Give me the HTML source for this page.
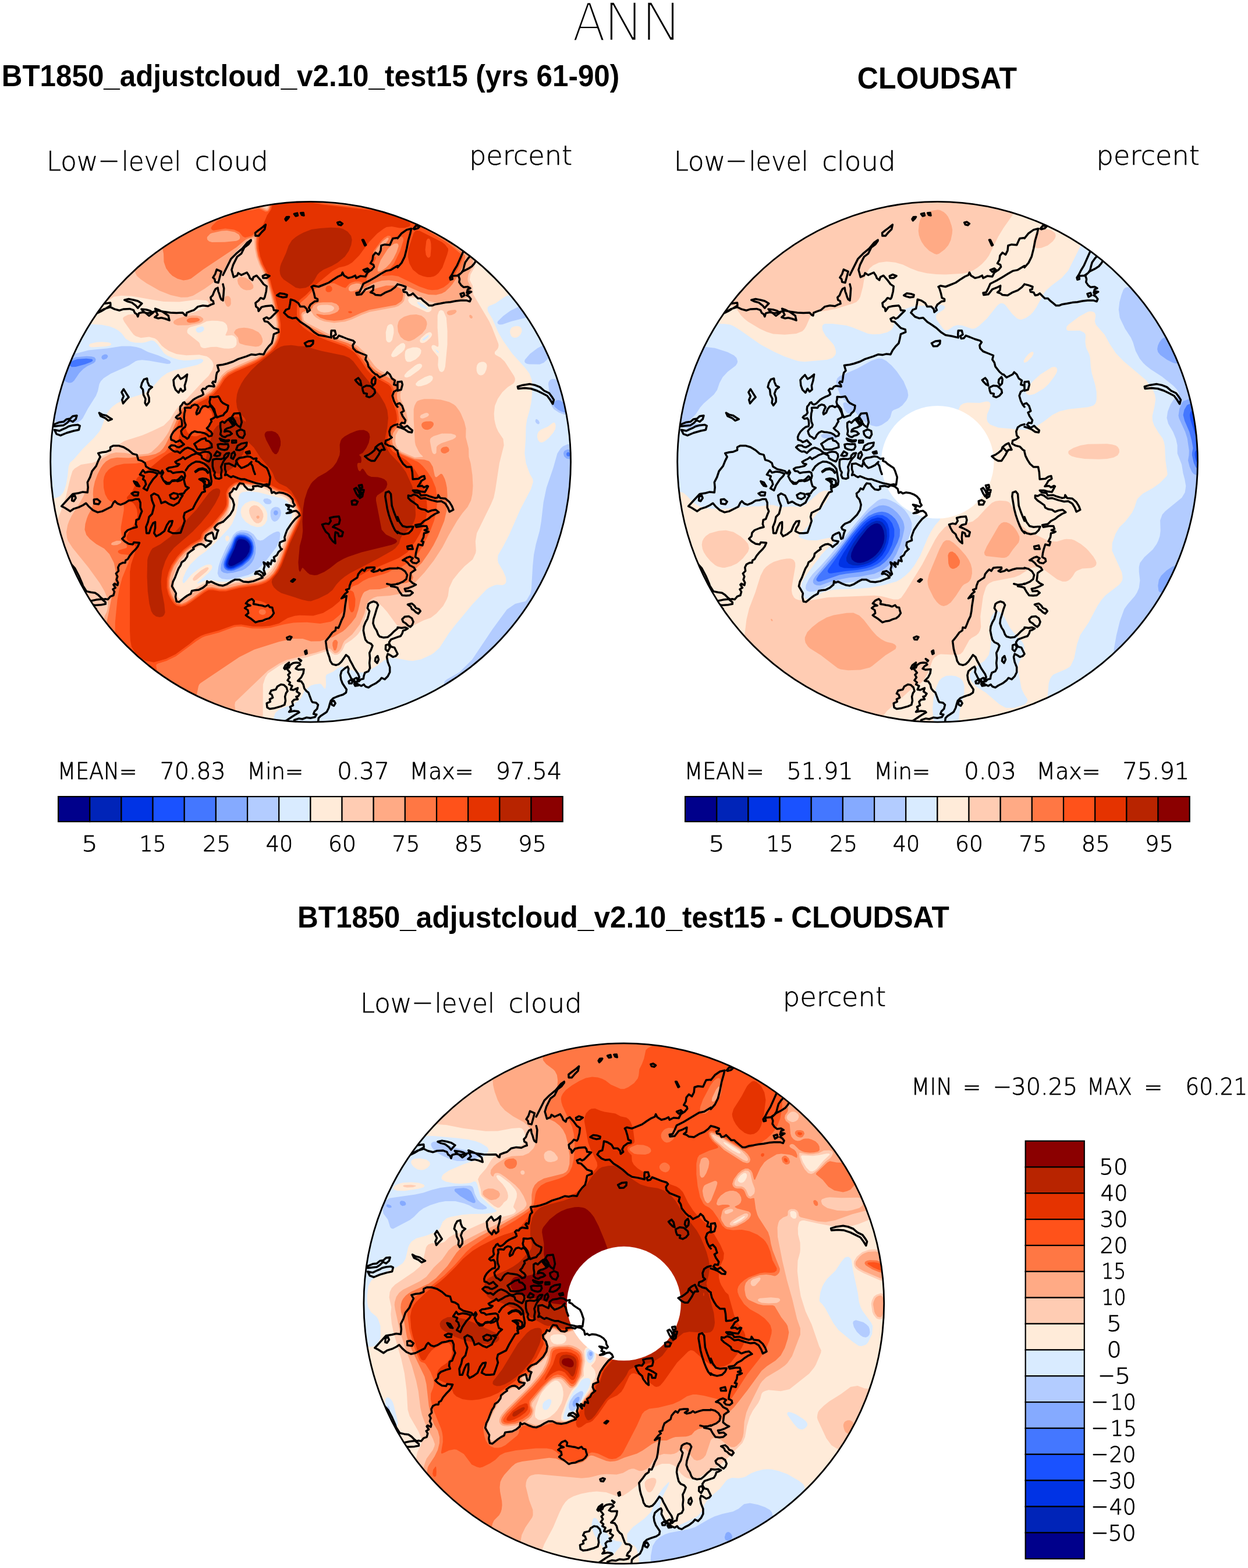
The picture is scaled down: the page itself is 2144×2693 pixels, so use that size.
<!DOCTYPE html>
<html lang="en"><head><meta charset="utf-8"><title>ANN Low-level cloud</title>
<style>
html,body{margin:0;padding:0;background:#fff;}
body{width:2144px;height:2693px;overflow:hidden;}
svg{display:block;}
.h{font-family:"DejaVu Sans Light","DejaVu Sans","Liberation Sans",sans-serif;font-weight:200;fill:#000;stroke:#000;stroke-linejoin:round;}
.b{font-family:"Liberation Sans",sans-serif;font-weight:700;fill:#000;}
.cl{fill:none;stroke:#000;stroke-width:3.5;stroke-linejoin:round;stroke-linecap:round;}
</style></head><body>
<svg width="2144" height="2693" viewBox="0 0 2144 2693">
<rect width="2144" height="2693" fill="#fff"/>
<defs>
<clipPath id="cp"><circle cx="0" cy="0" r="447.3"/></clipPath>
<g id="coast" class="cl"><path d="M-366.7,-255.8 -355.3,-262.3 -344,-265.8 -337,-262.3 -328.2,-260 -321.2,-262.3 -310.7,-262.8 -304.1,-260.5 -302,-255.8 -298.5,-253.5 -296.8,-249.5 -295,-255.3 -288,-257 -280.1,-255.3 -274,-256.5 -268.8,-257.9 -261.8,-259.6 -253,-257.9 -240.8,-256.1 -230.3,-255.8 -219.8,-256.1 -215.5,-251.8 -213.7,-251.2 -212.8,-256.1 -205.8,-258.8 -200.6,-260.5 -193.6,-266.6 -184.9,-268.4 -176.1,-267.5 -170.9,-270.1 -166.5,-271.5 -167.4,-276.2 -170.9,-278 -171.8,-282.4 -168.3,-285.9 -165.6,-292.9 -163,-297.2 -159.5,-299 -158.6,-292.9 -156.9,-288.5 -155.1,-282.4 -153.4,-278.9 -150.6,-277.1M-357.1,-271.5 -344,-273.3 -343.6,-268.4 -350.1,-264.5 -359.7,-258.8 -365.8,-255.8ZM-319.8,-278 -312.5,-279.7 -303.7,-278 -296.8,-276.2 -289.8,-271.9 -294.1,-267.5 -296.8,-264 -300.3,-268.4 -307.2,-273.6 -314.2,-275.4ZM-290.6,-262.3 -282.8,-261.4 -275.8,-259.6 -270.5,-256.1 -274,-253.5 -277.5,-250.9 -282.8,-255.3 -288,-258.8ZM-267,-263.1 -260,-260.5 -253,-257 -244.3,-250.9 -242.6,-243 -249.6,-245.7 -256.5,-247.4 -261.8,-246.5 -267.9,-248.3 -262.7,-252.6 -265.3,-257.9ZM-161.3,-330.4 -153.4,-326.9 -156,-317.3 -158.6,-307.7 -163.9,-308.9 -164.8,-313.8 -167.7,-316.5 -163.9,-322.6ZM-150.6,-277.1 -149.7,-285.9 -148.9,-298.1 -150.6,-305.1M-150.6,-320.8 -143.6,-334.8 -136.6,-348.8 -127.9,-357.5 -117.4,-366.3 -108.6,-376.8 -102.5,-381.1 -102.5,-379.4 -106.9,-373.3 -113.9,-368 -119.1,-357.5 -126.1,-352.3 -129.6,-345.3 -133.1,-338.3 -135.7,-329.6 -132.2,-317.3 -126.1,-320 -124.4,-324.3 -119.1,-320.8 -109.5,-325.2 -106,-320 -104.3,-315.6 -99.9,-312.1 -98.2,-317.3 -92.9,-320 -85.9,-312.1 -80.7,-305.1 -75.4,-301.6 -76.3,-292.9 -78.9,-282.4 -80.7,-279.7 -85.9,-281.5 -89.4,-277.1 -94.7,-272.8 -93.8,-266.6 -90.3,-264 -89.4,-258.8 -84.2,-265.8 -77.2,-267.5 -66.7,-268.4 -64.1,-264.9 -63.2,-260.5 -56.2,-259.6 -63.2,-252.6 -68.4,-247.4 -71.9,-245.7 -75.4,-248.3 -80.7,-245.7 -78.9,-241.3 -73.7,-240.4 -68.4,-235.2 -63.2,-229.9 -55.3,-227.3 -54.8,-222.9 -63.2,-219.4 -64.9,-210.7 -66.7,-203.7 -71.9,-198.5 -77.2,-191.5 -80.7,-184.5 -87.7,-185.3 -94.7,-183.6 -101.6,-184.5 -110.4,-181 -124.4,-176.6 -133.1,-172.2 -143.6,-168.7 -150.6,-167M-95,-393.4 -89.4,-397.8 -82.4,-403 -77.2,-407.4 -78.9,-399.5 -84.2,-394.3 -89.4,-388.1 -94.7,-388.1ZM-43.6,-417 -41.3,-420.5 -37,-420.8 -38.7,-417.9 -42.2,-414.4ZM-28.2,-425.7 -23,-427.1 -22.1,-423.1 -25.6,-422.2ZM-16.9,-427.5 -12.5,-427.8 -11.6,-423.1 -15.1,-424ZM46.1,-410.9 50.4,-412.1 54.8,-409.1 52.2,-406.5 47.8,-407.4ZM88.9,-381.1 90.7,-381.1 95,-372.4 93.3,-371.5ZM-82.4,-319.1 -77.2,-321.7 -70.5,-319.4 -75.4,-315.6 -81.5,-315.6ZM-57.9,-285.9 -52.7,-289.4 -45.7,-288.5 -40.5,-286.7 -41.3,-283.2 -47.5,-282.4 -53.6,-284.1ZM-10.2,-203.7 -3.7,-207.2 4.6,-208.1 4.1,-202.8 -0.3,-198.8 -7.2,-198.5ZM111.6,-150.2 106.4,-154.7 99.4,-163.5 97.7,-170.5 94.2,-175.7 95.9,-182.7 87.2,-186.2 78.4,-189.7 73.2,-195 72.3,-200.2 75.8,-205.4 73.2,-208.1 64.4,-210.7 55.7,-214.2 48.7,-216.8 45.2,-212.4 40.8,-211.6 39.1,-215.9 43.5,-218.6 41.7,-225.5 35.6,-225.5 35.1,-219.4 35.6,-213.3 24.2,-215.9 13.7,-217.7 6.7,-222.1 -2,-229.9 -10.7,-236 -17.7,-240.4 -24.7,-247.4 -31.7,-246.5 -38.7,-249.2 -45.7,-256.1 -42.2,-261.4 -37,-263.1 -35.2,-271.9 -34.3,-278.9 -28.2,-277.1 -21.2,-272.8 -17.7,-266.6 -10.7,-266.6 -6.4,-262.3 -5.5,-257 -1.1,-260.5 -2.9,-264.9 -0.3,-270.1 6.7,-275.4 12,-276.2 12,-279.7 7.6,-281.5 5.9,-289.4 3.2,-298.1 1.5,-300.7 5,-302.5 13.7,-300.7 22.5,-304.2 31.2,-307.7 40,-313.8 47,-318.2 53.1,-320.8 54.8,-325.2 57.4,-320 64.4,-315.6 71.4,-317.3 76.7,-320 78.4,-315.6 85.4,-319.1 94.2,-318.2 97.7,-325.2 104.6,-329.6 109,-334.8 108.1,-338.3 102.9,-340.9 106.4,-347.1 107.3,-354 111.6,-359.3 116.9,-355.8 120.4,-362.8 121.3,-371.5 127.4,-373.3 136.1,-372.4 139.6,-380.3 141.4,-383.8 149.4,-384.6M149.4,-336.6 137.9,-329.6 129.1,-327.8 120.4,-322.6 111.6,-317.3 102.9,-312.1 94.2,-307.7 90.7,-306 87.2,-298.1 83.7,-291.1 78.4,-290.2 79.3,-286.7 87.2,-287.6 94.2,-296.4 101.1,-299 108.1,-302.5 107.3,-294.6 102.9,-291.1 108.1,-289.4 111.6,-286.7 120.4,-285.9 129.1,-291.1 137.9,-294.6 144.9,-299.9 149.4,-305.1M90.7,-329.6 97.7,-332.2 100.3,-329.6 94.2,-326.1ZM149.4,-383.8 156.4,-392.5 165.1,-398.6 173,-400.4 171.3,-392.5 167.8,-380.3 165.1,-366.3 161.6,-352.3 156.4,-341.8 149.4,-333.9M176.5,-400.4 180.9,-405.6 187.9,-404.7 184.4,-401.2 178.2,-399.5ZM149.4,-305.1 156.4,-303.3 163.4,-300.7 162.5,-296.4 159,-295.5 159.9,-292 165.1,-291.1 167.8,-285.9 172.1,-286.7 175.6,-289.4 180,-285 184.4,-280.6 189.6,-280.6 193.1,-277.1 198.4,-272.8 203.6,-268.4 208.8,-268.4 214.1,-270.5 222.8,-271.9 231.6,-273.6 240.3,-274.5 249.1,-276.2 257.8,-277.1 268.3,-277.1 273.5,-275.4 275.3,-279.7 271.8,-284.1 268.3,-285.9 271.8,-289.4 276.1,-292 271.8,-292.9 268.3,-290.2 270,-296.4 274.4,-298.1 270,-300.7 263,-299.9 258.7,-303.3 255.2,-308.6 256,-313.8 254.3,-319.1 252.5,-320M240.3,-313 239.4,-316.5 242.9,-321.7 246.4,-328.7 251.7,-337.4 255.2,-345.3 258.7,-353.2 262.2,-361M240.3,-313 243.8,-313.8 242.9,-319.1 252.5,-320 258.7,-324.3 262.2,-329.6 263.9,-336.6 265.7,-342.7 270,-348.8 273.9,-353.2M253.4,-319.4 261.3,-326.9 270,-331.3 277,-335.7 281.4,-340.9 284,-345.3M257.4,-288.5 263,-290.2 264.4,-285.9 259.5,-283.2ZM-427.9,76.2 -419.1,66.6 -408.6,55.2 -398.2,53.5 -391.2,51.7 -383.3,52.6 -382.4,43.9 -383.3,35.1 -378.9,26.4 -375.4,15.9 -368.4,7.1 -364.9,-1.6 -361.4,-8.6 -364.9,-14.7 -357.9,-16.5 -350.9,-17.3 -344,-20 -344,-25.2 -338.7,-27.8 -330,-27.8 -321.2,-25.2 -312.5,-20 -305.5,-13.8 -298.5,-12.1 -295.9,-3.3 -289.8,-1.6 -284.5,1.9 -282.8,8 -275.8,12.4 -268.8,14.1 -261.8,15.9 -258.3,20.3 -254.8,15 -253,18.5 -256.5,24.6 -253,31.6 -247.8,37.7 -242.6,37.7 -239.1,33.4 -232.1,32.5 -226.8,29.9 -221.6,24.6 -218.1,28.1 -216.3,36.9 -214.6,42.1 -209.3,44.7 -214.6,49.1 -218.1,54.3 -225.1,55.2 -219.8,57.8 -223.3,63.1 -226.8,70.1 -235.6,75.3 -242.6,72.7 -249.6,68.3 -256.5,71 -258.3,64.8 -261.8,57.8 -268.8,54.3 -274,57.8 -272.3,66.6 -268.8,75.3 -270.5,82.3 -272.3,89.3 -277.5,94.6 -279.3,103.3 -282.8,112 -281.9,122.5 -277.5,122.5 -274,112 -270.5,105 -267,103.3 -267,113.8 -268.8,122.5 -265.3,127.8 -258.3,124.3 -251.3,119 -246.9,108.5 -242.6,102.4 -237.3,101.5 -239.1,108.5 -242.6,113.8 -244.3,119 -237.3,122.5 -230.3,122.5 -223.3,121.7 -219.8,112 -216.3,101.5 -218.1,94.6 -216.3,87.6 -209.3,84.1 -202.3,80.6 -197.1,70.1 -191.9,61.3 -186.6,52.6 -181.4,50.8 -183.1,42.1 -181.4,33.4 -184.9,31.6 -190.1,29.9M-427.9,76.2 -422.6,78.8 -413,84.9 -406.9,80.6 -398.2,77.9 -391.2,74.5 -385.9,71 -380.7,77.1 -373.7,83.2 -365.8,86.7 -357.9,84.9 -349.2,80.6 -342.2,77.1 -338.7,70.1 -336.1,67.5 -331.7,71.8 -326.5,73.6 -319.5,71 -312.5,66.6 -305.5,65.7 -300.3,64 -295,64 -292.4,70.1 -292.4,78.8 -289.8,84.9 -292.4,91.1 -295,98.1 -299.4,99.8 -300.3,106.8 -298.5,112 -305.5,113.8 -314.2,117.3 -318.6,121.7 -319.5,127.8 -323.9,132.1 -319.5,136.5 -312.5,140.9 -305.5,141.8 -303.7,138.3 -294.1,139.1 -296.8,145.3 -300.3,149.8M-293.3,22 -288,14.1 -284.5,18.5 -277.5,16.8 -270.5,17.6 -262.7,20.3 -265.3,24.6 -270.5,29.9 -274,35.1 -277.5,40.4 -281,49.1 -287.1,45.6 -282.8,38.6 -284.5,32.5 -288,29.9 -286.3,24.6ZM-303.7,33.4 -298.5,35.1 -294.1,42.1 -298.5,41.2 -302,36.9ZM-307.6,54.3 -302,51.7 -295.9,52.6 -296.8,57.8 -303.7,57.8ZM-372.3,64.8 -366.7,64 -361.4,68.3 -364.1,72.7 -371.9,71.8ZM-409.5,59.6 -405.1,57.8 -403.4,62.2 -406.9,67.5 -410,66.6ZM-241.7,57 -235.6,53.5 -228.6,55.2 -227.7,60.5 -233.8,64 -239.9,62.2ZM-440.1,-64.5 -431.4,-68 -424.4,-68.9 -419.1,-73.3 -413,-74.2 -408.6,-78.5 -401.6,-79.4 -403.4,-73.3 -408.6,-68.9 -413.9,-71.5 -419.1,-66.3 -424.4,-62.8 -433.1,-61.9 -440.1,-61ZM-440.1,-54.9 -431.4,-53.2 -426.1,-55.8 -420,-58.4 -415.6,-61 -408.6,-62.8 -399.9,-63.7 -396.4,-61.9 -398.2,-54.9 -406.9,-53.2 -419.1,-49.7 -429.6,-45.3 -436.6,-47.9ZM-363.2,-84.1 -357.9,-81.1 -350.9,-79.4 -345.7,-75.9 -341.3,-73.3 -347.5,-70.7 -352.7,-75 -360.6,-78.5ZM-321.2,-124.9 -316.9,-117.9 -312.5,-110.9 -317.7,-105.6 -322.1,-100.4 -323.9,-106.5 -321.2,-112.6 -324.7,-119.6ZM-281,-143.2 -286.3,-141.5 -289.8,-135.3 -291.5,-128.3 -288,-124 -287.1,-115.2 -283.6,-108.2 -284.5,-101.2 -281.9,-96.9 -277.5,-103 -277.5,-110 -280.1,-117 -277.5,-124 -272.3,-128.3 -277.5,-131 -280.1,-137.1ZM-235.6,-140.6 -232.1,-145 -227.7,-149.3 -223.3,-142.3 -218.1,-145 -212,-150.2 -213.7,-139.7 -216.3,-131 -215.5,-124 -219.8,-120.5 -223.3,-125.7 -226.8,-118.7 -232.1,-124 -234.7,-131ZM355.7,-129.2 364.4,-131.8 376.7,-133.6 385.4,-131.8 394.2,-128.3 401.1,-122.2 409.9,-117.9 415.1,-110.9 417.8,-106.5 416,-99.5 411.6,-106.5 406.4,-113.5 397.7,-117.9 388.9,-122.2 378.4,-125.7 367.9,-126.6 356.6,-125.7ZM149.4,-137.1 156.4,-138 157.8,-132.7 155.5,-124 149.4,-122.2ZM149.4,-99.5 152.9,-100.9 157.3,-96 160.2,-87.3 155.5,-84.6 158.1,-78.5 163,-71.5 161.6,-66.3 156.4,-67.2 153.8,-63.7 159.9,-58.4 166,-61.9 170.4,-57.5 174.7,-54 173.9,-50.5 167.8,-51.4 161.6,-55.8 155.5,-58.4 149.4,-60.2M149.4,-17.3 151.1,-10.3 154.6,-3.3 159,3.6 165.1,8.9 173,8.9 174.7,17.6 175.6,29.9 185.2,29 190.5,25.5 195.2,24.3 196.3,29 190.5,32.5 187,38.6 184.4,42.1 191.4,41.2 194.9,43.9 200.1,41.2 201.8,42.1 196.6,51.7 188.7,50.8 182.6,49.1 175.6,49.1 179.1,52.6 187,53.5 189.6,57.8 198.4,57 205.3,59.6 214.1,62.2 218.5,61.3 219.3,57 222.8,62.2 231.6,63.1 238.6,69.2 242.9,76.2 245.2,82.3 238.6,85.8 235.9,78.8 231.6,71.8 224.6,67.5 217.6,68.3 207.1,65.7 196.6,62.2 189.6,63.1 182.6,57.8 177.4,56.1 172.1,58.7 167.8,57.8 167.8,62.2 172.1,66.6 177.4,70.1 183.5,74.5 185.2,78.8 190.5,81.4 196.6,82.3 201.8,85.8 208.8,83.2 215,82.3 220.2,86.7 214.1,89.3 207.1,93.7 201.8,98.1 194.9,101.5 189.6,106.8 180,108.5 181.7,112 191.4,110.3 199.2,110.3 201,115.5 195.7,117.3 202.7,119.9 199.2,121.7 194.9,122.5 194,129.5 190.5,136.5 194,137.4 192.2,143.5 185.2,141.8 182.6,149.8M149.4,94.6 152.9,103.3 158.1,110.3 165.1,112 172.1,111.2 176.5,111.2 173.9,117.3 168.6,122.5 159.9,124.3 152.9,122.5 149.4,119.9M166,145.3 173.9,143.5 175.6,149.8 166.9,149.8ZM-300.3,149.8 -305.5,155 -310.7,161.2 -314.2,167.3 -317.7,169 -318.6,173.4 -323,173.4 -328.2,176 -330.8,181.3 -330,187.4 -334.3,191.8 -331.7,197 -333.5,202.2 -330.8,207.5 -331.7,211.9 -337,209.2 -338.7,211 -335.2,216.2 -339.6,218.9 -337,223.2 -338.7,229.3 -344,231.1 -348.3,236.3 -352.7,235.5 -356.2,236.3 -359.7,233.7 -364.9,228.5 -370.2,225 -377.2,224.1 -385,222.4 -391.2,212.7 -392.6,208.4 -398.2,195.6 -404.8,183 -411.8,175.1M-379.8,239.3 -368.4,236.9 -358.8,235.8 -352.3,241.1 -352.3,244.2 -359.7,245.6 -369.8,246.3 -375.1,245.6ZM-373.7,247.7 -368.4,252.9M-150.6,212.7 -156.9,211.9 -163.9,209.2 -170.9,205.7 -175.3,207.5 -177.9,204.9 -178.7,211 -184.9,216.2 -191.9,219.7 -198.9,220.6 -204.1,221.5 -205.8,226.7 -211.1,229.3 -216.3,232.8 -221.6,237.2 -225.9,240.7 -230.3,239.8 -232.1,232 -231.2,225.8 -234.7,219.7 -238.2,213.6 -236.4,205.7 -232.9,198.8 -230.3,191.8 -226.8,183 -223.3,177.8 -221.6,172.5 -216.3,169 -212,162.9 -211.1,157.7 -205.8,153.3 -200.6,149.8M-150.6,212.7 -143.6,210.1 -136.6,205.7 -129.6,202.2 -122.6,202.2 -115.6,205.7 -106.9,206.6 -98.2,204.9 -89.4,201.4 -82.4,198.8 -85.9,194.4 -91.2,191.8 -95.5,192.6 -93.8,189.1 -87.7,187.4 -82.4,190.9 -80.7,195.3 -78,192.6 -80.7,184.8 -78.9,178.6 -80.7,172.5 -76.3,175.1 -71.9,180.4 -73.7,172.5 -68.4,176 -66.7,169 -61.4,170.8 -63.2,163.8 -57.9,160.3 -55.3,155 -49.2,149.8M-111.3,243.3 -106.9,238.1 -100.8,235.5 -97.3,239 -98.2,244.2 -92.9,245.1 -88.5,246 -83.3,246.8 -78,248.6 -72.8,246 -70.2,249.5 -65.8,250.3 -64.9,254.7 -63.2,259.9 -66.7,265.2 -71.1,268.7 -77.2,270.4 -83.3,273.1 -89.4,273.9 -94.7,275.7 -99,272.2 -103.4,268.7 -107.8,266.1 -111.3,263.4 -106.9,259.9 -107.8,254.7 -113,251.2 -108.6,247.7 -103.4,246.8 -106.9,245.1ZM-33.5,204.9 -29.1,201.4 -26.8,202.2 -30.8,206.1ZM-40.8,301.9 -36.1,299.8 -32.6,301 -35.2,305.4 -39.6,305ZM-9.9,325.5 -7.2,323.8 -6.4,329 -8.6,330.2ZM-20.4,338.3 -16,341.2 -16.9,342.5ZM-27.3,445.3 -28.2,443.5 -20.4,440.9 -14.2,441.8 -7.2,439.1 -0.3,440 7.6,438.3 10.2,433.9 5,433 6.7,428.6 11.1,424.3 12.9,417.3 9.4,413.8 3.2,412.9 1.5,410.3 -1.1,403.3 -3.7,396.3 -7.2,393.7 -10.7,389.3 -12.5,382.3 -16,377.1 -22.1,376.2 -20.4,374.5 -16,370.1 -12.5,363.1 -11.6,356.4 -21.2,357 -25.6,355.2 -22.1,350.8 -17.7,348.2 -19.5,345.3 -24.7,344.7 -30,345.6 -35.2,349.1 -37,353.5 -42.2,354.3 -38.7,357.8 -35.2,362.2 -38.7,365.7 -36.1,370.1 -39.6,375.3 -35.2,378.8 -37,382.3 -31.7,384.9 -34.3,391.1 -30,391.9 -22.1,388.4 -23.9,394.6 -18.6,398.1 -21.2,402.4 -24.7,403.3 -22.1,407.7 -28.2,408.5 -31.7,412 -30,418.2 -35.2,420.8 -33.5,425.1 -37,429.5 -28.2,427.8 -21.2,428.6 -19.5,430.4 -25.6,433.9 -30,436.5 -35.2,440 -40.5,443.5 -44,445.3M-45.7,354.3 -43.1,349.1 -37,344.7 -38.7,349.1 -41.3,353.5 -44,356.1ZM-75.4,414.7 -69.3,412 -70.2,407.7 -64.9,405 -66.7,399.8 -70.2,398.1 -67.6,392.8 -59.7,391.1 -57.1,385.8 -50.9,382.3 -45.7,383.2 -41.3,387.6 -39.6,393.7 -42.2,397.2 -44,403.3 -43.1,410.3 -44.8,417.3 -50.9,419.9 -57.1,421.7 -63.2,423.4 -70.2,424.3 -74.6,421.7ZM149.4,183 136.1,183 129.1,184.8 122.1,187.4 118.6,184.8 115.1,187.4 108.1,189.1 104.6,187.4 109.9,183.9 109.9,181.3 102.9,181.3 95.9,182.1 92.4,187.4 88.9,184.8 85.4,188.3 81.9,192.6 80.2,198.8 74.9,202.2 69.7,205.7 67.1,212.7 66.2,218 60.9,219.7 63.6,223.2 59.2,226.7 55.7,231.1 53.1,234.6 58.3,232 61.8,230.2 60.9,237.2 59.2,247.7 58.3,256.4 56.6,265.2 53.1,272.2 50.4,279.2 47.8,285.3 43.5,284.4 42.6,289.7 37.3,293.2 33,299.3 29.5,303.6 26,308 26.8,314.1 27.7,321.1 29.5,328.1 32.1,335.1 33.8,342.1 37.3,347.4 43.5,349.1 48.7,347.4 53.1,343 57.4,336.9 60.9,331.6 65.3,335.1 67.9,341.2 71.4,347.4 74.9,354.3 78.4,359.6 81.9,364.8 83.7,370.1 80.2,373.6 82.8,377.1 86.3,373.6 90.7,372.7 91.5,367.5 93.3,362.2 99.4,359.6 102,354.3 101.1,345.6 102,336.9 101.1,328.1 103.8,322.9 106.4,315.9 103.8,312.4 97.7,309.8 94.2,305.4 92.4,298.4 90.7,289.7 91.5,282.7 94.2,275.7 97.7,269.6 99.4,263.4 101.1,256.4 97.7,251.2 99.4,244.2 102.9,241.6 108.1,239.8 113.4,241.6 116,246 113.4,252.9 110.8,261.7 108.1,270.4 107.3,277.4 109.9,284.4 113.4,289.7 116,296.7 118.6,300.1 125.6,301.9 132.6,301 137.9,296.7 143.1,291.4 149.4,286.2M12.9,447 13.7,440 17.2,436.5 22.5,433 27.7,429.5 31.2,422.5 33,415.5 34.7,410.3 39.1,405.9 45.2,403.3 50.4,401.5 55.7,399.8 60.9,396.3 61.8,391.1 58.3,385.8 54.8,380.6 52.2,373.6 51.3,366.6 53.1,359.6 59.2,354.3 63.6,351.7 65.3,355.2 64.4,361.3 67.1,366.6 69.7,371.8 73.2,375.3 76.7,380.6 81.9,382.3 87.2,384.9 91.5,382.3 94.2,385.8 99.4,387.6 104.6,384.1 111.6,380.6 118.6,375.3 122.1,371 127.4,373.6 132.6,368.3 136.1,361.3 136.1,352.6 132.6,343.9 130.9,335.1 132.6,329.9 136.1,331.6 141.4,335.1 146.6,333.4 149.4,329.9M65.3,377.1 68.8,374.5 72.3,377.1 70.6,380.6 66.2,380.6ZM74.1,373.6 78.4,371 82.8,372.7 81,377.1 75.8,377.9ZM74.9,381.4 80.2,380.6 81.9,384.1 76.7,384.9ZM35.6,412 40,410.3 42.6,414.7 40,419 36.5,417.3ZM111.6,336.9 115.1,333.4 116.9,339.5 114.3,345.6 110.8,342.1ZM129.1,315 134.4,313.3 136.1,319.4 132.6,325.5 128.8,322ZM131.2,209.6 137.9,211.3 144.9,210.6 149.4,209.2M137.9,213.6 144.9,214.8 149.4,216.2M182.6,149.8 180.9,156.8 180,163.8 185.2,166.4 186.1,170.8 181.7,174.3 175.6,173.4 172.1,169.9 175.6,165.5 170.4,162.9 165.1,164.7 158.1,169 162.5,169.9 166.9,173.4 170.4,177.8 177.4,181.3 180,185.6 175.6,188.3 172.1,190.9 171.3,197 170.4,204 175.6,208.4 180.9,211 173.9,214.5 166.9,217.1 161.6,218 163.4,222.4 171.3,221.5 175.6,225 170.4,229.3 164.3,229.9 157.3,229.3 152.9,223.2 149.4,217.1M149.4,182.1 156.4,183.9 162.5,188.3 166,194.4 164.3,201.4 159,205.7 152.9,208.4 149.4,210.1M166.9,245.1 173.9,243.3 178.2,246.8 180.9,251.2 186.1,252.9 188.7,256.4 185.2,260.8 180.9,258.2 177.4,254.7 173.9,252.9 172.1,248.6ZM157.3,270.4 161.6,266.1 168.6,265.2 173.9,268.7 176.5,274.8 174.7,280 171.3,283.5 166.9,280.9 163.4,277.4 159,274.8ZM149.4,284.4 156.4,285.3 162.5,284.4 166.9,286.2 162.5,288.8 159,289.7 157.3,294.9 154.6,299.3 149.4,301M-150.6,103.3 -145.4,98.1 -138.4,91.1 -133.1,82.3 -131.4,73.6 -134,64.8 -138.4,59.6 -139.2,54.3 -134.9,50.8 -132.2,45.6 -127.9,47.4 -124.4,40.4 -121.8,36.9 -115.6,37.7 -113,42.1 -107.8,47.4 -101.6,48.2 -98.2,46.5 -99,42.1 -91.2,41.2 -84.2,43 -80.7,40.4 -73.7,42.1 -68.4,46.5 -66.7,53.5 -63.2,51.7 -59.7,54.3 -54.4,52.6 -47.5,53.5 -40.5,56.1 -35.2,59.6 -30.8,64.8 -30,70.1 -27.3,74.5 -30,77.1 -37,74.5 -42.2,73.6 -37,77.9 -38.7,81.4 -33.5,83.2 -37,86.7 -41.3,88.4 -35.2,87.6 -30,84.9 -24.7,84.1 -20.4,87.6 -18.6,91.9 -22.1,94.6 -26.5,98.1 -30,102.4 -33.5,106.8 -37,112 -40.5,117.3 -43.1,124.3 -44.8,129.5 -44,134.8 -48.3,136.5 -52.7,138.3 -53.6,143.5 -50.9,149.8M-147.1,3.6 -140.1,2.8 -134.9,5.4 -129.6,8 -127.9,1.9 -127,-3.3 -122.6,-6.8 -115.6,-7.7 -108.6,-9.5 -103.4,-8.6 -98.2,-5.1 -92.9,-6 -93.8,-1.6 -89.4,0.1 -85.9,3.6 -80.7,7.1 -75.4,10.6 -72.8,15.9 -71.1,21.1 -69.3,26.4 -70.2,33.4 -71.1,39.5 -75.4,38.6 -80.7,39.5 -87.7,37.7 -92.9,36.9 -98.2,35.1 -103.4,33.4 -108.6,31.6 -113,29.9 -119.1,29.9 -124.4,28.1 -128.7,26.4 -133.1,24.6 -136.6,26.4 -140.1,24.6 -143.6,22 -147.1,22.9 -145.4,17.6 -147.1,12.4ZM-103.4,1.9 -99.9,7.1 -98.2,14.1 -95.5,21.1M-127.9,-1.6 -124.4,5.4 -119.1,10.6 -113.9,8.9 -106.9,5.4 -101.6,0.1M-131.4,-82.9 -121.8,-83.8 -120,-76.8 -118.3,-68 -120.9,-59.3 -126.1,-62.8 -129.6,-68 -133.1,-73.3 -136.6,-75ZM-127,-52.3 -120,-55.8 -113.9,-53.2 -113,-47.1 -116.5,-40.9 -122.6,-42.7 -126.1,-47.1ZM-125.3,-27.8 -119.1,-31.3 -109.5,-33.1 -110.4,-27.8 -115.6,-22.6 -121.8,-20 -127.9,-20.8ZM-135.7,-13.8 -131.4,-17.3 -129.6,-12.1 -133.1,-5.1 -136.6,-6.8ZM-111.3,-16.5 -105.1,-18.2 -104.3,-14.7 -109.5,-13.8ZM-134.9,-36.6 -127.9,-36.6 -127.9,-33.1 -134.9,-32.7ZM76.7,-140.6 81.9,-144.1 85.4,-139.7 87.2,-131 83.7,-132.7 79.3,-137.1ZM88.9,-127.5 95.9,-131 102.9,-130.1 109.9,-124 110.8,-118.7 106.4,-113.5 101.1,-110.9 95.9,-112.6 96.8,-117 91.5,-117.9 89.8,-122.2ZM105.5,-141.5 109.9,-145.8 111.6,-141.5 110.8,-134.5 107.3,-131 104.6,-136.2ZM113.4,-150.2 118.6,-145 125.6,-148.5 129.1,-150.2 131.7,-154 136.1,-150.2 139.6,-143.2 144.9,-139.7 143.1,-132.7 149.4,-131M149.4,-124 143.1,-120.5 140.5,-113.5 143.1,-104.7 146.6,-97.8 149.4,-94.3M93.3,-9.5 99.4,-12.1 104.6,-15.6 109.9,-20 111.6,-25.2 116.9,-29.6 122.1,-32.2 127.4,-20.8 122.1,-20.8 119.5,-17.3 116.9,-12.1 113.4,-6.8 109.9,-1.6 104.6,-1.6 99.4,-4.2ZM111.6,-25.2 119.5,-17.3M149.4,-64.5 143.1,-62.8 137.9,-59.3 135.2,-52.3 136.1,-45.3 139.6,-41.8 134.4,-38.3 129.1,-36.6 128.2,-31.3 134.4,-27.8 141.4,-26.1 146.6,-20.8 149.4,-19.1M74.9,46.5 78.4,44.7 81.9,49.1 84.5,55.2 81.9,59.6 78.4,54.3ZM82.8,40.4 88,39.5 88.9,43.9 84.5,45.6ZM85.4,47.4 91.5,48.2 90.7,52.6 86.3,53.5ZM85.4,56.1 89.8,55.2 88.9,59.6 84.5,62.2ZM70.6,67.5 75.8,65.7 81,68.3 78.4,73.6 71.4,73.6ZM19.9,107.7 26,105.9 31.2,106.8 34.7,101.5 33,96.3 40,94.6 48.7,93.7 50.4,99.8 48.7,106.8 41.7,108.5 38.2,112 43.5,113.8 50.4,117.3 55.7,120.8 53.9,127.8 48.7,127.8 47,122.5 42.6,120.8 41.7,129.5 42.6,140 38.2,136.5 33,129.5 31.2,124.3 26,119.9 22.5,113.8ZM149.4,101.5 146.6,94.6 143.1,85.8 139.6,75.3 138.7,64.8 137.9,55.2 134.4,50.8 129.1,52.6 128.2,59.6 130,70.1 131.7,80.6 134.4,91.1 137.9,101.5 141.4,110.3 144.9,117.3 149.4,122.5M-150.6,-167 -160.2,-165.7 -157.6,-156.6 -160.9,-153.2 -162,-148.5 -162.6,-142.7 -163.8,-136.9 -167.3,-138 -169,-135.7 -166.1,-132.2 -165.5,-129.3 -170.2,-129.9 -174.8,-130.5 -178.3,-128.7 -180.7,-125.2 -184.7,-125.8 -187.1,-122.9 -185.3,-120 -184.2,-115.9 -187.7,-113.6 -192.3,-111.8 -197,-109.5 -201.6,-106.6 -205.1,-103.1 -208.1,-100.2 -212.1,-98.4 -215.1,-99.6 -216.8,-102.5 -219.1,-101.3 -221.5,-97.3 -223.8,-94.9 -224.4,-89.7 -223.2,-84.4 -225.5,-80.9 -229.6,-78.6 -231.4,-76.3 -228.5,-73.9 -223.8,-75.1 -221.5,-71.6 -220.9,-65.8 -221.5,-61.1 -226.1,-60 -230.8,-56.5 -235.4,-51.8 -238.4,-47.1 -240.1,-42.5 -239.5,-37.8 -235.4,-36.6 -231.4,-33.7 -227.3,-35.5 -224.4,-37.2 -220.9,-33.2 -217.4,-30.2 -221.5,-27.3 -226.1,-25 -229.6,-25.6 -233.1,-27.9 -238.9,-28.5 -243,-25 -240.1,-22.1 -236.6,-19.2 -233.1,-17.4 -229,-18 -224.4,-15.1 -220.3,-19.2 -215.6,-22.7 -211,-24.4 -206.3,-22.7 -201.6,-20.3 -198.2,-17.4 -194.7,-15.1 -190,-14.5 -185.3,-16.8 -180.7,-17.4 -174.8,-16.8 -171.3,-13.3 -170.8,-8.7 -172.5,-4 -174.8,-0.5 -180.7,-2.9 -186.5,-6.3 -187.7,-11 -192.3,-13.3 -195.8,-14.5 -199.3,-13.3 -204,-11.6 -208.6,-8.7 -213.3,-6.3 -215.6,-4.6 -219.1,-8.1 -222.6,-5.2 -227.3,-2.9 -232.5,0.1 -230.2,3 -225.5,4.1 -228.5,7.1 -233.1,8.2 -238.9,9.4 -243.6,10 -247.1,12.3 -244.8,15.8 -240.1,16.4 -236.6,19.3 -230.8,18.1 -225,17.5 -220.3,17 -216.8,18.7 -215.6,24 -216.8,28.6 -220.3,29.8 -223.8,32.1 -228.5,33.3 -233.1,31.5 -237.8,32.1 -240.7,35.6 -245.9,36.2 -250.6,33.3M-216.2,-92.6 -212.1,-93.2 -206.3,-92.6 -204,-96.1 -199.3,-98.4 -194.7,-97.3 -192.3,-93.8 -194.7,-89.1 -196.4,-84.4 -195.8,-81.5 -191.2,-84.4 -188.8,-90.3 -185.3,-94.9 -180.7,-96.1 -176,-93.8 -172.5,-96.1 -169,-92.6 -166.7,-87.9 -164.4,-83.3 -163.2,-77.4 -166.7,-75.1 -171.3,-72.8 -170.2,-69.3 -172.5,-65.8 -174.8,-61.1 -178.3,-57.6 -174.8,-54.1 -171.3,-51.8 -169,-48.3 -170.2,-44.8 -174.8,-43.6 -178.3,-47.1 -183,-49.5 -188.8,-50.6 -194.7,-51.2 -199.3,-52.4 -204,-50.1 -207.5,-46 -209.8,-41.3 -212.1,-39.6 -215.6,-42.5 -219.1,-44.2 -221.5,-48.3 -222.6,-53 -219.1,-57.6 -215.6,-60 -214.5,-63.5 -216.8,-69.3 -217.4,-76.3 -216.8,-83.3 -215.6,-87.9ZM-172.5,-111.8 -165.5,-111.2 -158.5,-112.4 -156.2,-108.9 -153.9,-104.2 -150.4,-100.8 -145.7,-98.4 -141.6,-96.7 -142.2,-91.4 -144,-86.8 -148,-83.3 -150.4,-79.8 -155,-78.6 -160.9,-76.3 -163.8,-83.3 -165.5,-90.3 -169,-94.9 -172.5,-98.4 -173.7,-103.1 -172.5,-107.7ZM-155,-67 -151.5,-69.3 -148,-67 -143.4,-71.6 -138.7,-75.1 -134,-76.3 -129.4,-69.3 -130.6,-63.5 -134,-61.1 -138.7,-58.8 -143.4,-57.6 -146.9,-55.3 -148,-51.8 -143.4,-53 -138.7,-51.8 -135.2,-48.3 -138.7,-46 -143.4,-44.8 -146.9,-42.5 -151.5,-43.6 -155,-47.1 -153.9,-53 -155,-60ZM-141,-72.8 -136.4,-67 -132.9,-62.3M-138.7,-73.9 -134,-68.1 -130.6,-64.6M-156.2,-40.1 -151.5,-38.4 -145.7,-36.6 -139.9,-37.2 -141,-35.5 -146.9,-34.3 -153.9,-36.6ZM-159.7,-29.7 -155,-30.8 -149.2,-30.2 -142.2,-30.8 -141,-26.2 -143.4,-21.5 -148,-20.3 -153.9,-21.5 -158.5,-23.8ZM-165.5,-11 -160.9,-18 -155,-14.5 -156.2,-11 -160.9,-9.8ZM-199.9,-30.8 -194.7,-34.3 -187.7,-39 -180.7,-40.7 -179.5,-36.6 -174.8,-35.5 -170.2,-30.8 -169.6,-25 -173.7,-23.8 -180.7,-21.5 -187.7,-20.9 -194.7,-21.5 -197,-26.2ZM-167.8,-4 -162,-5.2 -153.9,-4.6 -149.2,-6.3 -148,-11 -144.5,-14.5 -139.9,-15.1 -142.2,-9.8 -145.7,-6.3 -149.2,-1.7 -151.5,3 -153.9,8.8 -152.7,14.6 -153.9,21.6 -153.3,27.5 -157.4,29.2 -163.2,28 -165.5,22.8 -164.4,18.1 -166.7,14.6 -168.4,7.6 -168.4,0.6ZM-214.5,14.6 -209.8,7.6 -204,3 -197,-0.5 -190,0.1 -183,3 -177.2,7.6 -173.7,12.3 -172.5,19.3 -171.3,26.3 -170.2,33.3 -171.3,39.1 -176,42.6 -180.7,43.8 -183,46.8M-198.2,16.4 -192.3,12.3 -185.3,11.1 -179.5,13.5 -176,18.1M-197.6,17.5 -191.7,13.7 -185.3,12.5 -180.1,14.6 -176.6,19.1M-191.2,29.8 -185.3,28.6 -179.5,29.2 -174.8,32.1 -174.3,37.9 -178.3,41.4 -181.8,37.9 -185.3,33.3ZM-149.4,102.1 -154,104.4 -158.7,106.1 -162.2,109.1 -165.1,112.6 -163.4,116.1 -158.7,117.8 -160.5,121.9 -161.6,126.5 -162.8,131.2 -165.7,132.4 -166.9,127.7 -168,123 -169.2,121.3 -175,123.6 -179.7,126.5 -181.4,131.2 -179.7,134.7 -175,135.9 -170.4,136.5 -172.1,139.9 -176.2,142.9 -180.3,146.4 -183.8,142.9 -187.8,141.1 -192.5,141.7 -197.2,144 -201.8,147.5 -200.7,149.9M149.4,301 138.4,304.9 134.9,309.8 135.6,313.3 138.4,317.5 144,318.9 146.8,324.5 149.4,329.9"/></g>
</defs>
<g transform="translate(533.6,793.2)"><g clip-path="url(#cp)"><circle r="447.3" fill="#00008b"/><path fill="#0024b8" fill-rule="evenodd" d="M-449.5,-449.5 449.5,-449.5 449.5,449.5 -449.5,449.5ZM-123.5,133.4 -126.5,136.5 -130.8,149.5 -140.5,170 -141.5,175.5 -139.3,178.5 -135.5,178.8 -131.6,177.5 -119,170.5 -110.5,162.7 -105.5,154.2 -104.3,145.5 -105.5,141.3 -107.5,138.2 -110.4,135.5 -114.5,133.6 -119.5,132.9Z"/>
<path fill="#0033e5" fill-rule="evenodd" d="M-449.5,-449.5 449.5,-449.5 449.5,449.5 -449.5,449.5ZM-122.5,130.4 -125.5,131.6 -128.5,135.5 -132.8,148.5 -142.5,168.9 -144,176.5 -142.7,179.5 -140.5,181 -136.5,181.5 -132.5,180.6 -118.9,173.5 -109.5,165.4 -105.9,160.5 -103.5,155.5 -102.2,145.5 -103.4,140.5 -105.5,136.9 -108.5,133.9 -112.7,131.5 -117.5,130.4Z"/>
<path fill="#1a52ff" fill-rule="evenodd" d="M-449.5,-449.5 449.5,-449.5 449.5,449.5 -449.5,449.5ZM-122.5,128.4 -126.5,130.1 -129.1,133.5 -134,147.5 -140.7,160.5 -144.5,169.8 -145.7,174.5 -145.5,178.1 -144.4,180.5 -141.5,182.7 -137.5,183.4 -132.6,182.5 -118.5,175.5 -108.5,166.9 -104.5,161.5 -102.1,156.5 -100.8,150.5 -100.7,145.5 -102.2,139.5 -104.5,135.5 -107.5,132.5 -112.5,129.6 -117.5,128.5Z"/>
<path fill="#4477ff" fill-rule="evenodd" d="M-449.5,-449.5 449.5,-449.5 449.5,449.5 -449.5,449.5ZM-124.5,127.1 -128.1,129.5 -130.7,133.5 -135.5,147.2 -142.8,161.5 -146.7,171.5 -147.5,175.5 -147,179.5 -145.1,182.5 -141.5,184.7 -136.5,185.1 -131.5,183.9 -122.5,179.9 -116.5,176.2 -106,166.5 -102.6,161.5 -100.2,155.5 -99.2,148.5 -99.5,143.5 -100.9,138.5 -104.1,133.5 -107.5,130.4 -112.5,127.8 -119.5,126.5Z"/>
<path fill="#85aaff" fill-rule="evenodd" d="M-449.5,-449.5 449.5,-449.5 449.5,449.5 -449.5,449.5ZM-385.5,-177.5 -400.5,-176.4 -406.6,-174.5 -410.5,-172.5 -412.6,-170.5 -413.7,-167.5 -413.5,-165.5 -410.5,-162.9 -403.5,-163.1 -387.7,-167.5 -377.2,-171.5 -374.4,-173.5 -374.4,-175.5 -375.9,-176.5ZM-121.5,124.5 -126.5,126 -130.8,130.5 -137.5,147.1 -144,159.5 -148.8,171.5 -149.6,176.5 -148.7,181.5 -146.4,184.5 -142.5,186.7 -136.5,187.2 -131.5,186.2 -123.5,182.9 -116.5,178.9 -105.6,169.5 -101.9,164.5 -99,158.5 -97.8,153.5 -97.5,145.5 -99,138.5 -100.9,134.5 -104.5,130.1 -109.5,126.7 -114.5,125ZM441.5,-16.7 439.5,-14.5 439.7,-11.5 441.5,-9.5 444.5,-9.4 446.2,-11.5 445.7,-14.5 443.8,-16.5Z"/>
<path fill="#b3ccff" fill-rule="evenodd" d="M-449.5,-449.5 449.5,-449.5 449.5,-15.6 446.5,-19.8 444.5,-21 441.5,-21.4 436.5,-19.2 435.2,-17.5 434.3,-14.5 435.5,-9.5 439.5,-5.6 444.5,-4.7 449.5,-6.4 449.5,449.5 -449.5,449.5ZM-384.5,-181.5 -403.5,-179.7 -411.5,-176.2 -416.5,-172.5 -424.9,-160.5 -427.3,-153.5 -427.5,-146.5 -424.2,-140.5 -420.2,-137.5 -415.5,-135.7 -412.5,-135.6 -409.5,-136.7 -406.3,-139.5 -397.4,-152.5 -390.6,-159.5 -383.5,-164.5 -372.5,-169.7 -369.7,-172.5 -369,-176.5 -371.5,-179.6 -376.5,-181ZM-354.5,-184.5 -358.1,-182.5 -359.4,-179.5 -358.1,-176.5 -355.5,-175.5 -350.5,-177.3 -348.2,-180.5 -348.5,-182.5 -349.5,-183.7 -351.5,-184.6ZM-121.5,121.4 -127.5,123.9 -131.7,128.5 -150.5,167.2 -153.5,175.9 -154.5,183.5 -153.5,187.5 -149.5,190.4 -143.5,191.5 -133.5,190.6 -117.5,186.2 -111.5,183.1 -105.5,178.1 -100.8,172.5 -97.3,166.5 -94.7,157.5 -94.2,147.5 -95.7,138.5 -98.2,132.5 -101.5,127.4 -107.5,123.1 -114.5,121.4ZM-60.5,83.3 -62.6,84.5 -63.7,87.5 -62.5,90.7 -59.5,92 -56.5,90.1 -55.8,86.5 -57.5,83.9ZM422.5,-105.7 419.4,-103.5 417.6,-100.5 417.7,-97.5 419.5,-94.2 425.3,-89.5 430.7,-86.5 436.5,-84.8 439.8,-85.5 440.9,-87.5 440.6,-91.5 436.5,-99.7 429.2,-105.5 425.5,-106.3Z"/>
<path fill="#d9ebff" fill-rule="evenodd" d="M-449.5,-449.5 449.5,-449.5 449.5,-30.5 441.5,-30.1 433.5,-26.7 429.5,-23 423.9,-14.5 416.8,10.5 405.2,44.5 400,69.5 396.2,102.5 393.5,118.4 387.1,141.5 383.5,159.5 381.6,178.5 379.3,218.5 377.5,226.5 371.7,236.5 369,239.5 351.5,243.9 337.3,253.5 312.4,287.5 277.6,339.5 255.5,361.5 234.5,373.2 230.6,376.5 218.4,411.5 218,449.5 -449.5,449.5ZM-324.5,-198.6 -348.5,-194.9 -381.5,-191.8 -400.5,-186.7 -430.5,-183.1 -434.5,-181.5 -436.3,-178.5 -442.7,-158.5 -444.5,-148.5 -444.3,-94.5 -438.7,-70.5 -436.5,-66.3 -433.5,-65.1 -426.5,-65 -404.5,-66.8 -399.5,-68 -394.4,-71.5 -391.5,-74.8 -382.6,-91.5 -368.7,-113.5 -365.5,-121.7 -363,-133.5 -360.5,-138.5 -355.5,-143.8 -343.3,-151.5 -312.5,-165.3 -300.5,-173 -296.5,-174.3 -289.5,-174.9 -277.5,-173.8 -246.5,-168.1 -242.1,-168.5 -240,-170.5 -241.5,-173.5 -245.1,-175.5 -261.5,-182.6 -279.5,-188.8 -291.5,-195 -299.5,-197.3 -309.5,-198.7ZM-119.5,117.3 -127.5,120.2 -133,125.5 -138.3,136.5 -144.8,146.5 -155,169.5 -158.1,179.5 -159.9,191.5 -157.6,197.5 -152.5,200.7 -143.5,202.1 -130.7,200.5 -107.4,194.5 -96.5,189.3 -84.3,178.5 -74,166.5 -58.8,146.5 -53.2,133.5 -52.1,123.5 -53.5,120.6 -55.5,119.5 -58.5,119.8 -63.5,121.9 -71.5,126.6 -81.5,134 -86.5,135.2 -91.5,133.5 -97.9,124.5 -104.5,119.7 -110.5,117.8ZM-79.5,63.3 -81.2,65.5 -81.2,67.5 -78.2,71.5 -75.5,72.6 -71.5,72.8 -69.5,72.3 -67.4,70.5 -67.1,67.5 -69.7,64.5 -74.5,62.9ZM-60.5,77.3 -63.5,78.2 -66.5,80.4 -68.4,83.5 -69,86.5 -68.7,93.5 -67.2,98.5 -64.5,101.8 -61.5,102.7 -57.5,101 -54.3,97.5 -51.7,92.5 -50.7,87.5 -51.3,83.5 -53.5,79.6 -56.5,77.7ZM357.5,-266.5 343.5,-259.6 330.8,-250.5 321.7,-241.5 320.9,-239.5 321.5,-237.1 324.5,-235.6 329.5,-235.9 344.5,-241.1 373.5,-248.5 376.5,-249.6 378.5,-251.4 379.1,-253.5 378.3,-256.5 370.8,-263.5 363.5,-266.7ZM398.5,-199.6 390,-195.5 376.8,-185.5 368.2,-175.5 367.5,-172.5 368.5,-170.3 371.5,-168.5 375.5,-167.7 393.5,-167.4 400.5,-170.3 408.1,-177.5 416.7,-181.5 417.9,-183.5 417.5,-186.5 410.5,-195.7 403.5,-199.7ZM386.5,-72.6 386,-69.5 387.5,-66.7 390.5,-64.6 392.5,-65 393.4,-67.5 391.5,-71.2 388.5,-73.4ZM415.5,-142.5 412.5,-141.5 410.5,-139.8 408.8,-136.5 408.4,-133.5 412.2,-102.5 413.9,-96.5 417.8,-90.5 426.5,-84.7 435.5,-81.2 442.5,-81.4 445.1,-84.5 445.6,-92.5 440,-112.5 434.8,-125.5 431.5,-131.3 425.5,-138.7 420.5,-142Z"/>
<path fill="#ffebd9" fill-rule="evenodd" d="M-449.5,-449.5 449.5,-449.5 449.5,-295.5 381.5,-291.8 338.5,-285.6 333.5,-283.5 317.5,-272.3 306.5,-267.8 304.5,-265.6 303.8,-263.5 304.5,-258.5 312.3,-245.5 322.3,-222.5 330.4,-208.5 346.5,-185.7 368.5,-161.4 376,-151.5 379.7,-141.5 380.9,-130.5 380.4,-115.5 378.9,-101.5 375.9,-87.5 371.6,-72.5 369.9,-60.5 369.4,-38.5 367.7,-14.5 370,2.5 376.5,20.5 381.6,29.5 382.2,34.5 378.5,46.8 360.3,81.5 341,125.5 331.2,144.5 321.9,160.5 321.5,168.5 322.4,173.5 330.7,187.5 335.4,198.5 336,205.5 334.5,209 332.5,210.6 329.5,211.7 320.5,211.1 316.5,211.7 306.5,216.1 301.5,219.8 278,244.5 248.2,280.5 237.4,294.5 221.3,319.5 211.5,328.2 206.5,331.6 189.5,339.4 175.5,341.8 168.5,341.4 141.5,336.3 136.5,336.6 126.5,340.9 113.5,350.5 102.5,357.3 91.5,361.7 80.5,361.6 57.4,352.5 52.5,352.1 46.5,354.4 38.5,360.6 27.5,365.4 25.9,368.5 26.5,382.5 25.5,388.9 24.5,389.5 23.5,389 18.8,382.5 16.5,381.1 7.5,382.1 0.5,384 -10,392.5 -16.3,405.5 -20.5,409.8 -30.5,416.8 -50.5,423.4 -58.5,429.1 -61.4,432.5 -63.3,440.5 -62.6,442.5 -60.5,444.1 -42.5,448.7 -26.7,449.5 -449.5,449.5 -449.5,63.9 -440.5,62.7 -433.5,60.5 -429.5,58 -425.5,53.4 -423.5,49.5 -420.2,39.5 -417.5,24.5 -415.8,8.5 -413.5,1.5 -406.5,-4.8 -391.1,-22.5 -372.5,-40.8 -363.5,-51.1 -360.3,-56.5 -350.7,-81.5 -346.5,-88.1 -340.8,-94.5 -333.5,-100 -322.5,-105.9 -294.9,-114.5 -280.5,-120.9 -272.4,-127.5 -256.2,-145.5 -246.4,-152.5 -234.5,-157.1 -195.5,-166.1 -187.5,-169.8 -184.8,-172.5 -184.4,-174.5 -186.2,-176.5 -189.5,-176.9 -205.5,-174.7 -217.5,-174.1 -226.5,-175.4 -236.5,-178.4 -245.9,-182.5 -251.7,-186.5 -262.5,-201.6 -268.5,-207.5 -273.5,-208.7 -283.5,-205.4 -289.5,-204.5 -301.5,-204.7 -309.5,-206.4 -317.7,-211.5 -324.5,-220.7 -330.5,-225.8 -336.5,-229.3 -345.5,-232.7 -359.5,-235.4 -408.5,-237.9 -449.5,-239ZM-186.5,-232.9 -194.5,-230.7 -196.7,-228.5 -197.1,-225.5 -194.5,-222.3 -191.5,-221.8 -188.5,-222.4 -185.5,-223.9 -183.2,-226.5 -182.9,-229.5 -183.9,-231.5ZM-105.5,50.5 -116.5,51.7 -119.5,53.3 -121.6,55.5 -123.8,60.5 -124.4,71.5 -128,89.5 -135,106.5 -141.8,115.5 -165.3,140.5 -179.5,153.3 -192.5,162.5 -206.5,176 -213.9,187.5 -218.7,198.5 -220.2,204.5 -219.1,208.5 -216.5,207.5 -205.6,194.5 -201.5,190.9 -189.5,182.1 -181.5,177.9 -177.5,176.6 -172.5,176.2 -170,177.5 -168.9,180.5 -170.2,184.5 -175.5,190.8 -193.5,206.5 -195.1,208.5 -194.5,209.2 -178.5,203.1 -170.5,203 -157.5,205.7 -146.5,206 -128.5,203.1 -103.5,197.4 -89.5,193.1 -79.5,188.5 -71.5,182.6 -65.5,175.3 -57.5,160.2 -46,129.5 -33.3,99.5 -31.3,89.5 -32.9,80.5 -35.5,74.5 -39.5,68.9 -43.5,65.6 -48.5,63 -89.5,52.3ZM183.5,-274.6 183.2,-273.5 184.1,-271.5 189.2,-266.5 198.5,-261.9 200.5,-261.6 201.2,-262.5 199.2,-265.5 192.9,-270.5 186.5,-274.2ZM201.5,-217.8 193.5,-211.7 192.2,-209.5 192.4,-208.5 195.5,-208.8 201.4,-213.5 203.8,-217.5ZM214.5,-193.6 214.4,-192.5 217.2,-188.5 219.5,-187 220.5,-187.3 219.7,-189.5ZM349.1,-232.5 354.5,-233.3 358.5,-232.6 361.4,-230.5 362.8,-227.5 362.7,-223.5 360.5,-218.6 357.5,-215.4 353.5,-213.5 349.5,-213.3 346.5,-214.5 344.5,-216.5 342.9,-220.5 342.5,-224.5 343.2,-227.5 345.5,-230.6ZM-367.6,-205.5 -358.5,-206 -347.5,-205.3 -343.5,-203.9 -342.4,-201.5 -344.9,-199.5 -351.5,-198.2 -374.5,-196.7 -378.5,-197.3 -380.5,-198.8 -380.5,-201.2 -378.5,-203ZM416.7,-67.5 418.5,-67.5 419.9,-66.5 421.1,-62.5 420.3,-56.5 417.1,-50.5 409.6,-41.5 402.5,-35.5 397.5,-33.2 393.5,-33.9 390.7,-37.5 389.3,-42.5 389.6,-47.5 391.4,-51.5 395.5,-55.2 407.5,-60.5ZM-104.1,67.5 -98.5,66.9 -89,69.5 -79.8,77.5 -76.2,83.5 -74.3,89.5 -74.6,99.5 -78.2,106.5 -83.5,110.7 -87.5,111.9 -92.5,112 -102.5,109 -111.5,103.1 -118.2,94.5 -120.1,86.5 -119.2,80.5 -117.9,77.5 -112.5,71.4ZM-145.3,127.5 -143.5,126.7 -141.5,127 -139.6,129.5 -140.1,133.5 -142.5,136.3 -144.5,136.2 -146.3,133.5 -146.5,130Z"/>
<path fill="#ffccb3" fill-rule="evenodd" d="M-449.5,-449.5 449.5,-449.5 449.5,-334.9 443.7,-353.5 442.4,-355.5 439.5,-356.8 327.5,-356.8 284.5,-347.8 283,-345.5 281.8,-334.5 274.5,-321.4 273.3,-312.5 278.3,-302.5 279.5,-287.5 306.5,-241.9 311.5,-231.5 322.4,-203.5 323,-200.5 322.4,-196.5 320.9,-193.5 316.5,-189 316.3,-185.5 318.2,-183.5 326.5,-178.9 333.5,-172.2 349.5,-147.4 351.2,-143.5 351.2,-140.5 350.4,-137.5 348.5,-134.8 338.5,-128.2 329.2,-119.5 321.5,-108.3 316.5,-96.2 315.1,-82.5 315.8,-72.5 317.3,-65.5 319,-59.5 322.5,-51.6 330.8,-39.5 332.1,-28.5 324.3,2.5 317.3,48.5 314.6,61.5 310,72.5 285.5,122.6 283.2,136.5 284.2,152.5 283.5,156.8 278.5,167.5 264.5,179.3 255,189.5 244.5,202.5 238,216.5 236,230.5 233.7,236.5 227.7,247.5 216,260.5 206.5,267.8 194.5,272.1 178.5,280 167.5,283.3 156.5,284 150.5,281.8 147.5,279.5 131.5,257.9 124.2,249.5 118.5,244.3 110.5,239.8 106.5,239.4 103.7,240.5 101.5,242.8 99.5,246.7 96.1,260.5 89,283.5 86.6,288.5 81.7,295.5 77.9,299.5 70.5,305.8 59.5,313.1 55.2,322.5 49.5,329.3 45.5,331.4 41.5,331.5 37.5,329.5 33.5,325.2 30.5,324.3 -11.5,337.1 -36.5,342.3 -52.5,349.4 -73.5,363.5 -77.9,370.5 -81.8,382.5 -82,449.5 -449.5,449.5 -449.5,120.5 -444.5,117.4 -441,113.5 -429.3,85.5 -420.4,59.5 -412.5,26.8 -409,15.5 -405.5,11.5 -394.5,4.9 -374.5,1.5 -369.5,-0.3 -358.5,-9.7 -348.3,-15.5 -335.5,-26.1 -319.5,-36 -289.5,-45.4 -271.5,-53.1 -252.2,-62.5 -241.5,-73.2 -232.8,-87.5 -225,-97.5 -211.5,-109.5 -183.7,-139.5 -175.4,-147.5 -169.1,-157.5 -166.7,-165.5 -167.5,-169.5 -169.5,-173.6 -174.5,-178.6 -178.5,-181.1 -191.5,-183.9 -213.5,-183 -230.5,-185.2 -243.5,-190.5 -250.5,-195.1 -255.5,-199.3 -263.5,-209.2 -267.5,-212 -277.5,-214.8 -291.5,-212.9 -300.5,-215.9 -304,-218.5 -308.7,-224.5 -320.1,-240.5 -322.5,-245.5 -322.1,-247.5 -320.5,-249.1 -313.5,-252.7 -288.5,-255.8 -253.5,-255.9 -226.5,-253.5 -201.5,-256.5 -183.6,-263.5 -178.5,-266.8 -175.5,-270.3 -175,-272.5 -176.5,-275.2 -179.5,-277.2 -196.5,-278.5 -225.5,-274.6 -252.5,-275.1 -307.5,-284.6 -325.5,-285.5 -338.5,-283.5 -347.5,-277 -352.5,-276.2 -382.5,-279 -441.5,-291.4 -449.5,-292.4ZM-123.5,42.5 -129.1,45.5 -133.8,51.5 -136.6,61.5 -137.8,80.5 -142.1,92.5 -144.5,96.5 -162.7,118.5 -175.5,128.9 -177,131.5 -178.6,137.5 -180.5,140.2 -184.5,143 -192.5,146.4 -197.6,149.5 -209.5,158.5 -218.5,168.9 -226.7,181.5 -232.5,195.6 -234.5,204.3 -234.7,210.5 -234.1,215.5 -231.5,223.6 -227.7,232.5 -225.5,234.9 -223.5,235.4 -220.5,234.4 -195.5,215.9 -187.5,211.1 -180.5,208 -171.5,207.1 -157.5,209.8 -148.5,209.8 -124.5,205 -93.5,200.3 -83.9,197.5 -76.6,193.5 -70.5,187.9 -65.5,181.3 -60.3,172.5 -55.2,161.5 -43.5,130.5 -26.5,95.4 -26,87.5 -29.5,78.7 -35.6,68.5 -42.5,61.8 -48.6,58.5 -59.5,55.6 -66.5,52.9 -81.8,44.5 -88.5,43.1 -97.5,44.2 -104.5,44.1 -117.5,41.6ZM136.5,-236.5 133.5,-234.9 131.6,-232.5 129.1,-222.5 129.7,-209.5 131.5,-206.2 134.5,-204.9 137.5,-205.9 140.2,-209.5 142.9,-221.5 142.8,-228.5 141.6,-233.5 139.5,-236.1ZM155.5,-203.5 147.5,-197.5 141.2,-189.5 138.3,-183.5 139.5,-180.4 142.5,-179.7 147.7,-181.5 157,-188.5 160.8,-192.5 162.7,-197.5 162.4,-201.5 159.5,-204.1ZM171.5,-282.7 168.5,-281.2 167.5,-277.5 169.4,-273.5 173.5,-269.8 199.5,-257.3 203.5,-257.1 206.8,-259.5 208,-262.5 207.8,-264.5 206,-267.5 202.5,-270.5 192.9,-276.5 184.5,-280.4 178.5,-282.1ZM223.5,-260.6 220.4,-258.5 218.1,-251.5 218,-230.5 219.8,-202.5 219.5,-198.5 218.5,-197.6 217.5,-197.7 213.5,-200.1 210.5,-200.7 208.5,-199.7 207.6,-197.5 208.2,-194.5 209.9,-191.5 219,-180.5 219.4,-177.5 218.7,-166.5 219.4,-161.5 221.5,-156 223.5,-154.6 225.5,-154.3 227.5,-155.2 229.5,-157.5 231.3,-163.5 234.9,-201.5 235,-224.5 233.2,-247.5 228.5,-258.5 226.5,-260ZM293.5,-171.6 289.7,-170.5 287.5,-168.7 285.7,-165.5 285,-161.5 285.2,-156.5 286.5,-152.4 289.1,-149.5 292.5,-148.5 296.1,-149.5 299.2,-152.5 301.9,-158.5 303,-164.5 302.5,-167.5 300.5,-170.2 297.5,-171.6ZM-178.5,-241.5 -189.5,-236 -206.7,-231.5 -210.5,-229 -212.1,-225.5 -212,-222.5 -211,-220.5 -192,-205.5 -190.6,-203.5 -189.1,-198.5 -187.5,-196.6 -184.5,-195.4 -181.5,-195.2 -171.5,-197.3 -161.5,-197.4 -148.5,-194.8 -140.5,-194.5 -133.5,-195.5 -129.5,-198 -127.3,-201.5 -127,-208.5 -127.6,-211.5 -129.5,-214.3 -132.4,-216.5 -135.5,-217.4 -144.5,-216.7 -146.4,-217.5 -143,-225.5 -142.6,-228.5 -143.7,-234.5 -146.5,-238.3 -150.5,-240.7 -159.5,-242.2 -169.5,-242.4ZM175.5,-196.6 166.5,-193.9 163.7,-191.5 162.6,-189.5 161.8,-183.5 162.4,-177.5 164,-173.5 166.5,-171.6 171.5,-171.8 180.5,-176 186.5,-181.4 189.5,-186.5 190.1,-191.5 187.5,-195 182.5,-196.7ZM203.5,-222.6 198.5,-220.2 189.6,-212.5 187.5,-208.5 188.5,-205.3 191.5,-203.9 195.5,-204.8 199.5,-207.2 205.5,-212.7 208.1,-216.5 208.6,-219.5 206.5,-222.4ZM187.5,-168.6 183.5,-167.6 179.5,-165.5 165.7,-154.5 161.5,-149.5 161,-147.5 161.9,-145.5 165.5,-144.7 171.5,-147 186.1,-157.5 190.1,-161.5 191.7,-164.5 190.8,-167.5ZM204.5,-148.5 196.5,-145.8 184.5,-138.8 180.6,-134.5 181,-131.5 184.5,-129.7 189.5,-129.9 199.5,-132.9 205.5,-136.4 209.3,-140.5 210.3,-144.5 208.5,-147.8ZM-97.1,74.5 -92.5,75 -88.4,77.5 -83.6,83.5 -81.3,89.5 -81.2,94.5 -83.3,100.5 -85.5,103.5 -89.5,105.6 -93.5,105.3 -97.3,102.5 -102.4,95.5 -105.1,88.5 -105.7,83.5 -104.6,79.5 -101.5,76.2ZM-179.8,181.5 -176.5,181.1 -175,182.5 -175.6,184.5 -179,188.5 -195.6,202.5 -199.5,204.3 -202.1,203.5 -202.4,200.5 -198.9,195.5 -188.4,186.5Z"/>
<path fill="#ffaa85" fill-rule="evenodd" d="M-69.6,-449.5 11,-449.5 22.3,-447.5 107.5,-437.7 156.5,-427 160.5,-425.1 169.5,-418.5 183.5,-413.2 238.5,-379.9 271.5,-355.8 277.5,-349.6 279,-345.5 279,-337.5 277.5,-333.5 271.2,-322.5 269.8,-314.5 270.2,-310.5 275.2,-300.5 275.5,-295.5 274.7,-290.5 273.5,-287.1 271.5,-284.7 262.5,-279.5 230.5,-274.2 219.5,-273.1 213.5,-273.4 201.5,-276.5 162.5,-297.2 161.2,-296.5 162.7,-287.5 160.5,-276.5 157.5,-272.6 150.5,-267.4 144.5,-265.4 101.2,-257.5 87.7,-252.5 71.5,-245 59.5,-241 40.5,-238.8 23.5,-241.1 15.5,-244.1 9.5,-247.8 5.3,-251.5 1.6,-257.5 -0.5,-258.2 -11.2,-254.5 -13,-252.5 -13.2,-250.5 -11.5,-242.6 -7.8,-239.5 33.1,-218.5 48.1,-212.5 66.5,-206.8 81.5,-198.8 94.3,-186.5 109.5,-165.6 114.5,-160.5 120.1,-156.5 129.5,-152 143.5,-143.9 150.5,-139.1 153.9,-135.5 157.2,-127.5 154,-116.5 154.5,-108.8 163.9,-86.5 167,-72.5 166,-68.5 163.3,-63.5 160.5,-60.7 150.8,-54.5 146,-45.5 145.6,-35.5 146.6,-29.5 149.9,-22.5 155.7,-17.5 179.1,-7.5 192.6,-8.5 192.8,-9.5 187.7,-14.5 185.3,-18.5 180.4,-28.5 179.2,-34.5 177.1,-72.5 177.1,-90.5 178.6,-96.5 181.5,-102.2 183.5,-104.4 188.5,-106.5 195.5,-107.9 209.5,-108 223.5,-106.8 238.5,-102.7 246.1,-98.5 249.5,-95.6 255.6,-87.5 258.4,-82.5 264.2,-68.5 266.9,-57.5 266.6,-42.5 271.5,-22.9 271.9,-8.5 275,2.5 277.9,22.5 278.9,41.5 277.8,55.5 275.5,66.2 269.7,77.5 260.5,88.5 251.5,101.6 236.4,127.5 226.6,146.5 211.6,169.5 196,189.5 169.1,218.5 162.5,223 154.5,226.5 136.5,229.9 114.5,231.4 108.5,233.2 101.5,237.3 98.9,240.5 96.3,245.5 92.5,260.5 84.5,279.4 71.5,296.4 58.1,307.5 55.8,311.5 52.5,320.3 49.5,324.7 46.3,327.5 43.5,328.5 40.5,328 34.5,321.5 32.5,320.6 29.5,320.8 9.5,327.5 -40.5,340 -53.5,346 -73.5,358.9 -129.5,412.5 -130.4,417.5 -127.8,437.5 -123,449.5 -351.7,449.5 -356.4,443.5 -357.4,439.5 -357.5,325.5 -354.8,269.5 -353.8,264.5 -350.5,258.2 -349.1,253.5 -348,245.5 -348.7,238.5 -350.3,231.5 -354.4,221.5 -362.5,207.8 -382.3,180.5 -409.1,147.5 -416.9,135.5 -418.5,130.5 -419.6,120.5 -417.4,108.5 -414.9,101.5 -410.6,92.5 -395.5,68.5 -389.6,57.5 -384.5,44.5 -379.5,27.5 -371.7,9.5 -367.7,3.5 -358.3,-5.5 -343.5,-14 -334.5,-16.3 -319.5,-15.4 -299.5,-12 -279.5,-14 -273.7,-16.5 -262.5,-26.9 -253.3,-37.5 -247.5,-45.6 -243.5,-52.1 -236.9,-67.5 -226,-89.5 -218.5,-98.5 -212.5,-103 -190.6,-111.5 -180.9,-116.5 -173.5,-121.5 -162.5,-133.5 -153,-148.5 -144.5,-156.1 -131.5,-162.8 -93.3,-179.5 -78.7,-188.5 -71.5,-194.9 -64.5,-204.4 -60.4,-213.5 -58.3,-225.5 -58.5,-236.5 -60.5,-251.1 -68.5,-286.3 -74.5,-308 -78.5,-319.5 -88,-338.5 -92.8,-351.5 -95.8,-366.5 -96.8,-383.5 -105.5,-381.7 -108.5,-380.1 -130.5,-358.6 -141.2,-344.5 -148.8,-329.5 -154.5,-321 -160.9,-313.5 -169.5,-306.1 -181.8,-297.5 -201.8,-285.5 -211.5,-282.6 -222.5,-282.4 -240.5,-286.4 -259.5,-294 -281.5,-306.4 -291.7,-313.5 -298.6,-319.5 -300.9,-324.5 -309.5,-353.5 -320.7,-407.5 -320.9,-412.5 -318.5,-415.3 -309.5,-420.2 -267.5,-441.7 -260.5,-444.3 -134.5,-444.4 -103.5,-437.5 -87.5,-439.5 -75.5,-434.5 -73.4,-436.5ZM18.5,-269.5 13.5,-268.4 11.4,-266.5 10.8,-264.5 12.5,-260.5 17.5,-257.4 23.5,-256.4 31.5,-257.1 37.5,-259.4 40.2,-262.5 40.4,-264.5 39.5,-266.2 35.5,-268.6 28.5,-269.7ZM196.5,-83.8 189.4,-80.5 187.9,-77.5 188.8,-75.5 191.5,-74.5 194.5,-75 200.4,-77.5 202.8,-79.5 203.3,-81.5 201.8,-83.5 199.5,-84.2ZM225.5,-48.6 211.5,-44.3 207.5,-41.8 205.5,-39.4 205.1,-35.5 208.1,-19.5 209.5,-15.5 211.5,-13.5 214,-13.5 215.9,-15.5 216.4,-25.5 218.6,-28.5 224.5,-31.9 244.5,-38.8 248.5,-41.2 250,-43.5 249.5,-45.3 248.1,-46.5 241.5,-48.5ZM-121.5,39.4 -129.5,42.4 -136.2,49.5 -138.8,58.5 -140,78.5 -144.5,89.9 -147.5,94.9 -165.5,116.6 -177.9,126.5 -179.8,129.5 -182,136.5 -183.5,138.4 -199.5,146.9 -212.5,156.8 -222.4,168.5 -230.1,180.5 -236,195.5 -238,204.5 -238.1,211.5 -237.2,217.5 -234,226.5 -230.5,234.5 -227.5,238 -223.5,239 -219.5,237.8 -206.5,228.8 -193.7,218.5 -187.1,214.5 -179.5,211.1 -171.5,210.3 -157.5,213 -148.5,213 -127.7,208.5 -91.5,203.2 -83.5,200.9 -75.5,196.7 -70.5,192.5 -66.1,187.5 -59.9,177.5 -53.8,164.5 -41.5,132.1 -23.7,96.5 -22.8,89.5 -24.5,82.7 -29.8,72.5 -35.5,64.3 -39.5,60.4 -46.1,56.5 -61.5,51.8 -78.5,42.7 -83.5,41 -88.5,40.4 -102.5,41.5 -116.5,39.1ZM-121.2,-317.5 -112.5,-316.6 -104.2,-311.5 -98.5,-303.5 -98.2,-299.5 -99.5,-297.1 -103.5,-295.1 -110.5,-294.6 -115.5,-296.1 -120.2,-299.5 -124.4,-305.5 -125.8,-311.5 -124.5,-315.5ZM-145.5,-284.5 -142.5,-285 -140.5,-284.4 -138.4,-282.5 -137.1,-279.5 -136.8,-271.5 -138.1,-268.5 -140.5,-266.5 -142.5,-266.4 -144.5,-267.6 -147.7,-274.5 -148.2,-280.5 -147.5,-282.6ZM241.3,-260.5 248.5,-261.2 250.7,-259.5 250.6,-257.5 247.7,-254.5 242.5,-252.3 238.5,-251.8 235.5,-252.9 234.1,-255.5 234.5,-257.5 236.5,-259.1ZM170.8,-252.5 181.5,-253.3 190.5,-250.9 195.1,-247.5 197.7,-244.5 199.5,-240.5 200,-236.5 197.9,-228.5 191.7,-220.5 178,-210.5 171.5,-207.7 167.5,-207.3 160.5,-209.7 154.5,-214.6 150.3,-223.5 149.3,-233.5 150.9,-240.5 153.5,-244.5 160.5,-249.2ZM273.4,-252.5 275.5,-252.3 277.5,-250.4 278.4,-248.5 277.5,-246.4 275.5,-246.2 273.5,-247.8 272.5,-250.5ZM-203,-251.5 -195.5,-251.3 -189.5,-250 -184.7,-246.5 -184.3,-243.5 -187,-240.5 -191.5,-238.1 -210.5,-234.7 -228.5,-234.4 -233.5,-236.1 -235.6,-238.5 -235.6,-240.5 -234.5,-242.5 -229.5,-245.8 -217.5,-249.5ZM-123.5,-229.5 -114.5,-230.5 -107.5,-229.6 -99.5,-227.7 -89.5,-222.8 -85.1,-217.5 -82.7,-211.5 -82.3,-206.5 -84.5,-201.5 -88.9,-198.5 -94.5,-197.7 -112.5,-200.4 -121.5,-203.2 -123.2,-205.5 -124.6,-213.5 -130.9,-220.5 -131.6,-222.5 -128.5,-227.1ZM-91.6,92.5 -89.5,92.4 -88.2,93.5 -87.8,95.5 -89.5,97.5 -91.6,97.5 -93.3,95.5 -92.9,93.5Z"/>
<path fill="#ff7744" fill-rule="evenodd" d="M-71.4,-435.5 -67.5,-449.5 0.6,-449.5 21.5,-445.5 107.5,-435.6 155.5,-425 159.5,-423.2 167.5,-417.1 183.2,-410.5 236,-378.5 259.1,-360.5 265.2,-354.5 265.8,-350.5 263,-340.5 259,-330.5 252.8,-319.5 243.9,-305.5 239.5,-300.1 231.5,-292.5 225.5,-289.1 215.5,-286.6 202.5,-287.2 189.5,-290.9 147.5,-310 134.5,-312 122.5,-311.1 113.5,-308.8 106.5,-306.1 88.6,-296.5 86.9,-294.5 86.6,-292.5 89.5,-291.9 95.5,-293 129.5,-302.6 144.5,-302.6 154.5,-297.8 157.6,-293.5 159.2,-286.5 157.6,-278.5 155.5,-275.4 146.5,-269.4 100.5,-260.9 86.5,-255.7 68.3,-247.5 54.3,-243.5 40.5,-242.2 27.5,-243.7 16.5,-247.5 10.1,-252.5 9.7,-253.5 10.5,-254.1 22.5,-252.1 32.5,-252.8 41.5,-255.4 46.5,-258.1 49.2,-262.5 48.2,-267.5 44.5,-271.1 36.5,-273.9 21.5,-274 13.5,-273.1 9.5,-271.8 4.7,-268.5 2.5,-263.1 -13.5,-257.2 -15.2,-255.5 -16.1,-252.5 -14.3,-241.5 -12.5,-238.9 -9.5,-236.7 29.5,-216.1 44.5,-210.1 64.5,-203.7 77.7,-196.5 89.6,-184.5 96.5,-175.9 103.9,-164.5 109.5,-158.9 114.5,-155.2 139.6,-141.5 145.6,-137.5 148.5,-134.5 151.1,-127.5 148.3,-116.5 148.6,-108.5 158.1,-86.5 160.9,-72.5 159.9,-68.5 157.9,-64.5 146.4,-56.5 141.7,-49.5 140.1,-42.5 140.2,-34.5 141.2,-29.5 143.5,-24.7 146.2,-21.5 156.5,-14.3 178.5,-5 195.5,-3.7 203.5,-1.1 205.9,1.5 210,8.5 213.2,23.5 214.5,26.1 216.5,26.4 223.5,20.5 225.5,20.8 227.1,22.5 230.6,29.5 232.4,35.5 234.2,44.5 235,57.5 233.8,83.5 229.6,101.5 218.5,128.5 210.9,143.5 202.9,156.5 191,173.5 174.3,189.5 173.8,191.5 176.3,198.5 174.8,202.5 170.5,205.8 164.5,208 158.5,208.9 145.5,208.4 134.5,214.2 129.5,216 118.5,218.8 101.5,219.4 92.5,223.4 89.9,226.5 86.4,234.5 81.8,254.5 77.7,266.5 70.1,276.5 60.5,286.7 55.5,291 38.5,300.7 16.5,308 0.5,308.4 -13.5,303.8 -31.5,303.7 -54.5,309 -96.5,322.3 -122.5,335.4 -189.5,380.2 -191.5,382.5 -192.7,385.5 -199.1,417.5 -193.2,449.5 -346.9,449.5 -349.3,442.5 -350,413.5 -350.5,315.5 -349.8,273.5 -343.2,239.5 -337,212.5 -335.2,197.5 -335,187.5 -337.8,173.5 -345.5,158.5 -354.5,149.1 -368.5,141 -379.2,132.5 -385.2,125.5 -388.1,116.5 -387.1,106.5 -384.5,97.5 -382.2,91.5 -375.7,79.5 -373.4,71.5 -372.8,66.5 -373.9,55.5 -373.2,45.5 -370.6,33.5 -366.1,21.5 -360.5,10.2 -356.5,4.5 -351.5,-0.6 -343.5,-5.5 -332.5,-7.5 -312.5,-6.7 -278.5,-10.6 -266.4,-13.5 -258.8,-17.5 -253.2,-23.5 -249.5,-29.1 -239.5,-48.9 -223.8,-86.5 -221.4,-90.5 -216,-96.5 -211.5,-99.9 -182.1,-112.5 -171.1,-119.5 -160.5,-131.1 -150.7,-146.5 -142.5,-153.6 -130.5,-159.8 -92.5,-176.5 -78.2,-185.5 -69.5,-193.1 -62.7,-202.5 -58.3,-211.5 -56,-222.5 -56.2,-238.5 -61.4,-267.5 -73.5,-312.1 -78.2,-324.5 -86,-339.5 -90.7,-352.5 -93.5,-366.5 -94.1,-377.5 -93.3,-387.5 -94.5,-389.4 -100.5,-385.6 -107.5,-383.7 -111.8,-381.5 -127.5,-368.4 -184.5,-330.5 -205.5,-314.8 -211.5,-312.6 -218.5,-311.8 -228.5,-314.4 -237.4,-319.5 -242.5,-324.5 -248.3,-332.5 -252.1,-343.5 -252.6,-357.5 -254.2,-365.5 -257.3,-378.5 -263.7,-397.5 -264.1,-401.5 -262.5,-403.6 -258.9,-405.5 -222.5,-420.8 -215.5,-422.7 -120.5,-436.1 -102.5,-434.7 -88.5,-437.1 -77.5,-432.1 -74.5,-431.8 -72.5,-433.4ZM78.5,-306.5 71,-304.5 67.5,-302.3 65.2,-298.5 65.6,-294.5 68.5,-292.8 72.5,-292.9 87.5,-297.8 88.9,-301.5 87,-304.5 83.5,-306.3ZM131.5,-384.9 123.5,-378.6 114.5,-367.5 110.2,-360.5 109.8,-358.5 110.5,-356.4 113.6,-355.5 117.5,-358 121.5,-364.9 133.5,-381.5 134.1,-384.5ZM143.5,-374.5 137.5,-370.8 132.5,-365.5 120.4,-346.5 115.2,-332.5 115.1,-328.5 116.5,-326.7 120.5,-327.1 129.5,-333.5 136.5,-340.6 142.5,-349.7 147.8,-360.5 151.1,-370.5 150.6,-373.5 149.5,-374.8 147.5,-375.3ZM-333.5,135.5 -340.9,138.5 -342.6,140.5 -342.1,142.5 -338.5,143.4 -332.5,142.7 -327.5,140.6 -325.2,138.5 -325.2,136.5 -326.5,135.5ZM-120.5,37.4 -130.1,40.5 -136.1,45.5 -138.5,48.8 -140.8,55.5 -140.5,69.5 -141.3,76.5 -144.2,83.5 -148.7,90.5 -166.5,111.8 -180.8,123.5 -182.6,126.5 -184.2,132.5 -186.5,136 -203.5,145.5 -215.2,154.5 -225.5,165.8 -234.5,179 -239.5,190.9 -241.5,198.8 -242.5,204.5 -242.5,214.2 -240.5,223.4 -237.5,230.6 -233.5,237.5 -228.5,242.5 -221.5,243.7 -213.5,240.5 -202.8,233.5 -184.5,219.7 -177.5,215.8 -169.5,215.1 -156.5,217.5 -146.5,217.5 -123.5,211.8 -91.5,207.2 -84.9,205.5 -77.7,202.5 -71.5,198.5 -64.5,191.5 -58.5,182.6 -52.5,169.8 -39.2,134.5 -21.5,97.2 -20.5,88.5 -22.4,81.5 -27.5,71.1 -32.5,63.4 -37.3,58.5 -43.5,54.8 -58.5,50.1 -77.5,40.5 -81.5,39.3 -87.5,38.4 -101.5,39.6 -115.5,37.3ZM-152.5,-396.6 -169.5,-392.9 -172.5,-391.6 -177.5,-386.5 -178,-384.5 -177.4,-381.5 -174.5,-378.8 -169.5,-377.2 -147.5,-377.5 -127.5,-379.4 -123.5,-381.3 -121.4,-383.5 -121.3,-386.5 -123.3,-390.5 -130.5,-394.8 -143.5,-397.1ZM-205.2,-247.5 -194.5,-247.5 -190.8,-245.5 -190.5,-243.5 -192.7,-241.5 -199.5,-239.5 -207.5,-238.7 -211.5,-239.9 -212.9,-242.5 -212.2,-244.5 -209.5,-246.4ZM198,-69.5 206.5,-69.7 209.5,-68.5 211.2,-66.5 211.3,-63.5 209.7,-60.5 206.9,-57.5 203.5,-55.6 200.5,-54.9 196.5,-55.4 193.1,-57.5 191.1,-60.5 190.4,-63.5 191.4,-66.5 194.1,-68.5ZM228.3,-25.5 233.5,-26.1 236.7,-24.5 238.4,-20.5 237.1,-17.5 231.5,-14.4 228.5,-14.4 225.5,-15.8 223.7,-18.5 223.7,-21.5 225.5,-23.9ZM40,306.5 42.5,305.6 44.5,306 46.8,309.5 45.4,318.5 43.9,322.5 42.5,324.1 40.5,323.7 39.5,322.3 37.6,315.5 37.7,310.5Z"/>
<path fill="#ff521a" fill-rule="evenodd" d="M-65.8,-449.5 -3.3,-449.5 0.5,-447.8 21.5,-443.9 108.5,-433.8 154.9,-423.5 158.5,-421.9 166.5,-415.8 181.7,-408.5 233.2,-377.5 250.6,-363.5 258.6,-356.5 261,-353.5 261.2,-350.5 259.5,-345.3 250.6,-326.5 244.5,-315.8 236.5,-305.7 228.5,-299.6 218.5,-295.6 208.5,-295 201.5,-296 186.5,-301.1 150.5,-318.6 139.5,-320.4 125.5,-319.1 122.7,-319.5 122.6,-320.5 124.4,-322.5 135,-330.5 143.2,-340.5 153.8,-362.5 159.5,-380.5 159.1,-384.5 156.5,-387 150.5,-386.7 139.5,-382.6 138.5,-383.4 137.8,-386.5 136.5,-388.1 132.5,-388.5 126.5,-384.9 120.9,-379.5 108.3,-362.5 107.2,-359.5 107.2,-356.5 108.5,-354.1 112.1,-351.5 112.3,-349.5 97,-316.5 96.2,-313.5 96.5,-308.5 94.7,-306.5 91.5,-306 86.5,-309 83.5,-309.8 76.5,-309.7 70.5,-308 66.5,-306 61.5,-300.1 59.5,-298.8 54.5,-300.2 40.5,-306.6 28.5,-306.6 23.5,-305.5 13.5,-301.2 4.5,-294.7 -6.5,-282.8 -17,-273.5 -19.1,-268.5 -18.9,-252.5 -18.1,-246.5 -15.7,-238.5 -12.5,-234.7 -0.9,-226.5 13.5,-218.4 30.2,-211.5 60.5,-201 74.5,-192.8 85.6,-180.5 100.1,-159.5 105.7,-153.5 112.4,-148.5 135.5,-135.4 140.3,-130.5 143.2,-123.5 142.4,-113.5 143.5,-105.7 150,-87.5 151.9,-72.5 151.2,-68.5 149,-63.5 140.2,-55.5 136.5,-48.6 135.6,-41.5 136.6,-31.5 140.5,-23.5 147.5,-17.3 156.5,-11.9 183.5,-0.5 187.6,2.5 192.5,7.1 200.4,16.5 208.5,28.7 215,44.5 217.8,62.5 216.4,82.5 212.4,100.5 206,117.5 193.5,143.2 184.5,157 173.2,169.5 155.5,180.8 146.5,184.5 139.5,186.1 133.5,189.7 125.5,192.7 99.5,199.9 89.9,204.5 81.5,210.5 72.5,213.8 69.3,216.5 67.4,220.5 71.5,221.9 74.1,224.5 76.9,235.5 76.4,247.5 74.5,255.3 72.5,258.1 70.5,258.6 68.8,257.5 66.2,251.5 63.5,226.4 61.5,230 59.6,236.5 60.7,249.5 59.5,253.3 48.5,264.3 38.5,272.5 34.5,274.5 16.5,277.9 -6.5,275.6 -29.5,276.2 -46.5,279.4 -68.5,284.8 -82.5,286.2 -100.5,286.1 -118.5,282.9 -127.5,283 -133.8,284.5 -157.5,293.2 -181,299.5 -186,301.5 -195.7,307.5 -231.5,334.1 -247.5,341.8 -262.6,346.5 -264.5,347.7 -265.5,349.5 -258.5,388.5 -233.2,449.5 -333,449.5 -334.4,443.5 -335,423.5 -336,347.5 -335.8,275.5 -332.1,237.5 -328.8,218.5 -323.8,199.5 -312.3,171.5 -310.9,162.5 -312.5,159.8 -325.5,158.6 -329.5,156.8 -331.1,154.5 -330.5,152.7 -328.9,151.5 -317.5,148.3 -316.2,147.5 -315.3,145.5 -316.6,141.5 -324.6,126.5 -326.1,117.5 -325.8,111.5 -320.9,83.5 -320.8,75.5 -322.5,72.8 -324.5,71.8 -332.5,71.8 -339.5,70.1 -345.5,66.8 -348.7,63.5 -353,55.5 -355.5,44.5 -355.9,32.5 -354.7,25.5 -352.2,19.5 -347.1,13.5 -343.5,10.8 -334.5,6.2 -320.5,3.3 -300.5,2.8 -285.5,0.5 -272.5,-4.3 -250.7,-16.5 -247,-20.5 -243.7,-26.5 -220.5,-85.3 -213.2,-94.5 -209,-97.5 -180.5,-110.8 -173.5,-114.9 -167.5,-119.5 -162.9,-124.5 -156,-133.5 -150.1,-143.5 -142.6,-150.5 -130.5,-157.2 -103.5,-168.7 -88.5,-176.1 -78.5,-182.9 -70.5,-189.5 -61.6,-200.5 -56.3,-211.5 -54.2,-221.5 -53.8,-234.5 -55.4,-247.5 -63.1,-282.5 -71.1,-310.5 -76.4,-324.5 -84.5,-340.5 -89.4,-354.5 -91.6,-365.5 -92.2,-375.5 -90.9,-393.5 -91.5,-394.5 -93.5,-394.6 -101.5,-387.9 -112.5,-385.3 -116.5,-387.1 -122.5,-394.5 -131.5,-398.8 -146.5,-400.7 -166.5,-397.5 -169.6,-398.5 -171.3,-401.5 -169.1,-405.5 -160.9,-413.5 -136.5,-423.9 -128.5,-426.6 -111.5,-431.1 -100.5,-432.3 -89.5,-434.6 -85.5,-433.5 -77.5,-429.5 -73.5,-429.9 -71.5,-431.7 -69.5,-435.5ZM-118.5,35.5 -126.5,37 -130.2,38.5 -136.7,43.5 -140.1,47.5 -143,55.5 -142.1,66.5 -142.5,74.5 -145.3,81.5 -150,88.5 -168.5,110.5 -183.1,122.5 -184.8,125.5 -186.4,131.5 -188.4,134.5 -205.5,144.1 -217.5,153.4 -227.5,164.5 -236.5,177.7 -241.6,189.5 -244.1,199.5 -245,205.5 -244.8,215.5 -242.4,225.5 -238.7,233.5 -234.5,240 -229.5,244.7 -221.5,246.2 -214.5,243.7 -202.8,236.5 -182.5,221.3 -176.5,218.1 -168.5,217.6 -156.5,219.9 -145.5,219.8 -122.5,214 -90.5,209.5 -84.5,207.9 -77.5,205 -70.5,200.5 -62.5,192.2 -56.5,183.2 -51.5,172.5 -38,136.5 -19.8,97.5 -18.8,88.5 -20.5,81.6 -26.5,68.9 -31.3,61.5 -35.5,57.1 -41.5,53.3 -56.5,48.6 -75.5,39.1 -81.5,37.3 -86.5,36.6 -101.5,37.8ZM-85.5,253.4 -87.6,254.5 -88.8,256.5 -88.8,258.5 -87.5,261 -83.5,262.8 -80.5,262.6 -78.3,261.5 -76.7,258.5 -77.5,255.4 -80.5,253.4ZM29.6,-302.5 33.5,-302.8 36.8,-299.5 37.1,-295.5 35.9,-293.5 33.5,-291.8 29.5,-291.5 27.5,-292.5 25.9,-294.5 25.8,-298.5 27.5,-301.1ZM64.7,-258.5 68.5,-259 70.5,-258.2 71.5,-256.5 69.5,-255.1 66.5,-255.5 64.9,-256.5Z"/>
<path fill="#e53300" fill-rule="evenodd" d="M-63.7,-449.5 -6.5,-449.5 -4.5,-447.4 -1.5,-446.1 19.5,-442 109.3,-431.5 154.5,-421.4 158.3,-419.5 169.3,-411.5 171,-409.5 171.3,-406.5 169.9,-404.5 161.5,-401.8 152.5,-401.7 139.5,-404.3 130.5,-403.1 125.6,-400.5 114.5,-392.2 100.4,-377.5 83.5,-354.5 71.5,-342.4 64.5,-338.1 58.5,-335.9 48.5,-333.8 37.5,-327.8 11.5,-306.3 -8.5,-286.2 -19.3,-277.5 -21.8,-273.5 -23.4,-267.5 -23.6,-252.5 -22.7,-247.5 -18.1,-236.5 -13.5,-231.4 -1.5,-222.9 12.5,-215.2 27.5,-209 59.5,-197.8 71.9,-190.5 75.5,-187.4 83.5,-177.7 97.3,-157.5 103.5,-150.9 111.5,-145 133.5,-132.6 137.5,-128.6 139.6,-123.5 139,-113.5 140.1,-105.5 146.5,-87.3 147.9,-80.5 148.4,-72.5 145.7,-64.5 137.5,-57.3 133.9,-50.5 132.3,-40.5 133.4,-30.5 136.5,-23.5 141.5,-17.7 164.5,-2.7 172.2,4.5 181.7,17.5 188.7,29.5 194.9,45.5 199.1,63.5 200.3,79.5 199.1,92.5 197.8,98.5 193.9,110.5 187.1,124.5 180,136.5 166.2,155.5 151.5,165.3 100.5,186.8 76.5,199.9 66.5,210.8 54.8,232.5 49.5,239.9 37.5,249.9 21.5,259.5 4.5,264.3 -18.5,263.5 -27.5,264.5 -39.5,268.3 -54.5,277.5 -69.5,281.5 -83.5,282.7 -98.5,282.7 -119.5,279.4 -131.5,280.3 -157.3,289.5 -181.5,296.1 -188.5,298.7 -198.5,304.7 -209,313.5 -232.2,330.5 -248.7,338.5 -269.5,344.2 -283.5,341.6 -289.3,338.5 -301.5,327.5 -307.7,317.5 -309.7,306.5 -310.5,291.5 -310.4,188.5 -308.5,176.4 -301.9,156.5 -300.5,148.5 -301.5,144.9 -304,141.5 -313.8,135.5 -315.6,132.5 -316.1,129.5 -315.4,126.5 -311.8,119.5 -300.3,103.5 -297.8,95.5 -297.3,90.5 -298.5,81.5 -301.1,75.5 -304.5,71.1 -314.1,65.5 -315.5,63.2 -315.5,60.5 -308.5,53.2 -306,49.5 -301.8,40.5 -299.2,29.5 -297.1,26.5 -274.7,9.5 -251.8,-9.5 -243.5,-15 -236.5,-17.9 -232.7,-21.5 -229.7,-27.5 -221.8,-59.5 -218.5,-67.5 -217.5,-67.8 -216.8,-66.5 -214.8,-57.5 -211.5,-50.7 -207.4,-46.5 -201.5,-44 -195.5,-44 -189.5,-46.4 -181.1,-52.5 -174.9,-59.5 -170.6,-67.5 -168.7,-74.5 -168.5,-80.5 -170.5,-86.5 -174.5,-91.2 -179.5,-94.4 -184.5,-95.9 -196.4,-97.5 -197.2,-98.5 -196.4,-99.5 -176.5,-109.8 -166.5,-116.7 -156.9,-127.5 -147.5,-142.3 -140.5,-148.6 -129.7,-154.5 -96.5,-169 -87.5,-174.1 -78.5,-180.6 -64.9,-192.5 -60,-198.5 -56.2,-205.5 -53.2,-213.5 -51.5,-224.5 -51.3,-235.5 -54,-254.5 -61,-284.5 -65.5,-297.5 -69.1,-311.5 -73.9,-324.5 -81.5,-339.3 -86.5,-352.6 -89,-365.5 -89.6,-374.5 -88.5,-385.6 -85.5,-397.7 -74.8,-423.5 -67.8,-433.5ZM-115.5,33.2 -127.5,34.9 -131.5,36.6 -139.2,42.5 -142.4,46.5 -145.4,54.5 -144.2,66.5 -144.6,73.5 -146.5,78.8 -151.5,86.5 -170,108.5 -184.7,120.5 -187.2,124.5 -188.5,130.1 -189.9,132.5 -206.5,141.8 -219,151.5 -229.8,163.5 -239.2,177.5 -244.2,189.5 -246.9,200.5 -247.1,216.5 -244.3,227.5 -239.9,236.5 -234.7,243.5 -230.5,247.1 -222.5,248.8 -215.5,247 -206.5,241.9 -182.8,224.5 -175.5,220.4 -167.5,220.2 -156.5,222.4 -145.5,222.3 -122.4,216.5 -90.5,212 -83.5,210.1 -76.5,207.3 -70.5,203.3 -60.7,192.5 -54.9,183.5 -49.3,171.5 -37.5,139.5 -18.2,97.5 -17.4,87.5 -19.3,80.5 -25.3,67.5 -30.4,59.5 -34.5,55.1 -40.5,51.1 -55.3,46.5 -74.5,36.9 -80.5,35 -86.5,34.1 -100.5,35.5ZM-104.5,237.4 -107.5,238.5 -110.3,241.5 -111.5,245.5 -111.4,249.5 -110.2,256.5 -108.2,261.5 -105.1,266.5 -100.5,271.2 -92.5,275.1 -83.5,275.6 -78.5,274.5 -73.5,272.1 -69.5,269.5 -65.7,265.5 -63.7,260.5 -64,255.5 -66.9,250.5 -72.5,245.7 -79.7,241.5 -85.5,239.4 -96.5,237.3ZM182.5,-397.5 187.5,-396.8 225.6,-377.5 230.8,-373.5 236.3,-366.5 236.5,-363.5 234.7,-356.5 226.5,-333.8 219.9,-324.5 215.3,-320.5 211.5,-318.5 205.5,-317.2 200.5,-317.3 193.5,-318.7 185.5,-322 175.5,-330.3 169.8,-340.5 167.1,-352.5 168.1,-365.5 176.8,-392.5 179.5,-396.2ZM202.5,-383.6 200.5,-382.7 198.8,-379.5 197,-364.5 198.2,-355.5 200.5,-351.5 202.5,-350.4 204.5,-351.1 205.9,-353.5 207,-366.5 206.8,-374.5 205.9,-379.5 204.5,-382.6Z"/>
<path fill="#b82400" fill-rule="evenodd" d="M35.2,-402.5 49.5,-401.7 55.5,-400.3 63.6,-395.5 69.5,-388.2 71.1,-381.5 69.7,-372.5 65.8,-362.5 58.9,-352.5 46.5,-342.3 36.5,-336.4 22.5,-330.3 15.5,-325.5 11.7,-321.5 6.7,-312.5 2.1,-306.5 -3.3,-301.5 -8.5,-299 -18.5,-297.6 -25.5,-299.1 -46.6,-313.5 -50.5,-318.3 -52.3,-322.5 -53.1,-328.5 -52.2,-335.5 -50.6,-340.5 -42.3,-358.5 -37.8,-371.5 -32.2,-380.5 -25.5,-386.1 -19.5,-389.9 -12.5,-393.6 1.5,-399.3 16.5,-401.3ZM-45.6,-199.5 -33.5,-200.5 -21.5,-198.8 -10.5,-198.4 18.5,-190.4 57.5,-182.4 66.5,-178.6 73.5,-172.5 88.3,-152.5 118.9,-114.5 127.7,-99.5 131.8,-88.5 133.3,-75.5 131.9,-60.5 128,-40.5 128,-33.5 129.3,-27.5 132.5,-20.5 137.1,-13.5 152.6,2.5 163.7,17.5 174.6,41.5 178.9,60.5 180.5,90.5 179.9,95.5 178.2,101.5 175.5,106.8 170.5,113.9 156.7,127.5 154.1,132.5 152.1,140.5 145.5,148.5 140.5,152.3 116.5,165.9 67.5,191.2 58.5,197.2 50.9,203.5 44.4,210.5 37.5,220.2 29.5,226.7 13.5,234.9 0.5,239.3 -4.5,239.1 -14.5,236.8 -50.5,225.3 -57.5,220.8 -63.1,215.5 -65.5,211.5 -66.9,206.5 -65.8,201.5 -55.9,189.5 -50,178.5 -35.5,140.2 -21,109.5 -16.2,96.5 -15.8,86.5 -17.1,80.5 -23.8,65.5 -33.5,49.9 -41.5,42.8 -53.5,37.3 -58,33.5 -61.1,29.5 -64.9,19.5 -69.9,11.5 -86.5,-7.8 -97.5,-24.7 -108.5,-35.4 -110.5,-32.9 -115.7,-14.5 -122.5,-2.3 -132.6,9.5 -143.5,16.7 -148.5,18.5 -157.5,20.3 -168.5,18.2 -172.5,15.7 -177.1,11.5 -178.6,8.5 -180.4,1.5 -180.2,-3.5 -177.7,-15.5 -170.7,-42.5 -166.5,-54.4 -161.5,-61 -150.5,-68.9 -130.5,-77.2 -125.5,-77.1 -120.5,-76 -111.5,-68.5 -111.5,-71.5 -113.5,-75.4 -121.9,-83.5 -124.5,-87.8 -126.5,-93.5 -127.8,-104.5 -126.6,-115.5 -123.9,-124.5 -119,-134.5 -113.5,-143.2 -102.5,-156.6 -91.3,-167.5 -60.4,-192.5 -51.5,-197.7ZM-161.6,45.5 -157.5,46 -155.5,48.5 -155.3,51.5 -156.7,57.5 -163.8,71.5 -174.9,88.5 -188.5,105 -202.5,119.7 -234.4,147.5 -243.5,158.5 -249.7,170.5 -255.2,187.5 -257,205.5 -256.2,218.5 -251.3,244.5 -250,258.5 -251.5,262.9 -254.5,265.8 -259.5,266.8 -265.5,265.5 -270.7,261.5 -273.7,256.5 -277.1,243.5 -279.8,222.5 -281,197.5 -280.4,168.5 -279.3,163.5 -274.5,152.5 -271.5,148.5 -258.5,141.9 -240.5,128.2 -196.6,82.5 -174.5,53.1 -167.5,47.4Z"/>
<path fill="#8b0000" fill-rule="evenodd" d="M83.8,-54.5 91.5,-54.6 97.5,-52.2 100.8,-48.5 101.9,-42.5 99.9,-32.5 95.6,-23.5 89.5,-15.2 83.8,-12.5 83.6,-11.5 86.8,-8.5 87.3,-1.5 86.5,1.5 85.5,2.1 82.5,1.5 80.5,2.8 80.1,6.5 81.4,12.5 82.5,14.8 84.5,16.2 85.8,15.5 87.5,12.5 89.5,11.6 91.6,13.5 96.8,21.5 99.5,23.9 104.5,25.7 115.5,26.2 121.5,27.7 126.5,29.7 130.6,33.5 131.8,38.5 130,44.5 125.1,50.5 114.5,57.6 112.4,61.5 112.4,66.5 122.1,116.5 129.5,124.8 146.5,133.1 148.3,135.5 148.2,137.5 145.5,140.1 139.4,142.5 87.5,155.4 64.5,163.1 56.5,166.6 46,172.5 33.4,182.5 23.5,189 11.5,194.2 6.5,194.8 -1.5,193.3 -5.2,190.5 -13.5,181.9 -14.7,182.5 -17.5,188.4 -18.5,188.6 -19.5,187.6 -20.3,184.5 -21.2,172.5 -18.7,144.5 -14.7,129.5 -13.4,118.5 -14.1,102.5 -12.9,80.5 -10.3,64.5 -5.2,48.5 0.5,37.7 3.5,34 12.5,26.1 26.5,18.3 35.5,11.6 38.7,8.5 44.6,0.5 49.7,-11.5 50.4,-17.5 50,-29.5 51.5,-35.6 53.5,-39.5 58.5,-43.6 67.5,-48.7 78.5,-53.2ZM-74.8,-52.5 -66.5,-52.9 -60.5,-50.9 -56.2,-47.5 -52.8,-41.5 -51.5,-35.1 -51.6,-28.5 -55.3,-17.5 -58.5,-13.3 -61.5,-13.3 -65.5,-17.3 -76.3,-37.5 -78.8,-44.5 -79,-47.5 -77.5,-50.6Z"/><use href="#coast"/></g><circle r="446.9" fill="none" stroke="#000" stroke-width="2.8"/></g>
<g transform="translate(1610.6,793.2)"><g clip-path="url(#cp)"><circle r="447.3" fill="#00008b"/><path fill="#0024b8" fill-rule="evenodd" d="M-449.5,-449.5 449.5,-449.5 449.5,449.5 -449.5,449.5ZM-108.5,106.4 -114.4,109.5 -120.5,114.9 -133.5,131.2 -143.5,146.2 -148,156.5 -148.8,162.5 -147.3,167.5 -142.5,171.6 -137.5,173.2 -132.4,173.5 -126.5,172.4 -119.5,169.5 -111.5,164.5 -106.6,160.5 -101.5,155.1 -96.3,147.5 -92.9,139.5 -91.4,132.5 -91.2,126.5 -92.5,118.5 -95.3,111.5 -98.5,107.5 -103.5,105.6Z"/>
<path fill="#0033e5" fill-rule="evenodd" d="M-449.5,-449.5 449.5,-449.5 449.5,449.5 -449.5,449.5ZM-105.5,101.3 -113.5,104.4 -121.7,110.5 -136.2,127.5 -145.2,140.5 -152.8,154.5 -156.6,164.5 -156.4,170.5 -152.5,175.1 -145.5,177.5 -136.5,178 -127.5,176.6 -119.5,174.1 -114,171.5 -106.5,166.4 -99.5,159.5 -95.2,153.5 -91.4,146.5 -88,136.5 -86.8,127.5 -87.5,117.3 -90.3,109.5 -94.5,104.1 -99.5,101.5Z"/>
<path fill="#1a52ff" fill-rule="evenodd" d="M-449.5,-449.5 449.5,-449.5 449.5,449.5 -449.5,449.5ZM-102.5,95.5 -113.1,98.5 -121.8,104.5 -131.3,114.5 -142.5,128.1 -161.5,156.3 -168.4,168.5 -169.9,175.5 -169,178.5 -167.5,180 -160.5,182.3 -146.5,182.8 -136.5,182 -124.5,179.5 -115.1,176.5 -107.5,172.3 -102.5,168.5 -94.9,160.5 -88.8,150.5 -84.7,139.5 -82.7,127.5 -83,115.5 -85.8,106.5 -89.5,101.2 -95.5,96.7Z"/>
<path fill="#4477ff" fill-rule="evenodd" d="M-449.5,-449.5 449.5,-449.5 449.5,-90.7 436.5,-87.6 434.5,-85.5 433.3,-80.5 434.4,-72.5 442.4,-48.5 444.5,-46.1 449.5,-44.5 449.5,-21.4 443.5,-19.1 442.2,-16.5 441.9,-13.5 442.5,-7.8 444.6,-0.5 446.5,2.4 449.5,3.7 449.5,449.5 -449.5,449.5ZM-104.5,91.4 -114.5,95.1 -122.5,100.5 -127.5,104.7 -138.5,117.1 -148.5,129.6 -187.2,183.5 -188.9,187.5 -187.5,190.6 -185.5,191.5 -182.5,191.5 -160.5,188 -138.5,185.9 -122.5,182.8 -112.5,179.7 -103.6,175.5 -98,171.5 -91.7,165.5 -84.4,155.5 -78.1,142.5 -74.3,127.5 -74.3,115.5 -77.9,105.5 -82.4,99.5 -86.8,95.5 -94.5,91.5Z"/>
<path fill="#85aaff" fill-rule="evenodd" d="M-449.5,-449.5 449.5,-449.5 449.5,-103.3 433.1,-99.5 428.6,-97.5 423.9,-89.5 422,-80.5 424.5,-70.6 432.7,-51.5 436.7,-36.5 439,-23.5 437.3,-15.5 437.3,-11.5 440.2,1.5 443.8,9.5 446.4,11.5 449.5,12.3 449.5,449.5 -449.5,449.5ZM-101.5,86.3 -108.5,88.3 -118.5,93.1 -131.5,104.5 -148.5,124.9 -175.1,160.5 -204.5,195.1 -207.9,200.5 -208.2,202.5 -207.3,204.5 -204.5,205.7 -200.5,205.4 -168.5,194.4 -157.5,192.2 -129.5,188.7 -113.5,185.2 -99.5,179.2 -91.5,173.1 -86.8,168.5 -81.7,162.5 -77.8,156.5 -68.5,138.1 -64.9,127.5 -64.5,116.5 -66.8,108.5 -70.2,101.5 -73,97.5 -78.5,92.4 -84.5,88.4 -89.5,86.5 -95.5,85.5Z"/>
<path fill="#b3ccff" fill-rule="evenodd" d="M-449.5,-449.5 449.5,-449.5 449.5,-217 412.5,-216.9 389.5,-213.5 385.5,-211.1 381.2,-205.5 378.5,-199.5 377.5,-193.5 378.8,-188.5 382.8,-183.5 394.5,-175.3 404.5,-170.1 408.5,-169.1 426.5,-167.2 449.5,-167 449.5,-112 441.5,-110.9 422.5,-104.4 420.1,-101.5 415.7,-91.5 413.9,-79.5 415.1,-74.5 425.6,-51.5 429.1,-40.5 432.2,-19.5 431.9,-11.5 430.4,-2.5 433.1,8.5 437.3,17.5 439.5,20.3 442.5,22 449.5,23.8 449.5,174.5 432.5,174.9 408.5,178.2 403.5,179.7 393.5,186.5 384.2,195.5 380.3,202.5 378.7,212.5 379.8,221.5 381.5,223.5 384.5,224.8 411.5,230.3 449.5,230.5 449.5,449.5 -449.5,449.5ZM-100.5,75.4 -109.4,79.5 -117.5,85.5 -124.5,92.2 -142.5,113.1 -173.5,153.6 -209.9,196.5 -213,201.5 -213.9,204.5 -213.7,207.5 -211.5,210.3 -207.5,212.1 -201.5,212.2 -183.5,205.7 -168.5,202 -151.5,198.8 -134.5,197.3 -108.5,192.3 -93.9,185.5 -85,178.5 -78.5,171.5 -70.7,158.5 -63.9,142.5 -60,129.5 -57.2,116.5 -56.8,112.5 -57.7,106.5 -59.3,101.5 -64.1,93.5 -69.5,87 -76.5,81 -83.5,76.9 -88.5,75.4 -93.5,74.6Z"/>
<path fill="#d9ebff" fill-rule="evenodd" d="M-449.5,-449.5 449.5,-449.5 449.5,-304.5 370.5,-304.4 324.5,-299.6 321.5,-298.5 319.2,-295.5 315.9,-286.5 312.7,-274.5 311.2,-261.5 313.2,-247.5 322.3,-228.5 332.2,-213.5 335.8,-205.5 340.3,-190.5 347.2,-177.5 353.5,-169.6 358.5,-164.9 366.5,-158.8 385.5,-146.5 405.4,-130.5 411,-124.5 414.1,-119.5 414.7,-116.5 414,-113.5 406,-107.5 400.2,-98.5 395.5,-86.5 393.9,-75.5 396.5,-65.5 404.7,-51.5 409.6,-39.5 412,-28.5 412.1,-14.5 419.5,4.5 421.9,19.5 424.6,29.5 426.7,41.5 425.1,52.5 419.7,61.5 391.5,84.5 386.1,90.5 382.5,100.5 383.1,118.5 381.9,127.5 379.2,135.5 376.5,141 369.8,150.5 355.5,163.5 347.8,173.5 346.1,180.5 346.1,188.5 347.8,203.5 346.1,216.5 342.7,224.5 338.9,230.5 326.7,244.5 320.9,252.5 313.3,273.5 307.4,297.5 303.1,321.5 302.5,449.5 -449.5,449.5 -449.5,-63.2 -442.5,-63.6 -437.5,-59.3 -429.5,-57.5 -411.5,-58.9 -406.5,-60.2 -404.4,-61.5 -404.3,-63.5 -407.5,-65.3 -425.5,-67.3 -427.5,-68.3 -427.8,-69.5 -415.5,-81.5 -407.7,-93.5 -401.5,-100.5 -384.3,-115.5 -378.6,-123.5 -374.5,-135.5 -369.1,-145.5 -360.5,-154.7 -346.5,-165.5 -344.1,-169.5 -343.4,-172.5 -345.2,-178.5 -349.5,-182.6 -360.6,-188.5 -382.5,-195.4 -416.5,-199.4 -449.5,-199.5ZM-196.5,-47.8 -199.4,-46.5 -200.2,-44.5 -198.5,-42.2 -194.5,-40.5 -185.5,-39.1 -177.5,-39.1 -174.5,-39.5 -172.7,-41.5 -174.5,-43.8 -181.5,-46.9 -189.5,-48.4ZM-101.5,-177.6 -113.5,-173.6 -138.5,-160 -168.5,-147 -172.3,-143.5 -174.2,-137.5 -171.5,-125.8 -166.5,-113.5 -158.5,-104.5 -152.7,-100.5 -153.5,-100.1 -157.5,-102.2 -159.5,-102.3 -161.5,-101.4 -162.4,-99.5 -160.5,-91.5 -156.9,-85.5 -153.5,-82.9 -150.5,-82.1 -147.5,-82.8 -143.5,-86.1 -141.5,-86.1 -132.9,-75.5 -123.5,-68.3 -113.2,-62.5 -105.5,-60.7 -101.5,-61.2 -95.7,-63.5 -85.4,-70.5 -81.1,-76.5 -78.3,-86.5 -75.5,-89 -66.6,-92.5 -60.5,-97 -53.5,-105.5 -51.1,-110.5 -50.3,-114.5 -51.6,-122.5 -58.3,-138.5 -70,-155.5 -78.8,-165.5 -88,-173.5 -95.5,-177.3ZM-94.5,63.4 -99.5,64.7 -103.5,67.1 -118.5,79.8 -138.2,102.5 -183.5,159.3 -201.5,179.5 -214.3,192.5 -221.1,201.5 -225.9,211.5 -226.7,217.5 -224.5,221.3 -219.5,223.3 -212.5,222.7 -200.5,219 -187.5,212.9 -175.5,209.6 -129.5,204.5 -103.5,200 -87.5,192.9 -77.6,185.5 -72.3,179.5 -67.9,173.5 -62.3,162.5 -49.4,130.5 -44.7,116.5 -44,105.5 -46.8,97.5 -51.3,89.5 -56.5,82.6 -61.5,78 -71.5,70.9 -80.5,66.3 -88.5,63.5Z"/>
<path fill="#ffebd9" fill-rule="evenodd" d="M-449.5,-448.5 -445.9,-449.5 266.8,-449.5 279.5,-447.1 281.9,-444.5 279.8,-438.5 224.5,-328.4 213.5,-316 196.7,-303.5 186.6,-294.5 182.3,-288.5 169.8,-265.5 164.5,-257.7 159.6,-252.5 151.5,-246.9 143.5,-244.3 140.5,-244.7 136.5,-246.5 128,-254.5 116.5,-269.5 113.5,-271.8 109.5,-272.5 106.5,-271.4 102.5,-268.2 84.5,-245.8 71.5,-233.8 65.5,-229.8 62.5,-228.8 58.5,-228.8 42.5,-234.3 34.5,-234.9 27.5,-232.9 18.5,-226.7 14.5,-225.9 11.5,-227 8.5,-230.1 -0.8,-243.5 -2.6,-247.5 -2.2,-251.5 -0.6,-254.5 10.5,-261.5 12.8,-264.5 12.7,-266.5 11,-268.5 5.5,-269.8 2.5,-269.2 -4.5,-265.8 -8.5,-265.1 -23.5,-268.2 -33.5,-268.1 -46.5,-265.8 -56.5,-262.2 -62.5,-258.4 -67.7,-252.5 -72.3,-243.5 -76.6,-230.5 -79.4,-226.5 -86.5,-222.5 -98.5,-219.5 -110.5,-219 -119.5,-220.3 -145.5,-230.7 -156.5,-234.2 -180.5,-237.3 -193.5,-237.2 -196.5,-235.7 -197.8,-233.5 -198.1,-230.5 -197.2,-225.5 -192.5,-217 -179.5,-202.5 -177.1,-198.5 -174.6,-190.5 -174.7,-186.5 -175.7,-183.5 -180.5,-178.5 -189.5,-175.4 -228.5,-172 -238.5,-173 -244.2,-174.5 -263.5,-181.3 -280.5,-189 -303.5,-201.1 -341.5,-227.8 -350.5,-233.3 -356.5,-235.6 -365.5,-237 -449.5,-237ZM257.9,-257.5 261.5,-258.4 265.5,-258.1 268.5,-257.2 270.4,-255.5 271.7,-251.5 270.2,-241.5 272.1,-235.5 287,-218.5 295.8,-202.5 306.5,-186.4 319.5,-172.9 358,-140.5 366.6,-129.5 371,-121.5 373.4,-115.5 374.6,-107.5 372.8,-95.5 369,-78.5 369.4,-70.5 372.2,-62.5 380,-49.5 386.6,-40.5 388.9,-34.5 390.4,-27.5 391.7,-2.5 395.1,21.5 393.5,24.5 381.5,36.8 369.5,45.3 352.7,54.5 344.5,62.4 342.4,65.5 338.7,77.5 334,87.5 322.5,102.5 312.2,112.5 305.8,123.5 300.1,139.5 299.8,152.5 316.5,189.5 317.9,197.5 317.5,202.7 315,207.5 311.4,211.5 288.5,229.3 281.3,237.5 274.5,247.9 259.8,275.5 245,297.5 239.5,313.5 234.7,337.5 228.6,350.5 226.5,352.5 220.5,356 199.5,365 196.7,367.5 193.4,372.5 191,380.5 185.1,449.5 35.6,449.5 38.2,427.5 45.7,398.5 46.2,384.5 43.5,376.6 39,371.5 31.5,368.1 23.5,367 14.5,367.5 7,371.5 2.5,376.5 -2.5,388.1 -6.8,405.5 -8.4,423.5 -7.2,442.5 -5,449.5 -436.5,449.5 -441.5,445.5 -449.5,441.1 -449.5,51 -440.5,51.8 -436.5,53.4 -430.3,58.5 -418.5,70.9 -408.5,76.7 -391.5,80.3 -370.5,81 -319.5,76.6 -306.5,76.2 -286.5,74 -281.5,74.3 -273.5,76.9 -267.5,77.8 -252.5,76.5 -235.5,77.5 -227.5,74 -203.5,53 -194.5,49.4 -186.4,49.5 -184.1,51.5 -184.1,55.5 -191.5,69.2 -212.4,95.5 -220.3,107.5 -228.4,116.5 -236.5,123.5 -238.4,126.5 -238.2,128.5 -236.2,130.5 -225.5,134.1 -217.5,134.9 -207.5,134.8 -185.5,130.3 -180.6,132.5 -178.7,136.5 -179.1,139.5 -181,142.5 -190.1,149.5 -198.8,158.5 -222.7,190.5 -230.7,202.5 -233.8,209.5 -234.7,216.5 -232.5,225.5 -229.5,232.8 -227.7,234.5 -225.5,235.2 -217.5,234.5 -209.7,231.5 -197.5,224.2 -186.5,220.8 -172.5,219.1 -140.5,218.4 -115.5,216 -92.5,211.8 -70.5,205.5 -62.5,201.1 -55.4,195.5 -47.9,188.5 -40.1,178.5 -29.5,160.5 -16.7,130.5 -11.1,119.5 -3.8,108.5 4.2,99.5 4.5,97.5 2.8,93.5 2.8,90.5 9,43.5 25.3,-45.5 36.8,-91.5 39.5,-97 44.5,-100.1 51.5,-101.7 72.5,-101.1 83.5,-103.6 87.5,-103.5 90.2,-101.5 90.9,-97.5 89.8,-92.5 85.1,-81.5 84.6,-73.5 86.2,-68.5 90.5,-63.9 104.5,-58.8 150.5,-54.7 160.5,-56.5 168.5,-60.3 182.5,-69.2 197.5,-80.8 209.5,-86.8 225.5,-90.5 258.5,-94 267.2,-96.5 270.8,-99.5 272.5,-103.5 273.3,-108.5 273.1,-120.5 270.8,-132.5 265,-152.5 263.2,-163.5 262.1,-179.5 260.4,-185.5 256,-194.5 254.9,-198.5 253.8,-206.5 254.5,-216.5 253.9,-219.5 251.5,-222.1 244.5,-225.5 224.5,-225.3 222.2,-226.5 221.3,-228.5 222,-232.5 225.5,-236.1 243.5,-249.7ZM103.5,256.5 99.4,257.5 95.5,261 92.5,265.7 90.6,272.5 90,287.5 91.8,308.5 90.6,320.5 88.1,331.5 80.8,341.5 65.5,352.4 59.5,357.8 55.8,363.5 55.3,370.5 58.7,377.5 64,383.5 69.5,388.1 82.5,396 106.5,416.6 117.5,422.6 131.5,422.6 148.5,417.2 152.2,414.5 154.7,410.5 154.5,407.5 149.1,399.5 144.3,389.5 137.9,355.5 138.9,347.5 146.8,330.5 149.1,322.5 149.3,318.5 148,313.5 145.9,309.5 131.5,294.1 124.4,284.5 113.8,264.5 108.2,258.5ZM160.8,-188.5 163.5,-189.2 165,-187.5 164.4,-184.5 162.2,-180.5 154.6,-172.5 150.5,-170.4 148.5,-170.7 148,-173.5 151.3,-179.5 156.5,-185.5ZM196.2,-162.5 200.5,-163.2 203.5,-162.4 205.5,-159.6 205.5,-156.5 204.2,-152.5 200.6,-146.5 190.5,-133.3 182.5,-126 166.5,-116.5 158.5,-114.7 155.5,-115.2 153,-116.5 151.6,-119.5 152.5,-123.6 157.8,-131.5 164.5,-139.2 176.5,-149.9Z"/>
<path fill="#ffccb3" fill-rule="evenodd" d="M-443.5,-446.7 -439.2,-449.5 141,-449.5 136.5,-438.5 127.5,-421.7 113.2,-401.5 104.1,-386.5 88.5,-354.5 83.5,-347.5 76.5,-339.9 68.6,-333.5 61.5,-329 51.5,-325.3 43.5,-323.5 13.5,-321.6 -2.5,-322.2 -18.5,-323.9 -33.5,-327.4 -46.5,-332.4 -59.5,-338.8 -72.5,-342.5 -87.5,-344 -100.5,-342.2 -110.6,-337.5 -116.5,-332.4 -119.4,-328.5 -126.1,-313.5 -128.2,-300.5 -132.8,-283.5 -135.5,-278.5 -139.4,-274.5 -146.5,-271.4 -174.5,-262.9 -188.5,-260 -203.5,-258.2 -211.5,-255.8 -215,-253.5 -218.4,-249.5 -225.9,-232.5 -229.1,-227.5 -232.5,-224.1 -242.5,-220.3 -262.5,-218.5 -282.5,-219.6 -293.5,-223.1 -305.5,-228.6 -325.5,-240.8 -331.5,-245.4 -337.5,-251.4 -347,-265.5 -350.5,-267.7 -383.5,-269 -449.5,-269 -449.5,-445.1ZM176.1,-399.5 179.5,-400.4 185.5,-400.3 195.5,-397.6 201.5,-393.3 202.8,-390.5 203.1,-387.5 201.6,-383.5 197.8,-378.5 189.5,-371.8 178.5,-367.4 171.5,-366.8 167.5,-368.3 165.5,-370.8 164.4,-374.5 164.8,-380.5 168.9,-393.5 171.5,-396.5ZM258.6,-30.5 291.5,-31 300.5,-29.7 306.5,-27.9 309.8,-25.5 312.2,-21.5 312.4,-16.5 309.5,-11.3 302.5,-7.4 291.5,-5.3 277.5,-4.5 252.5,-5.1 238.5,-7.4 230.5,-9.8 226.5,-12.3 224.8,-14.5 224.7,-17.5 226,-19.5 233.5,-24 245.5,-28.1ZM106.9,66.5 117.5,67.2 121.5,68.6 124.2,70.5 127.7,76.5 134.5,93.3 139.5,102.5 145.5,110.6 153.5,117 160.5,121.2 192.5,136.6 205.5,136.7 217.5,133 221.5,132.5 230.5,133.1 235.5,134.7 246.5,141.4 255.4,148.5 259.5,152.8 267.6,162.5 271.8,169.5 273.1,173.5 272.3,177.5 269.5,180.2 264.5,182.3 248.5,183.4 239.5,187 236.4,189.5 232.2,196.5 228.5,201 224.5,204 220.5,205.6 214.5,205.5 205.5,201.7 179.5,182.6 174.5,181.2 168.5,181 163.5,181.6 158.5,183.2 141.2,194.5 132.5,198.1 95.5,205.2 88.8,208.5 85.5,211.5 83.1,215.5 78.4,230.5 73.6,265.5 74.6,283.5 73.1,289.5 70.5,294.3 66.5,298 58.5,302.6 54.5,306.4 43.5,326.3 39.5,330 35.5,331.3 31.5,331.5 5.5,330.2 1.4,331.5 -5.6,336.5 -8.4,340.5 -16.1,361.5 -22.9,374.5 -28.5,379.8 -36.5,384.1 -42.5,388.3 -86.5,427.5 -91.1,433.5 -100.4,449.5 -350.4,449.5 -328.1,270.5 -323.5,251.5 -313.1,224.5 -304,195.5 -298.5,184.8 -294.5,180.3 -288.5,175.7 -281.5,171.8 -269.5,168 -259.5,166.3 -253.5,166.1 -249.5,167.1 -246.5,169.3 -244.5,173.5 -244.3,179.5 -250.3,214.5 -250.6,221.5 -249.4,227.5 -246.5,233.1 -243.5,235.6 -238.5,237.2 -223.5,238.8 -188.5,232.7 -108.5,229.5 -96.5,230.7 -75.5,236.3 -67.5,236.4 -62.5,233.5 -55.4,223.5 -26.4,176.5 -4,133.5 2.5,123.5 12.5,112.3 17.5,109.1 46.5,106.4 60.5,102.3 69.5,95.2 82.8,80.5 93.5,70.4 99.5,67.6ZM-376.2,118.5 -363.5,117.6 -350.5,120.5 -338.5,127.8 -330.8,134.5 -325.5,140.8 -323.6,148.5 -325.5,154.5 -334.5,166.1 -344.5,174.5 -354.5,179 -365.5,181.7 -369.5,181.7 -377.5,179.8 -381.9,177.5 -390,170.5 -396.8,162.5 -401.4,155.5 -403.8,149.5 -404.9,142.5 -404.1,136.5 -401.6,131.5 -398.2,127.5 -391.5,122.9Z"/>
<path fill="#ffaa85" fill-rule="evenodd" d="M-10.5,-431.3 0.5,-432.9 4.5,-432.3 10.5,-429.3 14.5,-425.8 17.9,-421.5 20.8,-415.5 24.2,-405.5 25.6,-398.5 25.2,-392.5 22.7,-380.5 18.5,-371.9 12.5,-365 2.5,-357.5 -1.5,-356.2 -5.5,-357.5 -14.2,-362.5 -22.3,-370.5 -27.1,-377.5 -29.9,-383.5 -31.9,-389.5 -32.9,-396.5 -31.8,-408.5 -30,-415.5 -27.8,-419.5 -20.5,-426.9ZM113.7,103.5 118.5,103.7 123.5,105.9 129.5,110.2 134,115.5 137.7,121.5 140.8,128.5 140.8,133.5 139.4,138.5 129.5,150.5 122.5,160.7 118.5,163.7 114.5,164.8 110.5,164.9 83.5,161.8 81,159.5 80.2,155.5 84.5,145.5 105.3,109.5 109.5,105.2ZM15.3,134.5 20.5,134.7 27.5,139 37.7,148.5 48.5,160.9 53.7,168.5 57.1,175.5 59.1,183.5 59.4,191.5 57.5,200.5 54.5,205.3 51.7,207.5 45.6,210.5 42.4,213.5 31.5,230.2 22.8,241.5 16.5,246 10.5,247.7 6.5,246.7 2.5,244.2 -1.3,240.5 -6.5,233.5 -15,216.5 -16.6,210.5 -17.2,204.5 -14.8,193.5 3.5,149.6 9.5,138.6 12.5,135.9ZM-156,259.5 -144.5,259.4 -134.5,263.7 -126.5,271.5 -112.6,289.5 -104.5,298.5 -96.8,304.5 -90.5,308 -86.5,309.6 -77.5,311.6 -73.5,313.5 -71.5,315.5 -70.8,317.5 -72.1,321.5 -89.5,332.4 -112.5,350.8 -116.5,353.2 -132.5,357.3 -153.5,358 -166.5,356.2 -171.5,354.2 -200.5,332 -218.8,320.5 -222.5,317.2 -226.9,310.5 -227.9,305.5 -227.8,301.5 -223.8,292.5 -215.5,284 -204.5,275.4 -190.5,267.4 -178.5,263.3ZM-286.6,270.5 -285.5,269.6 -283.9,270.5 -283.1,272.5 -283.5,273.7 -285.5,273.1Z"/>
<path fill="#ff7744" fill-rule="evenodd" d="M21.7,154.5 25.5,154.1 30.5,157.2 34.8,162.5 38.4,169.5 38.4,173.5 37.1,177.5 32.9,181.5 28.5,183.6 25.5,183.7 22.5,182.3 20.3,179.5 18.7,174.5 17.9,160.5 19.4,156.5Z"/>
<circle cy="0.5" r="96.8" fill="#fff"/><use href="#coast"/></g><circle r="446.9" fill="none" stroke="#000" stroke-width="2.8"/></g>
<g transform="translate(1071.8,2238.8)"><g clip-path="url(#cp)"><circle r="447.3" fill="#00008b"/><path fill="#0024b8" fill-rule="evenodd" d="M-449.5,-449.5 449.5,-449.5 449.5,449.5 -449.5,449.5Z"/>
<path fill="#0033e5" fill-rule="evenodd" d="M-449.5,-449.5 449.5,-449.5 449.5,449.5 -449.5,449.5Z"/>
<path fill="#1a52ff" fill-rule="evenodd" d="M-449.5,-449.5 449.5,-449.5 449.5,449.5 -449.5,449.5Z"/>
<path fill="#4477ff" fill-rule="evenodd" d="M-449.5,-449.5 449.5,-449.5 449.5,449.5 -449.5,449.5Z"/>
<path fill="#85aaff" fill-rule="evenodd" d="M-449.5,-449.5 449.5,-449.5 449.5,449.5 -449.5,449.5Z"/>
<path fill="#b3ccff" fill-rule="evenodd" d="M-449.5,-449.5 449.5,-449.5 449.5,449.5 -449.5,449.5ZM-405.5,-170.5 -407.7,-169.5 -408.1,-167.5 -407.5,-166.3 -403.5,-164.3 -399.5,-164.9 -399.1,-166.5 -400.4,-168.5ZM-381.5,-176.6 -383.5,-176 -384.7,-174.5 -385,-172.5 -383.8,-169.5 -380.5,-167.5 -375.8,-168.5 -374.3,-170.5 -375,-173.5 -377.5,-175.7ZM-275.5,-198.6 -289.5,-197.3 -291.2,-195.5 -290.4,-192.5 -281.5,-184.7 -267.5,-176.4 -259.5,-172.7 -257.5,-172.5 -255.5,-173.4 -254.9,-175.5 -255.5,-177.8 -261.5,-191.2 -263.5,-193.8 -266.5,-196.1 -270.5,-197.7ZM-79.5,160.2 -83.5,163 -87.5,168.5 -88.4,173.5 -86.5,177.1 -84.5,177.3 -82.5,175.8 -76.5,165.6 -76.1,161.5 -77.5,160.2ZM-58.5,83.2 -59.5,84.6 -59.7,87.5 -58.5,89.8 -56.5,90.5 -54.5,88.8 -54,85.5 -55.5,83.1ZM178.5,392.4 176.5,393.3 174.7,395.5 173,401.5 174,405.5 177.5,407.5 180.5,407.1 183.4,405.5 185.5,403.1 186.2,400.5 185.4,397.5 183.3,394.5 180.5,392.5Z"/>
<path fill="#d9ebff" fill-rule="evenodd" d="M-449.5,-449.5 449.5,-449.5 449.5,449.5 264.6,449.5 265,440.5 261.5,390.5 254.2,358.5 250.9,354.5 242.5,349.8 230.3,345.5 216.5,342.6 206.4,344.5 197,352.5 187.5,357.1 169.5,361.2 155.5,365.8 144.5,371.1 122.5,383.9 110.5,387.6 78.5,393.7 70.5,396.4 63.5,400.1 54.7,407.5 49.4,416.5 46.2,433.5 46,449.5 -449.5,449.5ZM-327.5,-277.7 -330.8,-275.5 -331.4,-272.5 -330,-268.5 -326,-263.5 -320.5,-259.1 -312.5,-254.2 -296.5,-247.2 -286.5,-244.7 -275.5,-244.9 -255.6,-249.5 -246.4,-252.5 -244.1,-254.5 -245,-256.5 -247.5,-257.6 -286.5,-266.6 -314.5,-277.1 -322.5,-278.4ZM-74.5,150.5 -81.5,154.5 -86.5,158.4 -92.5,167.3 -94.5,173.5 -94.7,178.5 -93.1,182.5 -90.5,184.6 -87.5,184.7 -82.5,180.6 -78.5,174.9 -73.5,165.4 -70.3,157.5 -69.4,153.5 -71.2,150.5ZM-59.5,80.3 -62.5,83.4 -63.2,88.5 -61.5,95.1 -58.5,97.4 -56.5,96.8 -54.5,94.6 -52.5,90.5 -51.9,86.5 -52.6,83.5 -54.5,81 -56.5,80.1ZM398.5,28.4 394.5,30.1 393.4,33.5 395.2,40.5 400.1,48.5 406.5,54.7 410.5,57.1 415.5,58.1 419.4,56.5 421.7,53.5 422.7,49.5 422,43.5 420.4,39.5 416.5,35.6 411.5,32.2ZM-264.5,-202.6 -290.5,-201.9 -315.5,-198.8 -330.5,-195 -344.5,-190.4 -358.5,-187.2 -402.5,-181.1 -408.5,-176.8 -412.4,-171.5 -414.1,-161.5 -413.2,-154.5 -405.5,-144.4 -401.5,-131.3 -399.5,-129.1 -396.5,-128.4 -367.5,-143.6 -360.5,-149.1 -351.5,-158.3 -344.5,-163.5 -332.5,-169 -317.5,-173.8 -306.5,-175.9 -289.5,-175.7 -274.5,-172.1 -265.5,-168.5 -256.8,-163.5 -250.5,-161.7 -242.5,-161.3 -237.5,-162.2 -235.5,-163.4 -235.2,-164.5 -236.6,-166.5 -246.4,-173.5 -251.5,-178.9 -256.3,-188.5 -258.5,-197.5 -260.5,-201.1ZM-405.5,175.3 -406.4,177.5 -405.7,182.5 -404.5,185.7 -402.5,187.2 -401.8,184.5 -402.5,179.8 -403.8,176.5Z"/>
<path fill="#ffebd9" fill-rule="evenodd" d="M-449.5,-449.5 449.5,-449.5 449.5,449.5 303.8,449.5 320.5,438.9 322.2,436.5 322.6,434.5 317.6,358.5 310,313.5 307.5,309.8 300.5,304.2 280.5,292.8 265.5,287.4 254.5,285 247.5,284.5 239.5,285 227.5,287.9 218.5,291.5 208.5,297.4 204.5,298.8 197.5,299.9 185.5,299.3 178.5,301.9 175.6,304.5 164.5,318.5 150.5,330.4 142.5,338.5 138.3,345.5 134.3,356.5 128.2,363.5 124.3,366.5 114.5,371.7 90.5,382.7 82.5,382.2 77.5,379.5 73.9,376.5 67.3,367.5 64,360.5 62.1,353.5 62.1,347.5 63.9,338.5 66.5,331.7 76.5,312.4 78,307.5 77.5,306.5 76.5,307 67.5,316.4 59.5,328 53.9,338.5 47.8,355.5 46,358.5 35,369.5 15.5,384 5.6,395.5 5.7,409.5 18.5,416.5 21.5,420.6 25.6,434.5 26,449.5 -449.5,449.5 -449.5,65.6 -438.5,74.2 -434.5,74.4 -427.5,72.8 -424.5,71.1 -422.5,68.4 -418.8,60.5 -418,55.5 -418.2,38.5 -422.3,26.5 -425,22.5 -434.5,14.6 -439.6,5.5 -440.9,-3.5 -441,-13.5 -438.9,-30.5 -433.9,-39.5 -429.4,-43.5 -417.5,-50.5 -389.5,-62.8 -380.5,-68.9 -378.2,-71.5 -374.9,-77.5 -370.5,-96.5 -368.3,-101.5 -364.7,-106.5 -356.5,-112 -340.5,-116.4 -321.7,-123.5 -315.5,-130.4 -311.2,-140.5 -304.5,-146.6 -297.5,-148.8 -277.5,-152.5 -262.5,-153.9 -238.5,-154.1 -227.5,-155.4 -220.5,-157.2 -218.1,-159.5 -229.5,-168.4 -246,-183.5 -247.3,-186.5 -251.5,-203.6 -253.5,-208 -255,-209.5 -257.5,-209.7 -263.5,-207.4 -268.5,-206.5 -279.5,-205.9 -290.5,-206.4 -305.5,-209.3 -311.5,-212.2 -313.3,-214.5 -312.9,-217.5 -310.5,-221.8 -300.5,-228.5 -274.9,-239.5 -245.5,-249 -240.9,-251.5 -233.6,-260.5 -232.5,-264.5 -233.5,-267 -235.5,-269.2 -245.5,-275.3 -254.5,-278.8 -267.5,-281.8 -287.5,-284.3 -326.5,-287.9 -433.5,-288.5 -437.5,-287.8 -439.5,-286.2 -449.5,-266.5ZM-130.5,164.4 -136.5,168.2 -139.5,172.5 -139.8,178.5 -138.5,181.1 -136.5,182.6 -133.5,182.8 -130.5,181.1 -127.5,176.8 -125.1,171.5 -124.4,167.5 -125,165.5 -127.5,164ZM-66.5,128.2 -71.3,130.5 -73.5,132.5 -79.3,142.5 -86.5,150.5 -92.5,161.3 -96.2,169.5 -103.5,190.7 -104.5,196.7 -103.9,198.5 -102.5,199.4 -95.7,198.5 -89.9,194.5 -86.1,187.5 -78.5,177.7 -60.1,144.5 -57.8,136.5 -57.5,131.4 -58.7,129.5 -61.5,127.9ZM-60.5,77.3 -63.5,78.8 -65.2,81.5 -65.7,90.5 -64.5,96 -62.9,99.5 -60.5,101.7 -57.5,102.1 -54.4,100.5 -51.7,96.5 -50.1,90.5 -50.1,85.5 -51.5,81.5 -53.5,79.2 -56.5,77.6ZM282.5,186.3 280.3,188.5 281.1,191.5 291.8,206.5 298.5,214 302.5,216 306.5,216.4 310.5,214.6 314,211.5 315.4,208.5 315,205.5 313,202.5 308.5,198.5 295.5,190.2 287.5,187ZM381.5,-79.8 378.5,-77.7 373.5,-71.8 363.5,-56.5 349.1,-42.5 343.1,-33.5 340.6,-28.5 337.4,-18.5 335.7,-5.5 336.5,-3.1 340.5,0.7 345.5,7.4 359.7,33.5 368.6,45.5 392.8,65.5 403.5,72.6 408.5,73.2 416.2,70.5 419.5,66.7 426.4,52.5 427.5,38.5 424.6,32.5 409.9,12.5 406.9,6.5 404,-2.5 401.9,-18.5 393.5,-57.5 391,-74.5 389.4,-77.5 386.5,-80 384.5,-80.4ZM-406.5,161.3 -408.7,162.5 -409.9,165.5 -410.4,176.5 -409,184.5 -400.4,208.5 -396.5,213 -392.5,213.4 -389.1,210.5 -388,204.5 -395.3,174.5 -397,169.5 -400.1,164.5 -403.5,161.8ZM-50.5,368.2 -52.5,369.3 -53.5,370.9 -55.5,379.5 -53.6,389.5 -51.1,396.5 -42.6,410.5 -38.2,415.5 -29.5,423.9 -17.5,430.2 -5.5,416.5 -3.3,412.5 -3.4,410.5 -5.5,408.9 -14.5,407.6 -23.1,402.5 -31.8,391.5 -46,370.5 -48.5,368.4ZM-360.3,-248.5 -350.5,-249.4 -339.5,-247.2 -334.2,-243.5 -333,-240.5 -333.5,-237.5 -337.5,-233 -343.5,-229.8 -348.5,-229.2 -354.5,-230.4 -360.8,-234.5 -364.1,-238.5 -365.5,-241.5 -365.5,-244 -364.5,-246.1ZM-379.3,-207.5 -365.5,-208.2 -352.5,-207.2 -344.5,-204.6 -343.1,-203.5 -342.5,-201.5 -344.5,-199.5 -353.5,-197 -376.5,-193.6 -389.5,-193.8 -394.1,-195.5 -396.1,-197.5 -395.8,-200.5 -392.5,-203.4 -386.5,-205.8Z"/>
<path fill="#ffccb3" fill-rule="evenodd" d="M-449.5,-449.5 446.7,-449.5 449.5,-448.4 449.5,-149.8 424.5,-145 402.5,-136.4 391.5,-133.4 381.5,-132.2 361.5,-132.4 334.5,-137.2 309.5,-142.9 305.5,-142.5 302.5,-141.1 301.2,-139.5 299.9,-135.5 298.9,-129.5 299.3,-118.5 302.8,-104.5 303,-92.5 302.5,-87.5 298.7,-73.5 298,-55.5 300.9,-30.5 303.9,-12.5 312.1,13.5 322.8,36.5 335.5,73.5 339,80.5 338.5,84.1 333.9,95.5 329.6,105.5 326.5,110.5 318.3,120.5 284.5,147.2 269.5,150.4 248.5,148.4 241.8,150.5 238.3,152.5 236.5,155.3 234.3,163.5 231,170.5 221.5,183.9 216.2,194.5 211.5,210.2 208.1,229.5 203.6,239.5 181.5,262.2 168.3,274.5 156.5,283.3 128.3,299.5 124.5,301 117.5,301.9 108.5,299.7 104.5,297.6 98.5,292.8 91.4,282.5 86.4,278.5 78.5,275.2 65.5,275.3 57.5,278.3 51.5,281.6 38.3,294.5 27.6,307.5 21.5,313.6 7.5,324.5 -2.5,330.6 -6.5,331.3 -12.5,330.6 -30.5,324.3 -46.5,322.6 -59.5,323.9 -73.5,326.6 -86.5,331 -95.5,336 -100.5,341 -105,347.5 -110.9,359.5 -121.5,384.5 -136.9,413.5 -144,433.5 -147.1,449.5 -361.6,449.5 -376.9,429.5 -378.8,424.5 -379.2,419.5 -365.4,315.5 -361.8,294.5 -354.9,255.5 -348.5,242.4 -347.1,235.5 -348.7,229.5 -353,219.5 -368,193.5 -371.3,182.5 -373.2,149.5 -377,119.5 -382.4,95.5 -395.7,49.5 -398.9,34.5 -400.5,18.5 -399.5,6.5 -403.2,-10.5 -402.2,-19.5 -398.9,-26.5 -393.1,-32.5 -360.8,-54.5 -350.2,-63.5 -345.2,-72.5 -340.1,-95.5 -338.5,-98.9 -335.7,-101.5 -329.5,-103.8 -317.5,-103.2 -310.5,-104.7 -307.4,-106.5 -300.5,-113.5 -291.5,-118.7 -273.5,-124.4 -248.5,-135.9 -234.5,-141.4 -217.5,-146.6 -194.2,-152.5 -189.5,-154.4 -186.7,-156.5 -185.6,-158.5 -185.9,-160.5 -189.3,-164.5 -189.9,-166.5 -184.1,-182.5 -183.8,-188.5 -184.9,-192.5 -187.1,-196.5 -196,-206.5 -213.1,-219.5 -216.5,-220.6 -219,-219.5 -218.8,-217.5 -216.5,-213.2 -208.7,-205.5 -203.5,-198.2 -200.2,-191.5 -198.9,-185.5 -199.2,-181.5 -201,-177.5 -206.3,-173.5 -208.9,-169.5 -213.5,-165 -216.5,-164.4 -223.1,-167.5 -243.6,-184.5 -245,-187.5 -245.8,-195.5 -250.7,-213.5 -247.7,-219.5 -236.5,-232.4 -227.9,-246.5 -223.5,-251.5 -213.5,-257.5 -188.5,-266.4 -174.9,-272.5 -172.4,-274.5 -170.6,-277.5 -169.4,-285.5 -170.4,-292.5 -172.5,-297.7 -175.5,-300.7 -179.5,-301.8 -192.5,-300.8 -216.5,-296.2 -237.5,-296 -276.5,-301.1 -305.5,-306.7 -318.5,-307.9 -449.5,-308.5ZM-120.5,53.3 -125.3,55.5 -126.7,59.5 -124.5,65.5 -120.5,69 -114.5,70 -106.5,69.1 -102.5,67.5 -99.3,63.5 -98.9,58.5 -100,56.5 -102.5,54.3 -105.5,53.3 -113.5,52.7ZM-61.5,74.3 -65.9,76.5 -68.3,81.5 -66.6,99.5 -69.1,112.5 -68.9,124.5 -74.7,130.5 -81.2,141.5 -89.7,149.5 -93.9,157.5 -99.1,169.5 -107.2,191.5 -107.8,198.5 -106.5,200.5 -104.5,201.5 -100.5,201.6 -95.4,200.5 -90.9,198.5 -87.5,195.6 -84.2,187.5 -78.3,179.5 -68.5,162.5 -58,147.5 -54.5,135.8 -49.2,127.5 -48.4,122.5 -49.4,116.5 -51.3,112.5 -56,107.5 -56.1,106.5 -51,101.5 -48.7,97.5 -47.4,90.5 -47.9,83.5 -49.7,79.5 -53.5,75.8 -57.5,74.2ZM171.5,-277.8 171.2,-276.5 173.6,-273.5 186,-263.5 196.5,-258.1 199.5,-257.6 200.8,-258.5 198.8,-261.5 188.4,-268.5 176.9,-275.5ZM205.5,-223.7 200.5,-220 196.2,-214.5 195.9,-210.5 199.5,-207.5 202.5,-207.2 205.6,-208.5 208.3,-211.5 210.9,-216.5 211.5,-220.5 210.5,-223 208.5,-224.2ZM287.5,-158.8 285.3,-156.5 286.6,-149.5 290.5,-146 294.5,-145.8 296.5,-148.6 296.6,-153.5 295.7,-156.5 292.5,-158.7ZM348.5,-257.6 334.5,-254.7 324.5,-253.6 306.5,-254.6 304.7,-253.5 304.4,-251.5 307.5,-243.4 313.5,-233.4 319.5,-227.5 323.5,-226.7 327.5,-228.5 331.3,-231.5 342.5,-245 353.6,-255.5 353.5,-256.8 352.5,-257.6ZM-118.5,132.2 -124.5,135.5 -133.5,143.8 -140.5,151.9 -144.5,158.9 -151.5,177.5 -153.1,190.5 -152.1,195.5 -147.5,199.5 -143.5,200.3 -138.5,199.8 -132.5,197.8 -126.5,194.4 -119.5,188.6 -114.5,183.2 -107.4,171.5 -105.4,165.5 -104.1,157.5 -104.2,151.5 -105.5,144.5 -108.1,138.5 -111.5,134.2 -114.5,132.3ZM205.5,-149.7 189.5,-140.5 187.5,-138.5 187.6,-137.5 192.7,-138.5 201.7,-143.5 206.7,-147.5 208.1,-149.5 207.5,-150.1ZM-376.9,-203.5 -365.5,-204.1 -357.2,-202.5 -357.4,-201.5 -362.5,-199.9 -372.5,-199.4 -377.5,-200.3 -379.5,-201.5 -379.2,-202.5ZM421.1,-92.5 430.5,-93.2 439.5,-91.2 443.5,-88.9 446.2,-84.5 449.5,-76.2 449.5,-48.8 446.9,-42.5 444.5,-39.9 442.5,-39.4 439.5,-40 411.5,-52.2 401.5,-57.8 398.2,-60.5 396.1,-63.5 395,-68.5 395.3,-72.5 400.2,-80.5 409.5,-88.3ZM433.5,-15.1 441.5,-17.8 444.5,-16.6 447.2,-13.5 449.5,-9.2 449.5,15.5 445.5,24.7 443.5,26.3 439.5,27.1 436.5,26.8 433.8,25.5 429,19.5 426.9,14.5 424.8,0.5 426.2,-5.5 429.5,-12.1ZM449.2,138.5 449.5,265.2 445.5,267.6 441.5,267.9 394.5,257.7 365.5,248.9 356.7,243.5 347.8,231.5 332.9,199.5 332,195.5 332.4,191.5 333.6,186.5 335.5,183.4 343.5,175.4 352.5,168.1 372.5,155.7 389.5,143.1 401.5,141.2 413.5,145.7 418.5,146.2 434.5,143.9ZM47.4,299.5 51.5,299.4 54,300.5 55.5,302.8 55.6,306.5 53.7,312.5 49.5,320.5 46.5,323.4 43.5,324.4 40.5,323 38.1,319.5 36.2,314.5 35.7,308.5 36.8,305.5 39.3,302.5Z"/>
<path fill="#ffaa85" fill-rule="evenodd" d="M-226.5,-449.5 441.3,-449.5 444.5,-446.7 449.5,-444.9 449.5,-168.4 392.5,-153.5 362.5,-142.9 346.5,-140 333.5,-141 303.5,-148.2 300.7,-150.5 299.7,-156.5 297.5,-159.9 293.5,-162 287.5,-162.4 284.5,-161.4 282.5,-159.5 281.7,-157.5 281.7,-152.5 280.7,-150.5 273.5,-147.9 267.1,-142.5 265.4,-138.5 263.7,-130.5 264.2,-114.5 272.2,-73.5 280,-40.5 289.6,-6.5 297.4,26.5 303.1,42.5 303.1,53.5 288.9,90.5 280.7,102.5 276.5,106.5 266.7,113.5 244.5,126.6 237.5,133.4 234.6,137.5 214.5,177.5 210.3,187.5 206.8,203.5 205.6,222.5 204.5,228.5 201.5,236.5 193.8,244.5 189.5,246.8 184.5,246.5 178.5,243.5 165.5,233.3 159.5,231 154.5,230.7 151,232.5 149,235.5 140.6,260.5 136.5,265.5 131.5,268.4 125.5,269.6 120.5,268 107.5,251.8 104.3,249.5 100.5,249.1 97.2,250.5 91.5,255.8 86.5,257.9 80.5,258.9 68.5,258.3 59.5,261 51.9,267.5 43.5,280.7 39.5,284 35.5,286 31.5,287.2 26.5,287.4 17.5,283.6 13.5,283.7 8.5,285.3 -1.5,290.9 -12.5,293.7 -29.5,293 -39.5,293.8 -59.5,298.8 -72.5,300 -146.5,293.1 -152.5,293.5 -159.5,295.3 -163,297.5 -166.6,302.5 -168.1,307.5 -168.6,313.5 -162.8,337.5 -156.4,354.5 -156.2,363.5 -157.6,367.5 -169.2,384.5 -175.5,397.5 -179.8,421.5 -181,449.5 -357.9,449.5 -360.1,445.5 -373.5,428.4 -374.8,424.5 -374.6,419.5 -356.1,326.5 -341.7,273.5 -339.1,266.5 -328.2,251.5 -325.5,245.3 -324.8,241.5 -328,232.5 -341.6,205.5 -346.8,191.5 -349.5,179.5 -353.1,150.5 -356.9,132.5 -364.3,106.5 -375.6,76.5 -384.8,47.5 -393.1,9.5 -394.1,2.5 -393.7,-2.5 -391,-11.5 -386.1,-18.5 -379.5,-23.8 -350.5,-38.4 -339.5,-45.9 -326.5,-62.1 -312.3,-75.5 -301.1,-91.5 -293.5,-98.4 -188.5,-151.3 -171.7,-162.5 -167.9,-167.5 -167.2,-170.5 -167.7,-173.5 -172.3,-184.5 -179.2,-195.5 -186.6,-203.5 -204.5,-217.8 -212.5,-223.1 -216.5,-224.3 -220.5,-224 -222.6,-222.5 -224.5,-217.9 -227.5,-219.8 -229.2,-223.5 -228.4,-229.5 -223.5,-236.1 -218.5,-240.3 -203.5,-250 -192.5,-253.1 -173.5,-254 -163.5,-258.2 -155.3,-266.5 -153,-271.5 -152,-276.5 -153.3,-284.5 -156.1,-293.5 -159.1,-298.5 -165,-305.5 -172.5,-311.8 -190.4,-321.5 -204.2,-331.5 -212.2,-340.5 -216.9,-349.5 -221.9,-363.5 -224.8,-375.5 -226.5,-409.5ZM-130.5,-262.6 -135.5,-259.5 -137.4,-255.5 -136.8,-249.5 -134.3,-245.5 -130.5,-243.2 -125.5,-242.7 -118.5,-244.2 -114.5,-246.5 -113.5,-248.5 -113.7,-251.5 -119.5,-259.3 -125.5,-262.7ZM152.5,-290.2 151.6,-289.5 152,-287.5 156.5,-281.2 173.8,-266.5 205.3,-246.5 210.5,-244.8 212.8,-245.5 213.4,-248.5 211.5,-252.3 202.1,-262.5 171.5,-281.5 155.5,-289.4ZM232.5,-45 221.5,-41.5 218.3,-38.5 217.7,-34.5 219,-31.5 220.5,-30.2 222.5,-29.7 225.5,-30.6 233.6,-39.5 234.8,-42.5 234.5,-44ZM252.5,-10.5 233.5,-9 230.7,-7.5 230.1,-5.5 231.9,-3.5 236.5,-1.3 248.5,-0.2 262.5,-1.1 266.5,-3 268.4,-5.5 268.1,-7.5 265.5,-9.4ZM288.5,-329.6 285.5,-328 281.5,-324 280,-321.5 279.7,-318.5 281.3,-315.5 284.2,-313.5 288.5,-311.8 291.5,-311.9 295.5,-313.4 298.5,-315.6 300.5,-319.5 300.5,-322.5 299,-325.5 295.5,-328.4 292.5,-329.6ZM343.5,-262.7 334.5,-258.2 324.5,-256.5 316.5,-256.4 303.5,-258.9 301.3,-258.5 301.5,-251.5 305.1,-240.5 310.5,-230.5 316.5,-224 321.5,-222.5 325.5,-223.9 333.5,-230 346.5,-243.7 354.2,-249.5 356.8,-252.5 359.1,-257.5 359,-259.5 357.5,-261.7 352.5,-263.4ZM-175.5,-228.6 -177.6,-226.5 -177.3,-223.5 -175.5,-221.6 -172.5,-221.3 -170.4,-223.5 -170.6,-226.5 -172.5,-228.5ZM-123.5,44.3 -132.5,52 -134.5,55.1 -135.1,57.5 -134.5,60.8 -127.8,75.5 -120.5,72.9 -94.5,70.9 -87.5,72.8 -81.5,75.3 -75.5,79.3 -72.5,82.7 -70.5,87.8 -69.2,97.5 -72.2,122.5 -81.6,139.5 -84.5,142.7 -88.5,145.2 -91.5,145.2 -93.5,144.1 -105.5,131.3 -108.5,129.7 -112.5,129.1 -118.4,129.5 -122.8,131.5 -129.4,136.5 -136.4,143.5 -157.5,170.5 -158.3,175.5 -155.7,180.5 -155.1,183.5 -156,189.5 -159,195.5 -167.5,203.5 -152.5,208.7 -147.1,208.5 -125.5,200.9 -117.5,200.8 -101.5,203.1 -93.5,201.3 -86.7,197.5 -85.3,195.5 -82.8,187.5 -77.1,179.5 -69,165.5 -55.5,149.5 -53.6,138.5 -52.4,136.5 -46.5,131.2 -42.7,118.5 -40,112.5 -23.8,91.5 -24.5,89.3 -34.5,87.1 -37.5,85.4 -39.9,82.5 -40.2,77.5 -34.6,70.5 -34.1,68.5 -36.5,63.8 -42.4,59.5 -50.3,56.5 -64.5,52.9 -68.5,50.3 -73.5,45.5 -76.5,44.2 -81.6,44.5 -95.5,49.2 -101.5,50.1 -111.5,48.3 -120.5,43.8ZM182.5,-162.5 177.5,-161.3 173.9,-159.5 172.7,-157.5 173.5,-154.7 175.5,-153.8 178.5,-154 186.5,-157.7 187.8,-159.5 187.2,-161.5 185.5,-162.4ZM208.5,-228.6 201.5,-224.8 195.4,-218.5 191.3,-211.5 190,-207.5 190,-204.5 191.3,-202.5 193.5,-201.3 202.5,-201 206.5,-199 209.7,-195.5 214.1,-185.5 216.5,-183.9 218.5,-184 223.8,-188.5 224.9,-192.5 224.8,-197.5 220.6,-208.5 216.9,-224.5 213.5,-228ZM353.5,-182.5 347.5,-181.9 340.5,-179.4 339.2,-177.5 338.9,-175.5 340.5,-170.5 343.5,-167.7 349.5,-164.1 366.5,-159.8 383.5,-159 391.5,-160.2 404.5,-164.1 408.9,-167.5 410.8,-170.5 410.5,-174.5 408.7,-178.5 406.5,-180.6 403.5,-182 373.5,-181.5ZM-131.5,89.2 -141.5,100.3 -153.2,107.5 -158.3,111.5 -159.4,114.5 -159,122.5 -161.5,127.6 -164.5,128.4 -168.5,125.4 -170.5,124.9 -174.9,127.5 -175.3,129.5 -171.9,133.5 -171.1,135.5 -171.4,138.5 -173.5,141.7 -179.5,145.3 -191.5,145.4 -199.5,149.5 -205.5,155.1 -215.5,169.7 -231.5,201.5 -234.8,210.5 -234.5,215.5 -231.1,223.5 -230.8,230.5 -228.5,234.7 -225.5,235.6 -220,233.5 -213.8,229.5 -205.5,222.3 -188.5,216.6 -182.3,211.5 -181.6,209.5 -182.5,209.1 -199.5,210.8 -205.5,210.4 -209.5,209.2 -212.5,206.6 -213.9,203.5 -213.9,199.5 -212.8,195.5 -209.8,190.5 -204,183.5 -161.7,141.5 -146.5,123.7 -139.5,113.8 -134.5,103.8 -131.4,94.5 -130.9,90.5ZM207.5,-154.5 196.5,-149.1 185.5,-142.1 182.3,-138.5 181.9,-136.5 182.5,-134.9 185.5,-133.6 191.5,-134.9 201.5,-139.9 208.3,-144.5 212.4,-148.5 213.7,-152.5 211.5,-154.8ZM-233.1,-197.5 -224.5,-197.4 -215.5,-193.1 -212.9,-188.5 -213.2,-185.5 -214.8,-182.5 -219.5,-179.1 -227.5,-177.6 -231.6,-178.5 -239.1,-183.5 -242.4,-187.5 -242,-192.5 -239.5,-195ZM419.5,-88.7 432.4,-89.5 439.5,-87.4 442.4,-84.5 445.5,-77.4 448.8,-64.5 449.2,-58.5 445.5,-47.6 442.5,-43.4 440.5,-43.5 412.4,-55.5 403.5,-60.5 398.5,-65.6 397.9,-68.5 398.5,-72.1 405,-80.5 409.8,-84.5 413.6,-86.5ZM438.3,-13.5 441.5,-13.9 443.5,-12.6 446,-8.5 446.7,-4.5 446.2,14.5 443.4,21.5 441.5,23.2 439.5,23.6 435.5,22.4 431.5,17 430.2,13.5 428.2,1.5 428.8,-2.5 431.5,-8.9 434.2,-11.5ZM384.5,200.5 388.5,200.5 391.5,201.9 393.8,204.5 395,208.5 394.7,213.5 393,218.5 390.5,221.6 386.5,223.4 383.5,223 380.4,220.5 378.5,216.5 377,210.5 377.2,207.5 378.5,204.2 380.5,202.2Z"/>
<path fill="#ff7744" fill-rule="evenodd" d="M-142,-449.5 309.5,-449.5 291.2,-388.5 281.5,-342.5 282,-331.5 280.7,-328.5 277,-323.5 276.1,-318.5 278.3,-313.5 283.5,-309.5 284.9,-307.5 286.3,-291.5 287.9,-286.5 291.1,-282.5 294.5,-280.2 298.5,-279.3 302.5,-279.9 308.5,-282.7 311.5,-283.3 317.5,-283.3 322.5,-281.9 329.2,-278.5 333.5,-274.2 335.9,-269.5 336.2,-263.5 333.5,-261.1 326.9,-259.5 319.5,-259 310.5,-260 306.1,-261.5 300.9,-264.5 292.5,-272.9 289.5,-274 286.5,-273.6 284.6,-271.5 284.7,-269.5 286.5,-267.5 292.5,-264.2 295.5,-261 298,-254.5 297.5,-250.4 295.5,-250.7 288.5,-254.6 283.5,-255.8 270.5,-257.4 262.5,-256.4 246.5,-246.9 241.3,-242.5 234.3,-232.5 225.5,-213 224.5,-212.5 223.5,-213.5 220.7,-224.5 218.4,-228.5 213.5,-231.8 208.5,-231.9 202.5,-229.1 196.1,-223.5 188.8,-213.5 186.2,-205.5 187.4,-201.5 190.5,-198.6 194.5,-197.5 201.5,-197.6 205.3,-195.5 207.5,-192.4 210.6,-184.5 213.5,-181.3 217.5,-180 222.5,-181.2 224.1,-180.5 226.5,-162.5 229.3,-152.5 231.5,-147.8 247.8,-122.5 250.7,-113.5 252.6,-102.5 255.5,-91.6 268.1,-59.5 267.7,-55.5 266.5,-52.5 263.5,-49.3 260.5,-47.5 258.5,-47.2 252.5,-48.9 244.5,-49.7 233.5,-48.9 220.5,-44.6 213.8,-40.5 209.4,-35.5 207.6,-29.5 207.4,-23.5 209.2,-13.5 211.5,-9 214.5,-6.2 230.5,0.9 239.5,3 255.5,2.9 259,4.5 270.3,23.5 279,34.5 281.2,38.5 283.5,49.5 281.5,60.5 276.5,76.2 269.5,89.1 260.5,97.9 245.9,107.5 236.6,115.5 212.6,148.5 189.5,178 169,198.5 161.5,204.3 154.5,208.3 144.5,211.9 127.5,215.8 121.5,219.3 116.5,225.3 111.1,227.5 106.5,228.4 88.5,229.3 83.5,230.6 73.5,235.3 63.5,235.3 56.5,237.3 48.1,241.5 32.1,252.5 22.5,257.8 0.5,264.7 -10.5,269.4 -15.5,270.7 -23.5,271.4 -30.5,270.2 -52.5,261.5 -56.5,260.9 -59.5,261.8 -64.5,267.5 -69.5,271.4 -75.5,274 -80.5,275.1 -87.5,275.2 -94.5,274.3 -102.5,272 -116.5,266.2 -128.5,265 -174.5,271.3 -182.5,273.2 -186.5,275 -192.5,279.9 -205.5,294.2 -209.6,300.5 -212.3,306.5 -213.3,315.5 -212.6,323.5 -209.6,339.5 -209.2,346.5 -210,353.5 -211.5,358.5 -214.2,363.5 -223.1,372.5 -225.5,377.5 -231.6,403.5 -236.9,449.5 -343.5,449.5 -351.5,432.4 -352.6,427.5 -344.3,331.5 -337,281.5 -335.5,278.2 -325.1,262.5 -319.8,251.5 -316.8,239.5 -316.7,229.5 -319.5,218.7 -326.2,207.5 -330.7,195.5 -335.1,175.5 -339.3,138.5 -342.4,125.5 -364,80.5 -368.7,69.5 -372.7,57.5 -377.4,31.5 -382.9,14.5 -383.5,6.5 -382.9,0.5 -381.4,-4.5 -379.1,-8.5 -374.9,-13.5 -370.5,-17.1 -365.5,-20.2 -335.5,-34.1 -322.9,-43.5 -303.1,-64.5 -287.5,-87.4 -279.5,-95.9 -247.1,-115.5 -217.5,-131.1 -184.5,-150 -171.5,-157.9 -164,-163.5 -160.2,-167.5 -158.3,-171.5 -158.5,-186.5 -156.7,-196.5 -153.2,-203.5 -147.5,-209.4 -137.5,-214.7 -104.5,-223 -99.5,-225.7 -96.4,-229.5 -93.5,-239.6 -93.1,-253.5 -96.1,-274.5 -100.1,-289.5 -104.7,-298.5 -110.5,-305.5 -118.5,-312 -130,-317.5 -133.4,-321.5 -134.8,-325.5 -134.6,-334.5 -131.5,-344.7 -127.5,-351.2 -120.1,-358.5 -116.4,-365.5 -114.3,-373.5 -113.6,-383.5 -115,-392.5 -118.5,-399.3 -121.5,-402.4 -133.5,-411.4 -138.6,-417.5 -141.7,-438.5ZM137.5,-250.8 134.5,-249.5 132.4,-247.5 129.8,-237.5 130.6,-220.5 132.5,-216.7 134.5,-216.1 137.5,-217.6 141.5,-223.7 145.2,-233.5 146.5,-240.5 146.4,-244.5 144.5,-248.6 141.5,-250.7ZM150.5,-293.6 148.6,-292.5 148.2,-290.5 151.5,-283.5 155.7,-278.5 164.2,-271.5 171.5,-264 204.5,-243.1 211.5,-241.1 214.5,-241.9 216.3,-243.5 217.3,-247.5 216,-251.5 212.7,-256.5 207.4,-261.5 170.5,-284.2 156.5,-291.7ZM162.5,-372.8 158.4,-367.5 151.7,-353.5 150.9,-348.5 152.5,-346.5 154.5,-346.9 157.6,-349.5 163.5,-360.5 164.8,-369.5 163.7,-372.5ZM-123.5,42.2 -132.5,49 -135.5,52.5 -136.8,55.5 -136.8,60.5 -132.4,70.5 -131.3,77.5 -132.9,84.5 -137,91.5 -143.5,98.7 -154.5,105.5 -160.4,110.5 -161.9,113.5 -161.3,120.5 -162.5,123.9 -164.5,124.6 -168.2,122.5 -170.5,122.4 -173.5,123.6 -177.1,126.5 -178.3,128.5 -178.1,130.5 -174.5,134.3 -173.8,136.5 -175.5,140.1 -178.5,142.2 -181.5,143.2 -192.5,143.2 -200.5,147.4 -208,154.5 -219.4,171.5 -234.2,201.5 -238,212.5 -237.6,216.5 -234.4,223.5 -233.6,232.5 -232.2,235.5 -229.5,238.2 -226.5,239.2 -222.5,238.2 -214.5,233.7 -203.5,224.1 -186.5,219.4 -183.5,217 -176.5,208.8 -173.5,207.1 -165.5,207.3 -153.5,211.1 -148.5,211.3 -125.5,203.4 -119.5,203.1 -102.5,204.7 -94.5,203.1 -86.5,199.5 -84,196.5 -81.9,188.5 -68.5,166.7 -64.5,161.3 -54,150.5 -53,147.5 -52.5,139.5 -44.7,131.5 -41.1,119.5 -37.8,112.5 -21.9,92.5 -21.6,89.5 -23.3,87.5 -33.5,85.4 -36.5,83.6 -38.1,81.5 -38,77.5 -32.9,71.5 -32.2,67.5 -35.5,62.1 -42.1,57.5 -50.4,54.5 -63.5,51.2 -67.5,48.6 -72.5,43.9 -76.5,42.2 -81.5,42.5 -95.5,47.2 -102.5,48.2 -110.5,46.7 -119.5,42ZM155.5,-210.6 140.5,-204.4 138,-202.5 136.4,-199.5 135,-193.5 136.5,-184.5 139.3,-176.5 142.5,-172.8 144.5,-172.4 146.5,-173.2 150,-177.5 157.9,-197.5 160.4,-205.5 160.5,-208.2 158.6,-210.5ZM181.5,-193.5 174.5,-191.3 166.5,-185.5 161.1,-178.5 159.1,-171.5 159.9,-169.5 162.5,-168.3 169.5,-169.7 175.5,-169.9 179.5,-169.5 182.4,-167.5 181.4,-166.5 172.5,-163 170.5,-161.2 169,-158.5 166.5,-147.5 167.8,-142.5 173.5,-133.7 177.5,-131.2 184.5,-130.5 194.5,-133.1 207.5,-139.7 214.7,-145.5 217.4,-149.5 218.3,-152.5 217.5,-155.5 214.5,-158 194.5,-163.3 190.9,-165.5 190.6,-166.5 197.5,-170.1 200.5,-173.1 201.9,-177.5 201.3,-182.5 198.5,-188.1 193.5,-192.2 187.5,-193.8ZM297.2,-297.5 303.5,-297.8 306.5,-297.1 309,-295.5 310.3,-291.5 307.5,-286.5 304.5,-285.1 301.5,-285.2 298.5,-286.3 295.8,-288.5 294.1,-291.5 293.9,-293.5 294.6,-295.5ZM271.8,-251.5 275.5,-254.1 278.5,-253.7 283.4,-249.5 285.3,-243.5 284.9,-241.5 283.5,-239.7 280.5,-238.7 277.5,-239 272.9,-242.5 271,-248.5ZM-197.9,-248.5 -189.5,-249.3 -185.3,-246.5 -183.9,-243.5 -183.8,-239.5 -185.4,-235.5 -187.5,-233.3 -191.5,-231.5 -196.5,-231.3 -200.5,-233 -204,-236.5 -205.6,-240.5 -205.1,-243.5 -202.5,-246.5ZM354,-244.5 365.5,-242.2 385.5,-241.4 393.5,-237 397.6,-233.5 401.6,-222.5 401.5,-215.5 398.5,-206 389.5,-195.9 383.5,-193.1 376.5,-191.2 361.5,-194.3 351.4,-200.5 341.5,-212.5 330.3,-221.5 329.9,-222.5 330.9,-224.5 349.5,-242.2ZM326.7,-177.5 329.5,-177.5 332.8,-174.5 333.6,-170.5 332.8,-168.5 331.5,-167.6 328.5,-168.4 326.1,-171.5 325.3,-175.5ZM422.7,-74.5 434.5,-74 443.5,-70.3 446.2,-66.5 447.5,-61.8 447.3,-57.5 445.5,-54.4 442.5,-53.1 437.5,-54.2 426.5,-58.9 415.7,-65.5 413.6,-68.5 414.2,-71.5 417.5,-73.6ZM-111.8,74.5 -96.5,73.9 -89.5,75.4 -79.1,80.5 -75.7,83.5 -73.5,86.9 -71.6,97.5 -74.4,120.5 -76.4,126.5 -83,138.5 -86.5,141.8 -88.5,142.5 -90.5,142.2 -93.5,140 -102.5,129.9 -108.5,126.5 -115.5,126.4 -122.5,128.8 -128.5,133.2 -138.9,143.5 -159.5,168.3 -160.5,171.1 -160.7,175.5 -157.7,182.5 -157.5,185.5 -159.5,191 -163.4,195.5 -174.5,202.7 -186.5,206.4 -200.5,208 -205.5,207.4 -208.5,206.1 -210.6,203.5 -210.8,199.5 -209.5,195.5 -206.5,191.1 -200.8,184.5 -158.6,142.5 -147.2,129.5 -138.2,117.5 -133.2,108.5 -129.9,100.5 -128,93.5 -126.3,82.5 -124.5,78.5 -120.5,75.8Z"/>
<path fill="#ff521a" fill-rule="evenodd" d="M41.1,-438.5 62,-449.5 231.6,-449.5 269.9,-353.5 271.8,-346.5 272,-337.5 268.5,-317.5 263.7,-305.5 258.3,-296.5 254.5,-291.8 245.8,-283.5 234.5,-275.9 222.5,-269.4 213.5,-266.4 207.5,-266.2 198.2,-269.5 159.5,-292.9 152.5,-296 148.5,-296.1 146.2,-294.5 145.4,-292.5 146.8,-286.5 152.3,-278.5 161.2,-270.5 162.2,-268.5 160.5,-266.8 146.5,-262.5 129.5,-254.8 126.7,-250.5 124.5,-240.5 124.5,-222.5 126.8,-201.5 131,-182.5 136.5,-171.5 139.5,-168.6 147,-164.5 152.6,-159.5 161.5,-146.9 169.1,-133.5 174.5,-128.8 177.5,-127.6 187.5,-126.1 202.5,-126.9 215.5,-124.4 229.5,-118.2 239.5,-110.7 243.3,-106.5 247.5,-99.5 251.5,-89.2 255.3,-74.5 262.8,-60.5 262.3,-56.5 258.5,-53.6 252.5,-52.9 241.5,-53.2 233.5,-52.1 214.5,-45.1 207.2,-40.5 200.4,-34.5 196.8,-29.5 195.2,-24.5 195.4,-19.5 197.9,-12.5 206.5,0.9 216.5,9.6 231.5,18 241.5,25.2 248.5,32.7 251.8,37.5 254,45.5 253.6,51.5 249.9,64.5 243,79.5 234.5,93 212,121.5 185.5,162.1 181.5,165.8 177.5,167.3 174.5,167.5 137.5,158.2 124.5,156.3 118.5,156.3 108.5,159.2 96.5,166.9 84.5,172.4 59.5,178.6 43.5,180.8 35.5,184.9 31.5,189.5 22,210.5 -1.3,255.5 -5.8,261.5 -13.5,266.2 -20.5,267.3 -25.9,266.5 -44.5,257.8 -50.5,256.1 -55.5,255.7 -61.5,258.1 -66.5,264.6 -73.3,269.5 -80.5,271.6 -90.6,271.5 -95.5,270.5 -101.5,267.7 -116.6,254.5 -123.1,250.5 -132.5,248.6 -151.5,248.6 -185.5,252.2 -204.5,256.2 -212.9,260.5 -220.8,268.5 -229.9,274.5 -242.5,280.6 -247.5,282 -252.5,280.7 -261.5,276.4 -274.9,258.5 -287.5,250.9 -291.5,250.5 -300.5,252.3 -311.5,257.5 -313.5,257.6 -314,255.5 -310.9,237.5 -311.1,228.5 -312.2,221.5 -314.2,214.5 -328.5,179.6 -331.9,164.5 -331.6,154.5 -327.6,144.5 -326.5,139.5 -326.3,135.5 -327.3,129.5 -332.1,117.5 -340.3,104.5 -342.5,102.3 -348.5,100.3 -351.2,97.5 -361.1,72.5 -368.1,47.5 -371.9,19.5 -371.7,9.5 -369.3,1.5 -365.5,-4.5 -358.9,-11.5 -330.8,-30.5 -308.3,-48.5 -290.5,-66.3 -270.9,-88.5 -260.5,-97.7 -237.5,-113 -186.5,-142.9 -162.5,-159.3 -157.5,-165.2 -154.7,-170.5 -151.9,-187.5 -150.3,-192.5 -147.4,-197.5 -142.5,-202.9 -133.5,-207.8 -112.5,-214.1 -103.5,-217.8 -98.5,-220.8 -93.6,-225.5 -89,-235.5 -86.3,-247.5 -84.6,-263.5 -84.6,-277.5 -86,-291.5 -89,-303.5 -105.5,-339.6 -107.3,-345.5 -108.1,-351.5 -107.4,-355.5 -104.9,-360.5 -100,-366.5 -89.5,-374.5 -76.5,-382.4 -65.5,-387.2 -54.5,-389.4 -44.5,-388.4 -37.5,-386.1 -31.5,-383 -22.5,-376 -5.5,-368.5 0.5,-368.6 7.5,-371.5 17.5,-378.5 23.8,-386.5 25.4,-391.5 26.6,-402.5 31.1,-411.5 34.5,-420.5 37.7,-435.5ZM76.5,-301.7 71.5,-300.1 68.5,-298 65,-293.5 63.7,-289.5 64.3,-284.5 66.5,-280.7 69.5,-277.8 73.5,-276.4 78.5,-277.4 84.3,-281.5 88.5,-287.5 90.5,-293.5 89.9,-297.5 87.5,-300 82.5,-301.5ZM159.5,-386.6 154.5,-382.5 148.6,-374.5 135.9,-350.5 131.5,-338.5 130.6,-333.5 131.5,-328.5 134.5,-326 139.5,-325.9 143.7,-328.5 152.8,-340.5 160.3,-347.5 166,-357.5 168.4,-367.5 167.2,-382.5 164.5,-386.8 162.5,-387.3ZM-122.5,40.5 -127.1,42.5 -132.2,46.5 -136,50.5 -138.1,54.5 -138.4,60.5 -134.9,69.5 -133.8,77.5 -135.5,84.2 -140.5,92.1 -144.6,96.5 -154.5,103.2 -161.8,109.5 -163.9,113.5 -164.5,120.1 -171.5,120.7 -176.1,123.5 -179.2,126.5 -180.7,130.5 -180,132.5 -177.1,135.5 -176.7,136.5 -177.5,138.5 -181.5,140.6 -188.5,140.3 -192.5,141 -201.5,146 -209.9,153.5 -222.2,171.5 -236,199.5 -241.9,213.5 -239.7,227.5 -237.1,235.5 -233.5,241.3 -228.5,245.5 -222.5,247.7 -215.5,247.8 -210.5,246.6 -203.5,243.3 -183,226.5 -180.6,222.5 -179.4,216.5 -175.5,211.6 -172.5,209.8 -165.5,209.8 -154.5,213.4 -148.5,213.8 -124.5,205.7 -119.5,205.5 -108.5,207 -102.5,206.7 -93.5,204.9 -85.5,201.2 -82.5,197.5 -80.5,189 -69.5,170.4 -63.9,162.5 -55.4,154.5 -52.5,150.5 -51.6,147.5 -51.5,140.5 -50.3,138.5 -45.5,135 -43.7,132.5 -39.7,119.5 -36.8,113.5 -20.8,93.5 -20.1,89.5 -22.3,86.5 -32.5,84.3 -36.5,81.5 -36.8,78.5 -31.3,71.5 -30.8,67.5 -34.2,61.5 -40.5,56.8 -49.5,53.4 -62.5,50.1 -66.5,47.7 -71.5,42.9 -75.5,41 -81.5,41.2 -96.5,46.1 -102.5,46.9 -109.5,45.7 -118.5,40.9ZM22.5,-272.7 12.5,-268.8 9.9,-266.5 9.7,-264.5 10.6,-262.5 17.5,-257.3 23.5,-256.2 36.5,-255.7 42.9,-257.5 46.3,-260.5 46.8,-262.5 46,-265.5 44.4,-267.5 40.5,-270.1 33.5,-272.2ZM66.5,-241.6 63.5,-239.6 61.5,-236.9 60.9,-234.5 61.6,-231.5 63.8,-228.5 67.5,-226.2 71.5,-225.4 74.5,-226.2 76.5,-227.6 78.5,-230.5 79.2,-233.5 78.5,-236.7 76.2,-239.5 72.5,-241.7 69.5,-242.2ZM300.4,-294.5 305.5,-293.5 306.3,-291.5 305.5,-290 302.5,-288.8 298.8,-290.5 298.3,-293.5ZM236.5,-257.5 238.5,-258.4 240.9,-257.5 241.1,-254.5 239.5,-252.6 237.5,-252.1 235.6,-253.5 235.3,-255.5ZM275.6,-249.5 278,-249.5 280.5,-247.5 281.5,-244.5 280.5,-242.7 278.5,-242.5 275.8,-244.5 274.7,-247.5ZM420,-70.5 429.5,-71.1 434.5,-70.4 440,-68.5 442.5,-67 444.5,-64.5 445.3,-61.5 445,-58.5 443.5,-56.9 440.5,-56.9 429,-61.5 419.1,-67.5 418.5,-69.5ZM-110.1,77.5 -97.5,77.4 -91.4,78.5 -81.3,83.5 -78,86.5 -76,89.5 -74.3,98.5 -75.8,112.5 -78.5,124.5 -83.5,134.7 -86.5,137.8 -89.5,138.3 -92.5,136.1 -100.5,127.4 -105.5,123.9 -113.5,121.8 -120.5,123.8 -127.5,128.9 -142.3,143.5 -162,166.5 -162.8,169.5 -162.4,175.5 -160.7,184.5 -162.4,188.5 -165.5,192.2 -174.5,198.5 -187.8,203.5 -198.5,205.3 -203.5,204.8 -206.1,203.5 -207.4,201.5 -207.2,198.5 -201.5,189.9 -156.7,145.5 -145.3,132.5 -135.4,119.5 -127.1,103.5 -125.2,96.5 -123.5,85.5 -121.8,81.5 -117.5,78.8ZM-327.7,285.5 -323.5,279.6 -322.5,280.9 -322,288.5 -322.4,295.5 -324.5,298 -327.4,296.5 -328.7,292.5Z"/>
<path fill="#e53300" fill-rule="evenodd" d="M220.1,-381.5 223.5,-382.1 227.5,-380.7 235.8,-373.5 241.4,-362.5 243.7,-349.5 240.5,-324.6 235.9,-305.5 232.3,-298.5 228.5,-294.3 223.5,-291.2 217.5,-290.2 213.5,-290.8 207.5,-293.1 198.1,-300.5 192.5,-307.5 188.6,-314.5 186.5,-320.5 185.9,-325.5 188.5,-334.3 202,-355.5 211.5,-373.2 214.5,-376.9ZM-55.8,-334.5 -49.5,-335.1 -40.5,-331.3 -33.5,-329.4 -14.5,-326.4 -5.7,-321.5 4.5,-319.3 8.5,-316.2 11.5,-312 15.6,-301.5 18.4,-278.5 17.9,-276.5 16.3,-274.5 7.5,-269.5 6.3,-267.5 5.9,-264.5 7.7,-260.5 13.3,-254.5 13.9,-244.5 17,-238.5 23.5,-232.4 30.5,-227.8 56.6,-214.5 75.5,-206.2 90.5,-200.8 95.6,-197.5 101.3,-191.5 110.1,-173.5 118.5,-160.5 126.5,-150.9 142.5,-136.1 153.5,-121.5 165.9,-100.5 172,-86.5 171.1,-76.5 166,-65.5 163.3,-55.5 163.2,-44.5 165.1,-36.5 167.3,-31.5 174.5,-19.7 179.5,-15.5 189.5,20.2 197.1,35.5 206.6,48.5 208.3,53.5 208.6,57.5 206.2,68.5 202.9,75.5 198.5,82.1 183.6,101.5 178.5,105 172.5,107.7 162.5,109.8 151.5,107 138.2,97.5 120.5,81.7 117.5,80.4 114.5,80.2 110.3,82.5 91.4,101.5 68.7,133.5 62.7,140.5 59.5,142.4 55.5,143.1 52.5,142.2 35,128.5 24.5,122.2 17.5,119.7 13.1,120.5 9.5,124.3 -0.5,145.5 -4.5,151.6 -11.5,157.6 -23.6,163.5 -27.5,166.4 -44.1,190.5 -53.5,201.2 -57.5,203.8 -64.5,205.6 -73.5,212.2 -77.5,213.2 -79.5,212.5 -81.3,210.5 -82.4,204.5 -77.5,188.5 -64.5,165.5 -51.5,151.5 -50.2,147.5 -50,140.5 -42.7,133.5 -38.5,120.2 -35.5,113.9 -18.9,92.5 -18.9,88.5 -21.3,85.5 -24.5,84.1 -32.5,82.9 -35.3,80.5 -34.6,77.5 -30.3,72.5 -29.3,68.5 -31.7,62.5 -37.5,57 -46.5,52.9 -62.5,48.7 -71.5,41.3 -75.5,39.6 -82.5,40 -96.5,44.7 -102.5,45.6 -109.5,44.2 -119.5,39.2 -122.5,39.1 -125.5,40 -133.5,44.8 -138.5,51.5 -140.2,58.5 -138.1,67.5 -138.1,70.5 -150,93.5 -164.1,109.5 -168.1,115.5 -178.7,123.5 -186.5,132.6 -215.5,153.4 -229.5,159.8 -248.5,164.8 -260.5,166 -267.5,165.7 -277.5,164.1 -287.8,159.5 -292.8,154.5 -295.9,145.5 -299.3,140.5 -302.5,138.3 -316.5,131.8 -319.2,129.5 -320.9,126.5 -321,119.5 -318.5,113.6 -313.7,108.5 -303.4,101.5 -297.4,93.5 -295.5,87.5 -295,81.5 -295.7,76.5 -298.1,70.5 -300.5,68.2 -304.5,67.2 -315.5,71.1 -325.5,76.8 -330.3,80.5 -335.8,87.5 -341.5,96.7 -344.5,97.6 -347.5,96.6 -349.5,93.6 -353.5,83.9 -362.5,56.4 -365.5,42.6 -367.1,22.5 -364.5,9.5 -360.2,1.5 -357.1,-2.5 -338.4,-20.5 -315.5,-37.9 -305.5,-46.5 -288.4,-63.5 -276.5,-76.7 -259.9,-90.5 -246.5,-98.9 -218.5,-113 -205.5,-118.3 -191.5,-122.5 -185.5,-126 -175.2,-134.5 -164.5,-148.1 -153.5,-165.3 -149.5,-169.3 -118.5,-176.5 -99.5,-182.5 -89.4,-186.5 -82.4,-190.5 -78.2,-193.5 -73.5,-198.4 -64.5,-209.5 -56.9,-221.5 -47.2,-232.5 -45.5,-236.5 -46.3,-242.5 -57.9,-266.5 -61.5,-277 -68,-313.5 -67.7,-319.5 -65.1,-326.5 -59.5,-332.5ZM-107.4,83.5 -98.5,82.9 -90.5,84.4 -83.5,88 -79.5,92.5 -77.7,98.5 -77.9,106.5 -80.5,119.5 -83.8,128.5 -86.5,131.3 -89.5,131.5 -92.5,129.1 -101.4,118.5 -106.5,116 -111.5,115.3 -115.5,116.1 -121.5,119.1 -126.5,122.8 -134.5,130.9 -136.5,131.6 -134.5,126.7 -121.8,104.5 -116.5,88.5 -113.3,85.5ZM-170.2,171.5 -167.5,171.4 -165.6,172.5 -164.6,177.5 -165.4,182.5 -169.5,187.4 -178.5,194.1 -188.5,199.3 -196.5,201.6 -199.5,201.5 -201.2,200.5 -201.7,198.5 -200.4,195.5 -191.6,184.5 -179.5,175.3Z"/>
<path fill="#b82400" fill-rule="evenodd" d="M-26.6,-236.5 -17.5,-237.1 -12.5,-235.3 -1.5,-227.9 8.5,-218.4 15.9,-212.5 28.5,-204.5 41.5,-200.5 58.5,-198 68.5,-194.2 76.5,-189 81.5,-184.7 87.9,-177.5 95.3,-165.5 108.5,-146.8 125.1,-125.5 131.4,-114.5 137,-101.5 142,-88.5 145.8,-74.5 147.2,-63.5 147.1,-58.5 145.6,-48.5 141.8,-34.5 144.2,-22.5 154.6,16.5 156.2,32.5 155.4,38.5 153.7,43.5 151.5,46.9 148.5,49.1 141.5,50.5 112.5,48.5 102.5,50.5 90.5,59.9 78.1,73.5 66.2,89.5 61.5,93.3 55.5,97 43.5,102.1 28.5,107 16.5,110 9.8,113.5 8,115.5 4.5,123 -0.5,130.5 -20.8,154.5 -31.3,165.5 -49.5,191.9 -55.6,198.5 -60.5,200.8 -63.5,199.5 -66.7,193.5 -67.8,189.5 -67.9,182.5 -65.5,172.9 -60.5,163.7 -52.8,156.5 -49.8,152.5 -48.4,148.5 -48.1,141.5 -41,134.5 -36.5,120.2 -33.5,114.3 -18.9,96.5 -16.8,92.5 -17.1,87.5 -19.5,84.4 -24.5,82.2 -30.5,81.5 -32.5,80.5 -32.9,79.5 -28.6,73.5 -27.5,70.5 -27.8,65.5 -30,61.5 -33.5,57.7 -38.5,54.2 -46.5,50.9 -62.5,46.5 -69.5,40.3 -74.5,37.8 -82.5,38 -95.9,42.5 -102.5,43.6 -108.7,42.5 -119.5,37.2 -122.5,37.1 -130.5,38.8 -136.5,36.7 -160.6,23.5 -202.5,2.3 -215.9,-3.5 -226.5,-6.6 -230.4,-8.5 -234.6,-12.5 -236.9,-16.5 -239.1,-25.5 -239.4,-32.5 -236.8,-39.5 -231.1,-44.5 -201.5,-57.3 -190.5,-63.2 -181.5,-69.5 -177.1,-73.5 -160.1,-92.5 -158.8,-95.5 -158.1,-101.5 -160.9,-118.5 -160.5,-134.5 -157.5,-147.5 -152.5,-156.5 -149.5,-159.9 -144,-164.5 -137.5,-167.5 -103.5,-176.8 -89.5,-182.1 -84.5,-184.8 -77.5,-189.4 -73.2,-193.5 -63.2,-205.5 -54.5,-218.7 -42.5,-231.5 -37.5,-234.4ZM137.5,-19.4 136.5,-18.1 136.2,-15.5 136.5,-13.4 137.5,-12.7 138.1,-15.5ZM-303,23.5 -293.5,23 -287.5,23.6 -275.5,26.3 -259.5,32.2 -220.5,50.1 -215.2,55.5 -214,59.5 -214.5,62.5 -218.5,66.3 -225.5,68.4 -231.5,69.4 -242.5,69.3 -260.5,66.4 -274.5,63 -290.5,56.9 -309.5,46.5 -313.1,43.5 -315.6,39.5 -316.2,34.5 -314.5,30.5 -310.5,26.9ZM-153.1,42.5 -147.5,41.7 -143.8,42.5 -141.2,45.5 -140.8,49.5 -143.2,64.5 -145.2,70.5 -154.4,90.5 -161.3,101.5 -174.3,116.5 -185.5,126.5 -195.5,133.7 -204.5,138.8 -212.5,141.4 -218.5,141.7 -223.5,139.9 -225.5,137.5 -224.8,133.5 -209.3,113.5 -182.5,69.1 -166.6,50.5 -160.3,45.5ZM-104.6,88.5 -98.5,87.7 -91.5,88.6 -85.7,91.5 -82.4,95.5 -81.1,100.5 -81.5,108.5 -84.5,120.6 -87.5,125.4 -90.3,124.5 -96.5,116.5 -106.6,109.5 -109.9,105.5 -111.1,100.5 -110.4,94.5 -108,90.5ZM-174.9,178.5 -171.5,178 -170.1,179.5 -170.6,181.5 -173.1,184.5 -184.5,192.8 -188.5,194.2 -191.1,193.5 -191.6,190.5 -189.5,186.5Z"/>
<path fill="#8b0000" fill-rule="evenodd" d="M-84.5,-165.5 -77.5,-165.9 -70.5,-164.8 -66.5,-163.5 -62.1,-160.5 -57.5,-156.4 -51.4,-148.5 -43.5,-133.4 -33.2,-108.5 -13.6,-53.5 -13.2,-49.5 -14.3,-31.5 -15.2,-27.5 -17.5,-23.5 -27.5,-9.5 -30.5,-6.9 -51.5,2 -58.5,3.5 -89.5,3.4 -120.5,0.2 -179.5,-16 -185.1,-18.5 -191.9,-24.5 -194.2,-28.5 -194,-38.5 -190.5,-43.2 -187.5,-45.3 -184.5,-46.3 -169.5,-46.8 -153.5,-50.5 -145.5,-53.5 -139.5,-56.8 -135.5,-60.2 -133.4,-63.5 -132.7,-66.5 -132.9,-70.5 -136.5,-79.5 -137.5,-84.5 -137.3,-102.5 -140.7,-122.5 -140.2,-127.5 -138.1,-131.5 -127.5,-144.5 -115.5,-154 -107.5,-158.8 -97.5,-162.9ZM-102.9,94.5 -95.5,93.8 -91.5,94.9 -89.1,96.5 -86.9,99.5 -86.1,102.5 -86.2,105.5 -87.5,108.1 -90.3,109.5 -93.5,109.4 -100,107.5 -104.5,105.1 -106.5,102.5 -106.8,99.5 -105.6,96.5Z"/>
<circle r="98" fill="#fff"/><use href="#coast"/></g><circle r="446.9" fill="none" stroke="#000" stroke-width="2.8"/></g>
<g stroke="#000" stroke-width="2.2"><rect x="100.10" y="1368.1" width="54.16" height="43.0" fill="#00008b"/><rect x="154.26" y="1368.1" width="54.16" height="43.0" fill="#0024b8"/><rect x="208.43" y="1368.1" width="54.16" height="43.0" fill="#0033e5"/><rect x="262.59" y="1368.1" width="54.16" height="43.0" fill="#1a52ff"/><rect x="316.75" y="1368.1" width="54.16" height="43.0" fill="#4477ff"/><rect x="370.91" y="1368.1" width="54.16" height="43.0" fill="#85aaff"/><rect x="425.08" y="1368.1" width="54.16" height="43.0" fill="#b3ccff"/><rect x="479.24" y="1368.1" width="54.16" height="43.0" fill="#d9ebff"/><rect x="533.40" y="1368.1" width="54.16" height="43.0" fill="#ffebd9"/><rect x="587.56" y="1368.1" width="54.16" height="43.0" fill="#ffccb3"/><rect x="641.73" y="1368.1" width="54.16" height="43.0" fill="#ffaa85"/><rect x="695.89" y="1368.1" width="54.16" height="43.0" fill="#ff7744"/><rect x="750.05" y="1368.1" width="54.16" height="43.0" fill="#ff521a"/><rect x="804.21" y="1368.1" width="54.16" height="43.0" fill="#e53300"/><rect x="858.38" y="1368.1" width="54.16" height="43.0" fill="#b82400"/><rect x="912.54" y="1368.1" width="54.16" height="43.0" fill="#8b0000"/></g>
<g stroke="#000" stroke-width="2.2"><rect x="1177.10" y="1368.1" width="54.16" height="43.0" fill="#00008b"/><rect x="1231.26" y="1368.1" width="54.16" height="43.0" fill="#0024b8"/><rect x="1285.42" y="1368.1" width="54.16" height="43.0" fill="#0033e5"/><rect x="1339.59" y="1368.1" width="54.16" height="43.0" fill="#1a52ff"/><rect x="1393.75" y="1368.1" width="54.16" height="43.0" fill="#4477ff"/><rect x="1447.91" y="1368.1" width="54.16" height="43.0" fill="#85aaff"/><rect x="1502.07" y="1368.1" width="54.16" height="43.0" fill="#b3ccff"/><rect x="1556.24" y="1368.1" width="54.16" height="43.0" fill="#d9ebff"/><rect x="1610.40" y="1368.1" width="54.16" height="43.0" fill="#ffebd9"/><rect x="1664.56" y="1368.1" width="54.16" height="43.0" fill="#ffccb3"/><rect x="1718.72" y="1368.1" width="54.16" height="43.0" fill="#ffaa85"/><rect x="1772.89" y="1368.1" width="54.16" height="43.0" fill="#ff7744"/><rect x="1827.05" y="1368.1" width="54.16" height="43.0" fill="#ff521a"/><rect x="1881.21" y="1368.1" width="54.16" height="43.0" fill="#e53300"/><rect x="1935.38" y="1368.1" width="54.16" height="43.0" fill="#b82400"/><rect x="1989.54" y="1368.1" width="54.16" height="43.0" fill="#8b0000"/></g>
<g stroke="#000" stroke-width="2.2"><rect x="1761.7" y="1959.60" width="101.09999999999991" height="44.85" fill="#8b0000"/><rect x="1761.7" y="2004.45" width="101.09999999999991" height="44.85" fill="#b82400"/><rect x="1761.7" y="2049.30" width="101.09999999999991" height="44.85" fill="#e53300"/><rect x="1761.7" y="2094.15" width="101.09999999999991" height="44.85" fill="#ff521a"/><rect x="1761.7" y="2139.00" width="101.09999999999991" height="44.85" fill="#ff7744"/><rect x="1761.7" y="2183.85" width="101.09999999999991" height="44.85" fill="#ffaa85"/><rect x="1761.7" y="2228.70" width="101.09999999999991" height="44.85" fill="#ffccb3"/><rect x="1761.7" y="2273.55" width="101.09999999999991" height="44.85" fill="#ffebd9"/><rect x="1761.7" y="2318.40" width="101.09999999999991" height="44.85" fill="#d9ebff"/><rect x="1761.7" y="2363.25" width="101.09999999999991" height="44.85" fill="#b3ccff"/><rect x="1761.7" y="2408.10" width="101.09999999999991" height="44.85" fill="#85aaff"/><rect x="1761.7" y="2452.95" width="101.09999999999991" height="44.85" fill="#4477ff"/><rect x="1761.7" y="2497.80" width="101.09999999999991" height="44.85" fill="#1a52ff"/><rect x="1761.7" y="2542.65" width="101.09999999999991" height="44.85" fill="#0033e5"/><rect x="1761.7" y="2587.50" width="101.09999999999991" height="44.85" fill="#0024b8"/><rect x="1761.7" y="2632.35" width="101.09999999999991" height="44.85" fill="#00008b"/></g>
<text class="h" font-size="89.16" stroke-width="1.4" style="stroke:#fff" xml:space="preserve"><tspan x="983.2" y="69.4" textLength="57.2" lengthAdjust="spacingAndGlyphs">A</tspan><tspan x="1036.8" y="69.4" textLength="69.8" lengthAdjust="spacingAndGlyphs">N</tspan><tspan x="1100.9" y="69.4" textLength="71.4" lengthAdjust="spacingAndGlyphs">N</tspan></text>
<text class="b" font-size="51.74" xml:space="preserve"><tspan x="2.8" y="147.6" textLength="1061.4" lengthAdjust="spacingAndGlyphs">BT1850_adjustcloud_v2.10_test15 (yrs 61-90)</tspan></text>
<text class="b" font-size="51.74" xml:space="preserve"><tspan x="1472.8" y="152.0" textLength="274.2" lengthAdjust="spacingAndGlyphs">CLOUDSAT</tspan></text>
<text class="b" font-size="51.74" xml:space="preserve"><tspan x="511.0" y="1593.0" textLength="1119.8" lengthAdjust="spacingAndGlyphs">BT1850_adjustcloud_v2.10_test15 - CLOUDSAT</tspan></text>
<text class="h" font-size="45.68" stroke-width="0.6" xml:space="preserve"><tspan x="80.0" y="293.3" textLength="88.7" lengthAdjust="spacingAndGlyphs">Low</tspan><tspan x="168.3" y="290.3" textLength="37.9" lengthAdjust="spacingAndGlyphs">-</tspan><tspan x="209.0" y="293.3" textLength="102.2" lengthAdjust="spacingAndGlyphs">level</tspan> <tspan x="334.6" y="293.3" textLength="126.4" lengthAdjust="spacingAndGlyphs">cloud</tspan></text>
<text class="h" font-size="45.68" stroke-width="0.6" xml:space="preserve"><tspan x="806.0" y="283.0" textLength="177.2" lengthAdjust="spacingAndGlyphs">percent</tspan></text>
<text class="h" font-size="45.68" stroke-width="0.6" xml:space="preserve"><tspan x="1157.7" y="293.3" textLength="88.7" lengthAdjust="spacingAndGlyphs">Low</tspan><tspan x="1245.7" y="290.3" textLength="38.2" lengthAdjust="spacingAndGlyphs">-</tspan><tspan x="1286.5" y="293.3" textLength="102.3" lengthAdjust="spacingAndGlyphs">level</tspan> <tspan x="1412.2" y="293.3" textLength="126.5" lengthAdjust="spacingAndGlyphs">cloud</tspan></text>
<text class="h" font-size="45.68" stroke-width="0.6" xml:space="preserve"><tspan x="1883.6" y="283.0" textLength="177.3" lengthAdjust="spacingAndGlyphs">percent</tspan></text>
<text class="h" font-size="45.68" stroke-width="0.6" xml:space="preserve"><tspan x="618.9" y="1738.5" textLength="88.7" lengthAdjust="spacingAndGlyphs">Low</tspan><tspan x="707.0" y="1735.5" textLength="37.9" lengthAdjust="spacingAndGlyphs">-</tspan><tspan x="746.7" y="1738.5" textLength="103.3" lengthAdjust="spacingAndGlyphs">level</tspan> <tspan x="873.4" y="1738.5" textLength="126.5" lengthAdjust="spacingAndGlyphs">cloud</tspan></text>
<text class="h" font-size="45.68" stroke-width="0.6" xml:space="preserve"><tspan x="1344.8" y="1728.2" textLength="177.3" lengthAdjust="spacingAndGlyphs">percent</tspan></text>
<text class="h" font-size="38.41" stroke-width="0.8" xml:space="preserve"><tspan x="99.1" y="1338.2" textLength="136.3" lengthAdjust="spacingAndGlyphs">MEAN=</tspan> <tspan x="274.7" y="1338.2" textLength="112.9" lengthAdjust="spacingAndGlyphs">70.83</tspan> <tspan x="424.3" y="1338.2" textLength="96.8" lengthAdjust="spacingAndGlyphs">Min=</tspan> <tspan x="579.2" y="1338.2" textLength="89.6" lengthAdjust="spacingAndGlyphs">0.37</tspan> <tspan x="703.5" y="1338.2" textLength="109.9" lengthAdjust="spacingAndGlyphs">Max=</tspan> <tspan x="851.4" y="1338.2" textLength="113.8" lengthAdjust="spacingAndGlyphs">97.54</tspan></text>
<text class="h" font-size="37.72" stroke-width="0.8" xml:space="preserve"><tspan x="140.3" y="1461.6" textLength="27.5" lengthAdjust="spacingAndGlyphs">5</tspan></text>
<text class="h" font-size="37.72" stroke-width="0.8" xml:space="preserve"><tspan x="239.4" y="1461.6" textLength="46.3" lengthAdjust="spacingAndGlyphs">15</tspan></text>
<text class="h" font-size="37.72" stroke-width="0.8" xml:space="preserve"><tspan x="348.3" y="1461.6" textLength="47.7" lengthAdjust="spacingAndGlyphs">25</tspan></text>
<text class="h" font-size="37.72" stroke-width="0.8" xml:space="preserve"><tspan x="456.8" y="1461.6" textLength="46.4" lengthAdjust="spacingAndGlyphs">40</tspan></text>
<text class="h" font-size="37.72" stroke-width="0.8" xml:space="preserve"><tspan x="564.0" y="1461.6" textLength="47.9" lengthAdjust="spacingAndGlyphs">60</tspan></text>
<text class="h" font-size="37.72" stroke-width="0.8" xml:space="preserve"><tspan x="673.5" y="1461.6" textLength="47.9" lengthAdjust="spacingAndGlyphs">75</tspan></text>
<text class="h" font-size="37.72" stroke-width="0.8" xml:space="preserve"><tspan x="780.8" y="1461.6" textLength="49.0" lengthAdjust="spacingAndGlyphs">85</tspan></text>
<text class="h" font-size="37.72" stroke-width="0.8" xml:space="preserve"><tspan x="890.1" y="1461.6" textLength="49.0" lengthAdjust="spacingAndGlyphs">95</tspan></text>
<text class="h" font-size="38.41" stroke-width="0.8" xml:space="preserve"><tspan x="1176.1" y="1338.2" textLength="136.3" lengthAdjust="spacingAndGlyphs">MEAN=</tspan> <tspan x="1351.6" y="1338.2" textLength="114.1" lengthAdjust="spacingAndGlyphs">51.91</tspan> <tspan x="1501.3" y="1338.2" textLength="96.8" lengthAdjust="spacingAndGlyphs">Min=</tspan> <tspan x="1656.2" y="1338.2" textLength="89.6" lengthAdjust="spacingAndGlyphs">0.03</tspan> <tspan x="1780.5" y="1338.2" textLength="109.9" lengthAdjust="spacingAndGlyphs">Max=</tspan> <tspan x="1928.4" y="1338.2" textLength="114.8" lengthAdjust="spacingAndGlyphs">75.91</tspan></text>
<text class="h" font-size="37.72" stroke-width="0.8" xml:space="preserve"><tspan x="1217.3" y="1461.6" textLength="27.5" lengthAdjust="spacingAndGlyphs">5</tspan></text>
<text class="h" font-size="37.72" stroke-width="0.8" xml:space="preserve"><tspan x="1316.4" y="1461.6" textLength="46.3" lengthAdjust="spacingAndGlyphs">15</tspan></text>
<text class="h" font-size="37.72" stroke-width="0.8" xml:space="preserve"><tspan x="1425.3" y="1461.6" textLength="47.7" lengthAdjust="spacingAndGlyphs">25</tspan></text>
<text class="h" font-size="37.72" stroke-width="0.8" xml:space="preserve"><tspan x="1533.8" y="1461.6" textLength="46.4" lengthAdjust="spacingAndGlyphs">40</tspan></text>
<text class="h" font-size="37.72" stroke-width="0.8" xml:space="preserve"><tspan x="1641.0" y="1461.6" textLength="47.9" lengthAdjust="spacingAndGlyphs">60</tspan></text>
<text class="h" font-size="37.72" stroke-width="0.8" xml:space="preserve"><tspan x="1750.5" y="1461.6" textLength="47.9" lengthAdjust="spacingAndGlyphs">75</tspan></text>
<text class="h" font-size="37.72" stroke-width="0.8" xml:space="preserve"><tspan x="1857.8" y="1461.6" textLength="49.0" lengthAdjust="spacingAndGlyphs">85</tspan></text>
<text class="h" font-size="37.72" stroke-width="0.8" xml:space="preserve"><tspan x="1967.1" y="1461.6" textLength="49.0" lengthAdjust="spacingAndGlyphs">95</tspan></text>
<text class="h" font-size="38.82" stroke-width="0.8" xml:space="preserve"><tspan x="1565.5" y="1880.2" textLength="70.8" lengthAdjust="spacingAndGlyphs">MIN</tspan> <tspan x="1654.1" y="1880.2" textLength="31.2" lengthAdjust="spacingAndGlyphs">=</tspan> <tspan x="1706.0" y="1877.7" textLength="31.9" lengthAdjust="spacingAndGlyphs">-</tspan><tspan x="1737.6" y="1880.2" textLength="113.6" lengthAdjust="spacingAndGlyphs">30.25</tspan> <tspan x="1867.6" y="1880.2" textLength="76.9" lengthAdjust="spacingAndGlyphs">MAX</tspan> <tspan x="1965.2" y="1880.2" textLength="31.9" lengthAdjust="spacingAndGlyphs">=</tspan> <tspan x="2036.6" y="1880.2" textLength="106.7" lengthAdjust="spacingAndGlyphs">60.21</tspan></text>
<text class="h" font-size="37.04" stroke-width="0.8" xml:space="preserve"><tspan x="1888.3" y="2016.6" textLength="49.3" lengthAdjust="spacingAndGlyphs">50</tspan></text>
<text class="h" font-size="37.04" stroke-width="0.8" xml:space="preserve"><tspan x="1890.7" y="2061.5" textLength="46.8" lengthAdjust="spacingAndGlyphs">40</tspan></text>
<text class="h" font-size="37.04" stroke-width="0.8" xml:space="preserve"><tspan x="1889.5" y="2106.5" textLength="48.0" lengthAdjust="spacingAndGlyphs">30</tspan></text>
<text class="h" font-size="37.04" stroke-width="0.8" xml:space="preserve"><tspan x="1889.5" y="2151.5" textLength="48.0" lengthAdjust="spacingAndGlyphs">20</tspan></text>
<text class="h" font-size="37.04" stroke-width="0.8" xml:space="preserve"><tspan x="1892.3" y="2196.4" textLength="42.0" lengthAdjust="spacingAndGlyphs">15</tspan></text>
<text class="h" font-size="37.04" stroke-width="0.8" xml:space="preserve"><tspan x="1892.4" y="2241.4" textLength="42.0" lengthAdjust="spacingAndGlyphs">10</tspan></text>
<text class="h" font-size="37.04" stroke-width="0.8" xml:space="preserve"><tspan x="1901.1" y="2286.4" textLength="26.1" lengthAdjust="spacingAndGlyphs">5</tspan></text>
<text class="h" font-size="37.04" stroke-width="0.8" xml:space="preserve"><tspan x="1901.6" y="2331.4" textLength="25.2" lengthAdjust="spacingAndGlyphs">0</tspan></text>
<text class="h" font-size="37.04" stroke-width="0.8" xml:space="preserve"><tspan x="1886.5" y="2373.9" textLength="29.1" lengthAdjust="spacingAndGlyphs">-</tspan><tspan x="1914.9" y="2376.3" textLength="27.5" lengthAdjust="spacingAndGlyphs">5</tspan></text>
<text class="h" font-size="37.04" stroke-width="0.8" xml:space="preserve"><tspan x="1874.4" y="2418.9" textLength="29.8" lengthAdjust="spacingAndGlyphs">-</tspan><tspan x="1907.6" y="2421.3" textLength="44.1" lengthAdjust="spacingAndGlyphs">10</tspan></text>
<text class="h" font-size="37.04" stroke-width="0.8" xml:space="preserve"><tspan x="1874.4" y="2463.9" textLength="29.8" lengthAdjust="spacingAndGlyphs">-</tspan><tspan x="1907.5" y="2466.3" textLength="45.4" lengthAdjust="spacingAndGlyphs">15</tspan></text>
<text class="h" font-size="37.04" stroke-width="0.8" xml:space="preserve"><tspan x="1874.4" y="2508.8" textLength="29.8" lengthAdjust="spacingAndGlyphs">-</tspan><tspan x="1905.6" y="2511.2" textLength="46.0" lengthAdjust="spacingAndGlyphs">20</tspan></text>
<text class="h" font-size="37.04" stroke-width="0.8" xml:space="preserve"><tspan x="1874.4" y="2553.8" textLength="29.8" lengthAdjust="spacingAndGlyphs">-</tspan><tspan x="1904.5" y="2556.2" textLength="47.2" lengthAdjust="spacingAndGlyphs">30</tspan></text>
<text class="h" font-size="37.04" stroke-width="0.8" xml:space="preserve"><tspan x="1874.4" y="2598.8" textLength="29.8" lengthAdjust="spacingAndGlyphs">-</tspan><tspan x="1905.7" y="2601.2" textLength="46.0" lengthAdjust="spacingAndGlyphs">40</tspan></text>
<text class="h" font-size="37.04" stroke-width="0.8" xml:space="preserve"><tspan x="1874.4" y="2643.7" textLength="29.8" lengthAdjust="spacingAndGlyphs">-</tspan><tspan x="1903.4" y="2646.2" textLength="48.4" lengthAdjust="spacingAndGlyphs">50</tspan></text>
</svg>
</body></html>
